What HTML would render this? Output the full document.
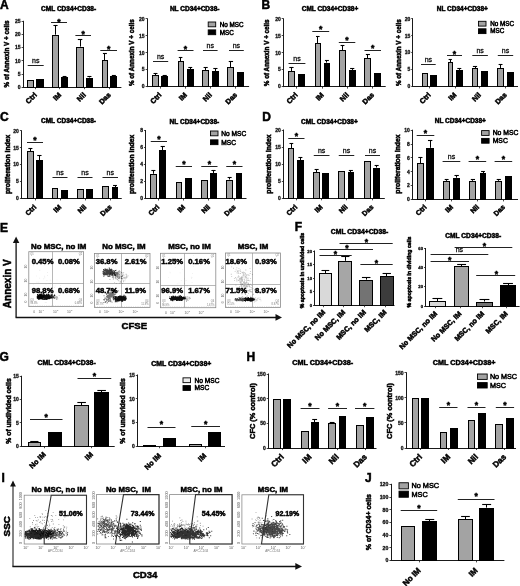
<!DOCTYPE html>
<html><head><meta charset="utf-8"><title>Figure</title>
<style>html,body{margin:0;padding:0;background:#fff;width:520px;height:586px;overflow:hidden}
svg{display:block;filter:blur(0.5px)} text[fill="#000"]{stroke:#000;stroke-width:0.5px} text[fill="#111"]{stroke:#111;stroke-width:0.3px}</style></head>
<body>
<svg width="520" height="586" viewBox="0 0 520 586" font-family='"Liberation Sans", sans-serif'>
<rect width="520" height="586" fill="#fff"/>
<text x="0" y="8.6" font-size="12" font-weight="bold" text-anchor="start" fill="#000">A</text>
<text x="261.6" y="8.7" font-size="12" font-weight="bold" text-anchor="start" fill="#000">B</text>
<text x="0" y="121" font-size="12" font-weight="bold" text-anchor="start" fill="#000">C</text>
<text x="262.3" y="121" font-size="12" font-weight="bold" text-anchor="start" fill="#000">D</text>
<text x="0" y="231.6" font-size="12" font-weight="bold" text-anchor="start" fill="#000">E</text>
<text x="294.7" y="231.4" font-size="12" font-weight="bold" text-anchor="start" fill="#000">F</text>
<text x="-0.4" y="360.5" font-size="12" font-weight="bold" text-anchor="start" fill="#000">G</text>
<text x="246.4" y="360.8" font-size="12" font-weight="bold" text-anchor="start" fill="#000">H</text>
<text x="1.5" y="482.3" font-size="12" font-weight="bold" text-anchor="start" fill="#000">I</text>
<text x="364.9" y="482.3" font-size="12" font-weight="bold" text-anchor="start" fill="#000">J</text>
<line x1="23.5" y1="20.8" x2="23.5" y2="87.7" stroke="#1a1a1a" stroke-width="1"/>
<line x1="22.7" y1="87.5" x2="121.4" y2="87.5" stroke="#1a1a1a" stroke-width="1"/>
<line x1="21.6" y1="87.5" x2="23.2" y2="87.5" stroke="#1a1a1a" stroke-width="0.8"/>
<text x="20.6" y="89" font-size="5" font-weight="bold" text-anchor="end" fill="#111">0</text>
<line x1="21.6" y1="74.5" x2="23.2" y2="74.5" stroke="#1a1a1a" stroke-width="0.8"/>
<text x="20.6" y="75.82" font-size="5" font-weight="bold" text-anchor="end" fill="#111">5</text>
<line x1="21.6" y1="60.5" x2="23.2" y2="60.5" stroke="#1a1a1a" stroke-width="0.8"/>
<text x="20.6" y="62.64" font-size="5" font-weight="bold" text-anchor="end" fill="#111">10</text>
<line x1="21.6" y1="47.5" x2="23.2" y2="47.5" stroke="#1a1a1a" stroke-width="0.8"/>
<text x="20.6" y="49.46" font-size="5" font-weight="bold" text-anchor="end" fill="#111">15</text>
<line x1="21.6" y1="34.5" x2="23.2" y2="34.5" stroke="#1a1a1a" stroke-width="0.8"/>
<text x="20.6" y="36.28" font-size="5" font-weight="bold" text-anchor="end" fill="#111">20</text>
<line x1="21.6" y1="21.5" x2="23.2" y2="21.5" stroke="#1a1a1a" stroke-width="0.8"/>
<text x="20.6" y="23.1" font-size="5" font-weight="bold" text-anchor="end" fill="#111">25</text>
<rect x="27.5" y="80.5" width="6" height="7" fill="#a3a3a3" stroke="#000" stroke-width="1"/>
<rect x="36.5" y="79.5" width="7" height="8" fill="#000" stroke="#000" stroke-width="1"/>
<line x1="55.5" y1="34.7" x2="55.5" y2="25.4" stroke="#000" stroke-width="1"/>
<line x1="53.4" y1="25.5" x2="57.6" y2="25.5" stroke="#000" stroke-width="1.1"/>
<rect x="52.5" y="35.5" width="6" height="52" fill="#a3a3a3" stroke="#000" stroke-width="1"/>
<line x1="64.5" y1="77" x2="64.5" y2="76" stroke="#000" stroke-width="1"/>
<line x1="62.6" y1="76.5" x2="66.5" y2="76.5" stroke="#000" stroke-width="1.1"/>
<rect x="61.5" y="77.5" width="6" height="10" fill="#000" stroke="#000" stroke-width="1"/>
<line x1="80.5" y1="46.6" x2="80.5" y2="39" stroke="#000" stroke-width="1"/>
<line x1="77.8" y1="39.5" x2="82.3" y2="39.5" stroke="#000" stroke-width="1.1"/>
<rect x="76.5" y="47.5" width="7" height="40" fill="#a3a3a3" stroke="#000" stroke-width="1"/>
<line x1="89.5" y1="77.5" x2="89.5" y2="76.5" stroke="#000" stroke-width="1"/>
<line x1="87.36" y1="76.5" x2="91.44" y2="76.5" stroke="#000" stroke-width="1.1"/>
<rect x="86.5" y="78.5" width="6" height="9" fill="#000" stroke="#000" stroke-width="1"/>
<line x1="104.5" y1="60.5" x2="104.5" y2="53.5" stroke="#000" stroke-width="1"/>
<line x1="102.92" y1="53.5" x2="106.88" y2="53.5" stroke="#000" stroke-width="1.1"/>
<rect x="102.5" y="60.5" width="5" height="27" fill="#a3a3a3" stroke="#000" stroke-width="1"/>
<line x1="113.5" y1="76" x2="113.5" y2="75" stroke="#000" stroke-width="1"/>
<line x1="111.84" y1="75.5" x2="115.86" y2="75.5" stroke="#000" stroke-width="1.1"/>
<rect x="110.5" y="76.5" width="6" height="11" fill="#000" stroke="#000" stroke-width="1"/>
<line x1="27.7" y1="65.5" x2="43.7" y2="65.5" stroke="#222" stroke-width="1"/>
<text x="35.7" y="62.92" font-size="7" text-anchor="middle" fill="#111">ns</text>
<line x1="51" y1="22.5" x2="67" y2="22.5" stroke="#222" stroke-width="1"/>
<text x="59" y="24.5" font-size="8.6" font-weight="bold" text-anchor="middle" fill="#000">*</text>
<line x1="75.4" y1="35.5" x2="91" y2="35.5" stroke="#222" stroke-width="1"/>
<text x="83.2" y="36.9" font-size="8.6" font-weight="bold" text-anchor="middle" fill="#000">*</text>
<line x1="100.3" y1="50.5" x2="117" y2="50.5" stroke="#222" stroke-width="1"/>
<text x="108.65" y="51.9" font-size="8.6" font-weight="bold" text-anchor="middle" fill="#000">*</text>
<text x="68.6" y="10.84" font-size="6.5" font-weight="bold" text-anchor="middle" fill="#000">CML CD34+CD38-</text>
<text x="0" y="0" font-size="6.3" font-weight="bold" text-anchor="middle" fill="#000" transform="translate(9.26,54) rotate(-90)">% of Annexin V + cells</text>
<line x1="35.5" y1="87.2" x2="35.5" y2="89.2" stroke="#1a1a1a" stroke-width="0.8"/>
<text x="0" y="0" font-size="7.2" font-weight="bold" text-anchor="end" fill="#000" transform="translate(37.32,95.44) rotate(-45)">Ctrl</text>
<line x1="59.5" y1="87.2" x2="59.5" y2="89.2" stroke="#1a1a1a" stroke-width="0.8"/>
<text x="0" y="0" font-size="7.2" font-weight="bold" text-anchor="end" fill="#000" transform="translate(61.72,95.44) rotate(-45)">IM</text>
<line x1="84.5" y1="87.2" x2="84.5" y2="89.2" stroke="#1a1a1a" stroke-width="0.8"/>
<text x="0" y="0" font-size="7.2" font-weight="bold" text-anchor="end" fill="#000" transform="translate(86.37,95.44) rotate(-45)">Nil</text>
<line x1="109.5" y1="87.2" x2="109.5" y2="89.2" stroke="#1a1a1a" stroke-width="0.8"/>
<text x="0" y="0" font-size="7.2" font-weight="bold" text-anchor="end" fill="#000" transform="translate(111.22,95.44) rotate(-45)">Das</text>
<line x1="147.5" y1="18.3" x2="147.5" y2="87.1" stroke="#1a1a1a" stroke-width="1"/>
<line x1="146.7" y1="86.5" x2="249.1" y2="86.5" stroke="#1a1a1a" stroke-width="1"/>
<line x1="145.6" y1="86.5" x2="147.2" y2="86.5" stroke="#1a1a1a" stroke-width="0.8"/>
<text x="144.6" y="88.4" font-size="5" font-weight="bold" text-anchor="end" fill="#111">0</text>
<line x1="145.6" y1="69.5" x2="147.2" y2="69.5" stroke="#1a1a1a" stroke-width="0.8"/>
<text x="144.6" y="71.45" font-size="5" font-weight="bold" text-anchor="end" fill="#111">5</text>
<line x1="145.6" y1="52.5" x2="147.2" y2="52.5" stroke="#1a1a1a" stroke-width="0.8"/>
<text x="144.6" y="54.5" font-size="5" font-weight="bold" text-anchor="end" fill="#111">10</text>
<line x1="145.6" y1="35.5" x2="147.2" y2="35.5" stroke="#1a1a1a" stroke-width="0.8"/>
<text x="144.6" y="37.55" font-size="5" font-weight="bold" text-anchor="end" fill="#111">15</text>
<line x1="145.6" y1="18.5" x2="147.2" y2="18.5" stroke="#1a1a1a" stroke-width="0.8"/>
<text x="144.6" y="20.6" font-size="5" font-weight="bold" text-anchor="end" fill="#111">20</text>
<line x1="155.5" y1="75" x2="155.5" y2="73.4" stroke="#000" stroke-width="1"/>
<line x1="153.52" y1="73.5" x2="157.48" y2="73.5" stroke="#000" stroke-width="1.1"/>
<rect x="152.5" y="75.5" width="6" height="11" fill="#a3a3a3" stroke="#000" stroke-width="1"/>
<line x1="164.5" y1="76.1" x2="164.5" y2="75" stroke="#000" stroke-width="1"/>
<line x1="162.6" y1="75.5" x2="166.8" y2="75.5" stroke="#000" stroke-width="1.1"/>
<rect x="161.5" y="76.5" width="6" height="10" fill="#000" stroke="#000" stroke-width="1"/>
<line x1="180.5" y1="61.4" x2="180.5" y2="57.3" stroke="#000" stroke-width="1"/>
<line x1="178.8" y1="57.5" x2="182.4" y2="57.5" stroke="#000" stroke-width="1.1"/>
<rect x="178.5" y="61.5" width="5" height="25" fill="#a3a3a3" stroke="#000" stroke-width="1"/>
<line x1="190.5" y1="69.3" x2="190.5" y2="67.6" stroke="#000" stroke-width="1"/>
<line x1="188.3" y1="67.5" x2="192.2" y2="67.5" stroke="#000" stroke-width="1.1"/>
<rect x="187.5" y="69.5" width="6" height="17" fill="#000" stroke="#000" stroke-width="1"/>
<line x1="205.5" y1="70.4" x2="205.5" y2="67.2" stroke="#000" stroke-width="1"/>
<line x1="203.58" y1="67.5" x2="207.72" y2="67.5" stroke="#000" stroke-width="1.1"/>
<rect x="202.5" y="70.5" width="6" height="16" fill="#a3a3a3" stroke="#000" stroke-width="1"/>
<line x1="215.5" y1="71" x2="215.5" y2="68" stroke="#000" stroke-width="1"/>
<line x1="213.3" y1="68.5" x2="217.5" y2="68.5" stroke="#000" stroke-width="1.1"/>
<rect x="212.5" y="71.5" width="6" height="15" fill="#000" stroke="#000" stroke-width="1"/>
<line x1="230.5" y1="67.2" x2="230.5" y2="61" stroke="#000" stroke-width="1"/>
<line x1="228.74" y1="61.5" x2="233.06" y2="61.5" stroke="#000" stroke-width="1.1"/>
<rect x="227.5" y="67.5" width="6" height="19" fill="#a3a3a3" stroke="#000" stroke-width="1"/>
<rect x="237.5" y="72.5" width="6" height="14" fill="#000" stroke="#000" stroke-width="1"/>
<line x1="153" y1="61.5" x2="168.2" y2="61.5" stroke="#222" stroke-width="1"/>
<text x="160.6" y="58.92" font-size="7" text-anchor="middle" fill="#111">ns</text>
<line x1="177.6" y1="50.5" x2="193.5" y2="50.5" stroke="#222" stroke-width="1"/>
<text x="185.55" y="51.9" font-size="8.6" font-weight="bold" text-anchor="middle" fill="#000">*</text>
<line x1="203" y1="50.5" x2="217.6" y2="50.5" stroke="#222" stroke-width="1"/>
<text x="210.3" y="48.22" font-size="7" text-anchor="middle" fill="#111">ns</text>
<line x1="229" y1="50.5" x2="243.8" y2="50.5" stroke="#222" stroke-width="1"/>
<text x="236.4" y="48.22" font-size="7" text-anchor="middle" fill="#111">ns</text>
<text x="194.7" y="10.84" font-size="6.5" font-weight="bold" text-anchor="middle" fill="#000">NL CD34+CD38-</text>
<text x="0" y="0" font-size="6.3" font-weight="bold" text-anchor="middle" fill="#000" transform="translate(133.86,52.7) rotate(-90)">% of Annexin V + cells</text>
<line x1="160.5" y1="86.6" x2="160.5" y2="88.6" stroke="#1a1a1a" stroke-width="0.8"/>
<text x="0" y="0" font-size="7.2" font-weight="bold" text-anchor="end" fill="#000" transform="translate(162.02,95.44) rotate(-45)">Ctrl</text>
<line x1="185.5" y1="86.6" x2="185.5" y2="88.6" stroke="#1a1a1a" stroke-width="0.8"/>
<text x="0" y="0" font-size="7.2" font-weight="bold" text-anchor="end" fill="#000" transform="translate(187.37,95.44) rotate(-45)">IM</text>
<line x1="210.5" y1="86.6" x2="210.5" y2="88.6" stroke="#1a1a1a" stroke-width="0.8"/>
<text x="0" y="0" font-size="7.2" font-weight="bold" text-anchor="end" fill="#000" transform="translate(212.37,95.44) rotate(-45)">Nil</text>
<line x1="235.5" y1="86.6" x2="235.5" y2="88.6" stroke="#1a1a1a" stroke-width="0.8"/>
<text x="0" y="0" font-size="7.2" font-weight="bold" text-anchor="end" fill="#000" transform="translate(237.57,95.44) rotate(-45)">Das</text>
<rect x="208.2" y="22" width="7.5" height="4.8" fill="#a3a3a3" stroke="#000" stroke-width="0.9"/>
<rect x="208.2" y="29.9" width="7.5" height="4.8" fill="#000" stroke="#000" stroke-width="0.9"/>
<text x="219.8" y="26.67" font-size="6.3" text-anchor="start" fill="#000">No MSC</text>
<text x="219.8" y="34.57" font-size="6.3" text-anchor="start" fill="#000">MSC</text>
<line x1="283.5" y1="18.3" x2="283.5" y2="87.1" stroke="#1a1a1a" stroke-width="1"/>
<line x1="282.8" y1="86.5" x2="385.7" y2="86.5" stroke="#1a1a1a" stroke-width="1"/>
<line x1="281.7" y1="86.5" x2="283.3" y2="86.5" stroke="#1a1a1a" stroke-width="0.8"/>
<text x="280.7" y="88.4" font-size="5" font-weight="bold" text-anchor="end" fill="#111">0</text>
<line x1="281.7" y1="69.5" x2="283.3" y2="69.5" stroke="#1a1a1a" stroke-width="0.8"/>
<text x="280.7" y="71.45" font-size="5" font-weight="bold" text-anchor="end" fill="#111">5</text>
<line x1="281.7" y1="52.5" x2="283.3" y2="52.5" stroke="#1a1a1a" stroke-width="0.8"/>
<text x="280.7" y="54.5" font-size="5" font-weight="bold" text-anchor="end" fill="#111">10</text>
<line x1="281.7" y1="35.5" x2="283.3" y2="35.5" stroke="#1a1a1a" stroke-width="0.8"/>
<text x="280.7" y="37.55" font-size="5" font-weight="bold" text-anchor="end" fill="#111">15</text>
<line x1="281.7" y1="18.5" x2="283.3" y2="18.5" stroke="#1a1a1a" stroke-width="0.8"/>
<text x="280.7" y="20.6" font-size="5" font-weight="bold" text-anchor="end" fill="#111">20</text>
<line x1="291.5" y1="71" x2="291.5" y2="67.3" stroke="#000" stroke-width="1"/>
<line x1="289.32" y1="67.5" x2="293.58" y2="67.5" stroke="#000" stroke-width="1.1"/>
<rect x="288.5" y="71.5" width="6" height="15" fill="#a3a3a3" stroke="#000" stroke-width="1"/>
<rect x="298.5" y="74.5" width="6" height="12" fill="#000" stroke="#000" stroke-width="1"/>
<line x1="317.5" y1="43.2" x2="317.5" y2="36.7" stroke="#000" stroke-width="1"/>
<line x1="316" y1="36.5" x2="319.6" y2="36.5" stroke="#000" stroke-width="1.1"/>
<rect x="315.5" y="43.5" width="5" height="43" fill="#a3a3a3" stroke="#000" stroke-width="1"/>
<line x1="326.5" y1="62.6" x2="326.5" y2="60.5" stroke="#000" stroke-width="1"/>
<line x1="324.92" y1="60.5" x2="328.88" y2="60.5" stroke="#000" stroke-width="1.1"/>
<rect x="324.5" y="63.5" width="5" height="23" fill="#000" stroke="#000" stroke-width="1"/>
<line x1="342.5" y1="50.3" x2="342.5" y2="45" stroke="#000" stroke-width="1"/>
<line x1="340.58" y1="45.5" x2="344.42" y2="45.5" stroke="#000" stroke-width="1.1"/>
<rect x="339.5" y="50.5" width="6" height="36" fill="#a3a3a3" stroke="#000" stroke-width="1"/>
<line x1="352.5" y1="69.9" x2="352.5" y2="68.5" stroke="#000" stroke-width="1"/>
<line x1="350.1" y1="68.5" x2="354.3" y2="68.5" stroke="#000" stroke-width="1.1"/>
<rect x="349.5" y="70.5" width="6" height="16" fill="#000" stroke="#000" stroke-width="1"/>
<line x1="367.5" y1="58.2" x2="367.5" y2="54.1" stroke="#000" stroke-width="1"/>
<line x1="365.86" y1="54.5" x2="369.94" y2="54.5" stroke="#000" stroke-width="1.1"/>
<rect x="364.5" y="58.5" width="6" height="28" fill="#a3a3a3" stroke="#000" stroke-width="1"/>
<rect x="374.5" y="73.5" width="6" height="13" fill="#000" stroke="#000" stroke-width="1"/>
<line x1="288.5" y1="63.5" x2="305.4" y2="63.5" stroke="#222" stroke-width="1"/>
<text x="296.95" y="60.52" font-size="7" text-anchor="middle" fill="#111">ns</text>
<line x1="312.3" y1="31.5" x2="329.2" y2="31.5" stroke="#222" stroke-width="1"/>
<text x="320.75" y="32.1" font-size="8.6" font-weight="bold" text-anchor="middle" fill="#000">*</text>
<line x1="338.8" y1="42.5" x2="355.3" y2="42.5" stroke="#222" stroke-width="1"/>
<text x="347.05" y="43.4" font-size="8.6" font-weight="bold" text-anchor="middle" fill="#000">*</text>
<line x1="364.5" y1="50.5" x2="381" y2="50.5" stroke="#222" stroke-width="1"/>
<text x="372.75" y="51.4" font-size="8.6" font-weight="bold" text-anchor="middle" fill="#000">*</text>
<text x="330" y="11.34" font-size="6.5" font-weight="bold" text-anchor="middle" fill="#000">CML CD34+CD38+</text>
<text x="0" y="0" font-size="6.3" font-weight="bold" text-anchor="middle" fill="#000" transform="translate(269.46,52.8) rotate(-90)">% of Annexin V + cells</text>
<line x1="296.5" y1="86.6" x2="296.5" y2="88.6" stroke="#1a1a1a" stroke-width="0.8"/>
<text x="0" y="0" font-size="7.2" font-weight="bold" text-anchor="end" fill="#000" transform="translate(298.17,95.44) rotate(-45)">Ctrl</text>
<line x1="322.5" y1="86.6" x2="322.5" y2="88.6" stroke="#1a1a1a" stroke-width="0.8"/>
<text x="0" y="0" font-size="7.2" font-weight="bold" text-anchor="end" fill="#000" transform="translate(324.32,95.44) rotate(-45)">IM</text>
<line x1="347.5" y1="86.6" x2="347.5" y2="88.6" stroke="#1a1a1a" stroke-width="0.8"/>
<text x="0" y="0" font-size="7.2" font-weight="bold" text-anchor="end" fill="#000" transform="translate(349.32,95.44) rotate(-45)">Nil</text>
<line x1="372.5" y1="86.6" x2="372.5" y2="88.6" stroke="#1a1a1a" stroke-width="0.8"/>
<text x="0" y="0" font-size="7.2" font-weight="bold" text-anchor="end" fill="#000" transform="translate(374.57,95.44) rotate(-45)">Das</text>
<line x1="412.5" y1="18.3" x2="412.5" y2="86.9" stroke="#1a1a1a" stroke-width="1"/>
<line x1="412.3" y1="86.5" x2="518" y2="86.5" stroke="#1a1a1a" stroke-width="1"/>
<line x1="411.2" y1="86.5" x2="412.8" y2="86.5" stroke="#1a1a1a" stroke-width="0.8"/>
<text x="410.2" y="88.2" font-size="5" font-weight="bold" text-anchor="end" fill="#111">0</text>
<line x1="411.2" y1="69.5" x2="412.8" y2="69.5" stroke="#1a1a1a" stroke-width="0.8"/>
<text x="410.2" y="71.3" font-size="5" font-weight="bold" text-anchor="end" fill="#111">5</text>
<line x1="411.2" y1="52.5" x2="412.8" y2="52.5" stroke="#1a1a1a" stroke-width="0.8"/>
<text x="410.2" y="54.4" font-size="5" font-weight="bold" text-anchor="end" fill="#111">10</text>
<line x1="411.2" y1="35.5" x2="412.8" y2="35.5" stroke="#1a1a1a" stroke-width="0.8"/>
<text x="410.2" y="37.5" font-size="5" font-weight="bold" text-anchor="end" fill="#111">15</text>
<line x1="411.2" y1="18.5" x2="412.8" y2="18.5" stroke="#1a1a1a" stroke-width="0.8"/>
<text x="410.2" y="20.6" font-size="5" font-weight="bold" text-anchor="end" fill="#111">20</text>
<rect x="422.5" y="73.5" width="5" height="13" fill="#a3a3a3" stroke="#000" stroke-width="1"/>
<rect x="430.5" y="75.5" width="6" height="11" fill="#000" stroke="#000" stroke-width="1"/>
<line x1="450.5" y1="62.3" x2="450.5" y2="59.7" stroke="#000" stroke-width="1"/>
<line x1="448.6" y1="59.5" x2="451.9" y2="59.5" stroke="#000" stroke-width="1.1"/>
<rect x="448.5" y="62.5" width="4" height="24" fill="#a3a3a3" stroke="#000" stroke-width="1"/>
<line x1="459.5" y1="69.9" x2="459.5" y2="68.9" stroke="#000" stroke-width="1"/>
<line x1="457.32" y1="68.5" x2="461.28" y2="68.5" stroke="#000" stroke-width="1.1"/>
<rect x="456.5" y="70.5" width="6" height="16" fill="#000" stroke="#000" stroke-width="1"/>
<line x1="475.5" y1="68.5" x2="475.5" y2="66.1" stroke="#000" stroke-width="1"/>
<line x1="472.9" y1="66.5" x2="477.1" y2="66.5" stroke="#000" stroke-width="1.1"/>
<rect x="472.5" y="68.5" width="5" height="18" fill="#a3a3a3" stroke="#000" stroke-width="1"/>
<rect x="481.5" y="71.5" width="6" height="15" fill="#000" stroke="#000" stroke-width="1"/>
<line x1="500.5" y1="68.5" x2="500.5" y2="64.8" stroke="#000" stroke-width="1"/>
<line x1="498.6" y1="64.5" x2="502.5" y2="64.5" stroke="#000" stroke-width="1.1"/>
<rect x="497.5" y="68.5" width="6" height="18" fill="#a3a3a3" stroke="#000" stroke-width="1"/>
<rect x="507.5" y="72.5" width="6" height="14" fill="#000" stroke="#000" stroke-width="1"/>
<line x1="421" y1="64.5" x2="435.7" y2="64.5" stroke="#222" stroke-width="1"/>
<text x="428.35" y="61.72" font-size="7" text-anchor="middle" fill="#111">ns</text>
<line x1="447" y1="55.5" x2="462" y2="55.5" stroke="#222" stroke-width="1"/>
<text x="454.5" y="56.5" font-size="8.6" font-weight="bold" text-anchor="middle" fill="#000">*</text>
<line x1="472.3" y1="55.5" x2="487.9" y2="55.5" stroke="#222" stroke-width="1"/>
<text x="480.1" y="52.92" font-size="7" text-anchor="middle" fill="#111">ns</text>
<line x1="497.8" y1="55.5" x2="513.2" y2="55.5" stroke="#222" stroke-width="1"/>
<text x="505.5" y="52.92" font-size="7" text-anchor="middle" fill="#111">ns</text>
<text x="462.3" y="11.34" font-size="6.5" font-weight="bold" text-anchor="middle" fill="#000">NL CD34+CD38+</text>
<text x="0" y="0" font-size="6.3" font-weight="bold" text-anchor="middle" fill="#000" transform="translate(401.26,52.7) rotate(-90)">% of Annexin V + cells</text>
<line x1="429.5" y1="86.4" x2="429.5" y2="88.4" stroke="#1a1a1a" stroke-width="0.8"/>
<text x="0" y="0" font-size="7.2" font-weight="bold" text-anchor="end" fill="#000" transform="translate(431.22,95.44) rotate(-45)">Ctrl</text>
<line x1="455.5" y1="86.4" x2="455.5" y2="88.4" stroke="#1a1a1a" stroke-width="0.8"/>
<text x="0" y="0" font-size="7.2" font-weight="bold" text-anchor="end" fill="#000" transform="translate(456.87,95.44) rotate(-45)">IM</text>
<line x1="479.5" y1="86.4" x2="479.5" y2="88.4" stroke="#1a1a1a" stroke-width="0.8"/>
<text x="0" y="0" font-size="7.2" font-weight="bold" text-anchor="end" fill="#000" transform="translate(481.52,95.44) rotate(-45)">Nil</text>
<line x1="505.5" y1="86.4" x2="505.5" y2="88.4" stroke="#1a1a1a" stroke-width="0.8"/>
<text x="0" y="0" font-size="7.2" font-weight="bold" text-anchor="end" fill="#000" transform="translate(507.27,95.44) rotate(-45)">Das</text>
<rect x="478.5" y="21.3" width="7.5" height="4.8" fill="#a3a3a3" stroke="#000" stroke-width="0.9"/>
<rect x="478.5" y="28.8" width="7.5" height="4.8" fill="#000" stroke="#000" stroke-width="0.9"/>
<text x="490.3" y="25.97" font-size="6.3" text-anchor="start" fill="#000">No MSC</text>
<text x="490.3" y="33.47" font-size="6.3" text-anchor="start" fill="#000">MSC</text>
<line x1="21.5" y1="130.3" x2="21.5" y2="198.9" stroke="#1a1a1a" stroke-width="1"/>
<line x1="21" y1="198.5" x2="121.75" y2="198.5" stroke="#1a1a1a" stroke-width="1"/>
<line x1="19.9" y1="198.5" x2="21.5" y2="198.5" stroke="#1a1a1a" stroke-width="0.8"/>
<text x="18.9" y="200.2" font-size="5" font-weight="bold" text-anchor="end" fill="#111">0</text>
<line x1="19.9" y1="181.5" x2="21.5" y2="181.5" stroke="#1a1a1a" stroke-width="0.8"/>
<text x="18.9" y="183.3" font-size="5" font-weight="bold" text-anchor="end" fill="#111">5</text>
<line x1="19.9" y1="164.5" x2="21.5" y2="164.5" stroke="#1a1a1a" stroke-width="0.8"/>
<text x="18.9" y="166.4" font-size="5" font-weight="bold" text-anchor="end" fill="#111">10</text>
<line x1="19.9" y1="147.5" x2="21.5" y2="147.5" stroke="#1a1a1a" stroke-width="0.8"/>
<text x="18.9" y="149.5" font-size="5" font-weight="bold" text-anchor="end" fill="#111">15</text>
<line x1="19.9" y1="130.5" x2="21.5" y2="130.5" stroke="#1a1a1a" stroke-width="0.8"/>
<text x="18.9" y="132.6" font-size="5" font-weight="bold" text-anchor="end" fill="#111">20</text>
<line x1="30.5" y1="151.25" x2="30.5" y2="148" stroke="#000" stroke-width="1"/>
<line x1="28.35" y1="148.5" x2="32.4" y2="148.5" stroke="#000" stroke-width="1.1"/>
<rect x="27.5" y="151.5" width="6" height="47" fill="#a3a3a3" stroke="#000" stroke-width="1"/>
<line x1="39.5" y1="160" x2="39.5" y2="155" stroke="#000" stroke-width="1"/>
<line x1="37.2" y1="155.5" x2="41.55" y2="155.5" stroke="#000" stroke-width="1.1"/>
<rect x="36.5" y="160.5" width="6" height="38" fill="#000" stroke="#000" stroke-width="1"/>
<rect x="52.5" y="188.5" width="5" height="10" fill="#a3a3a3" stroke="#000" stroke-width="1"/>
<rect x="61.5" y="190.5" width="6" height="8" fill="#000" stroke="#000" stroke-width="1"/>
<rect x="77.5" y="189.5" width="6" height="9" fill="#a3a3a3" stroke="#000" stroke-width="1"/>
<rect x="86.5" y="189.5" width="6" height="9" fill="#000" stroke="#000" stroke-width="1"/>
<rect x="102.5" y="186.5" width="6" height="12" fill="#a3a3a3" stroke="#000" stroke-width="1"/>
<line x1="115.5" y1="187" x2="115.5" y2="185.7" stroke="#000" stroke-width="1"/>
<line x1="113.05" y1="185.5" x2="116.95" y2="185.5" stroke="#000" stroke-width="1.1"/>
<rect x="112.5" y="187.5" width="5" height="11" fill="#000" stroke="#000" stroke-width="1"/>
<line x1="27" y1="142.5" x2="43" y2="142.5" stroke="#222" stroke-width="1"/>
<text x="35" y="143.2" font-size="8.6" font-weight="bold" text-anchor="middle" fill="#000">*</text>
<line x1="52.5" y1="177.5" x2="67.5" y2="177.5" stroke="#222" stroke-width="1"/>
<text x="60" y="175.02" font-size="7" text-anchor="middle" fill="#111">ns</text>
<line x1="77.5" y1="177.5" x2="92.5" y2="177.5" stroke="#222" stroke-width="1"/>
<text x="85" y="175.02" font-size="7" text-anchor="middle" fill="#111">ns</text>
<line x1="102.5" y1="177.5" x2="118" y2="177.5" stroke="#222" stroke-width="1"/>
<text x="110.25" y="175.02" font-size="7" text-anchor="middle" fill="#111">ns</text>
<text x="68.5" y="122.84" font-size="6.5" font-weight="bold" text-anchor="middle" fill="#000">CML CD34+CD38-</text>
<text x="0" y="0" font-size="6.8" font-weight="bold" text-anchor="middle" fill="#000" transform="translate(9.93,164.4) rotate(-90)">proliferation index</text>
<line x1="35.5" y1="198.4" x2="35.5" y2="200.4" stroke="#1a1a1a" stroke-width="0.8"/>
<text x="0" y="0" font-size="7" font-weight="bold" text-anchor="end" fill="#000" transform="translate(36.77,207.54) rotate(-45)">Ctrl</text>
<line x1="60.5" y1="198.4" x2="60.5" y2="200.4" stroke="#1a1a1a" stroke-width="0.8"/>
<text x="0" y="0" font-size="7" font-weight="bold" text-anchor="end" fill="#000" transform="translate(61.77,207.54) rotate(-45)">IM</text>
<line x1="85.5" y1="198.4" x2="85.5" y2="200.4" stroke="#1a1a1a" stroke-width="0.8"/>
<text x="0" y="0" font-size="7" font-weight="bold" text-anchor="end" fill="#000" transform="translate(86.9,207.54) rotate(-45)">Nil</text>
<line x1="110.5" y1="198.4" x2="110.5" y2="200.4" stroke="#1a1a1a" stroke-width="0.8"/>
<text x="0" y="0" font-size="7" font-weight="bold" text-anchor="end" fill="#000" transform="translate(112.15,207.54) rotate(-45)">Das</text>
<line x1="145.5" y1="130" x2="145.5" y2="199" stroke="#1a1a1a" stroke-width="1"/>
<line x1="145.1" y1="198.5" x2="246.5" y2="198.5" stroke="#1a1a1a" stroke-width="1"/>
<line x1="144" y1="198.5" x2="145.6" y2="198.5" stroke="#1a1a1a" stroke-width="0.8"/>
<text x="143" y="200.3" font-size="5" font-weight="bold" text-anchor="end" fill="#111">0</text>
<line x1="144" y1="181.5" x2="145.6" y2="181.5" stroke="#1a1a1a" stroke-width="0.8"/>
<text x="143" y="183.3" font-size="5" font-weight="bold" text-anchor="end" fill="#111">2</text>
<line x1="144" y1="164.5" x2="145.6" y2="164.5" stroke="#1a1a1a" stroke-width="0.8"/>
<text x="143" y="166.3" font-size="5" font-weight="bold" text-anchor="end" fill="#111">4</text>
<line x1="144" y1="147.5" x2="145.6" y2="147.5" stroke="#1a1a1a" stroke-width="0.8"/>
<text x="143" y="149.3" font-size="5" font-weight="bold" text-anchor="end" fill="#111">6</text>
<line x1="144" y1="130.5" x2="145.6" y2="130.5" stroke="#1a1a1a" stroke-width="0.8"/>
<text x="143" y="132.3" font-size="5" font-weight="bold" text-anchor="end" fill="#111">8</text>
<line x1="153.5" y1="173.75" x2="153.5" y2="170.5" stroke="#000" stroke-width="1"/>
<line x1="151.35" y1="170.5" x2="155.4" y2="170.5" stroke="#000" stroke-width="1.1"/>
<rect x="150.5" y="174.5" width="6" height="24" fill="#a3a3a3" stroke="#000" stroke-width="1"/>
<line x1="162.5" y1="150" x2="162.5" y2="146.25" stroke="#000" stroke-width="1"/>
<line x1="160.65" y1="146.5" x2="164.85" y2="146.5" stroke="#000" stroke-width="1.1"/>
<rect x="159.5" y="150.5" width="6" height="48" fill="#000" stroke="#000" stroke-width="1"/>
<rect x="176.5" y="182.5" width="5" height="16" fill="#a3a3a3" stroke="#000" stroke-width="1"/>
<rect x="185.5" y="178.5" width="6" height="20" fill="#000" stroke="#000" stroke-width="1"/>
<rect x="201.5" y="180.5" width="6" height="18" fill="#a3a3a3" stroke="#000" stroke-width="1"/>
<line x1="213.5" y1="173" x2="213.5" y2="170.5" stroke="#000" stroke-width="1"/>
<line x1="211.4" y1="170.5" x2="215.6" y2="170.5" stroke="#000" stroke-width="1.1"/>
<rect x="210.5" y="173.5" width="6" height="25" fill="#000" stroke="#000" stroke-width="1"/>
<line x1="229.5" y1="179.5" x2="229.5" y2="177" stroke="#000" stroke-width="1"/>
<line x1="227.6" y1="177.5" x2="231.65" y2="177.5" stroke="#000" stroke-width="1.1"/>
<rect x="226.5" y="180.5" width="6" height="18" fill="#a3a3a3" stroke="#000" stroke-width="1"/>
<rect x="236.5" y="173.5" width="5" height="25" fill="#000" stroke="#000" stroke-width="1"/>
<line x1="150.75" y1="141.5" x2="167" y2="141.5" stroke="#222" stroke-width="1"/>
<text x="158.88" y="141.95" font-size="8.6" font-weight="bold" text-anchor="middle" fill="#000">*</text>
<line x1="175.75" y1="166.5" x2="192" y2="166.5" stroke="#222" stroke-width="1"/>
<text x="183.88" y="166.95" font-size="8.6" font-weight="bold" text-anchor="middle" fill="#000">*</text>
<line x1="201.25" y1="166.5" x2="217.5" y2="166.5" stroke="#222" stroke-width="1"/>
<text x="209.38" y="166.95" font-size="8.6" font-weight="bold" text-anchor="middle" fill="#000">*</text>
<line x1="226.25" y1="166.5" x2="242.5" y2="166.5" stroke="#222" stroke-width="1"/>
<text x="234.38" y="166.95" font-size="8.6" font-weight="bold" text-anchor="middle" fill="#000">*</text>
<text x="194.4" y="124.34" font-size="6.5" font-weight="bold" text-anchor="middle" fill="#000">NL CD34+CD38-</text>
<text x="0" y="0" font-size="6.8" font-weight="bold" text-anchor="middle" fill="#000" transform="translate(133.68,164.4) rotate(-90)">proliferation index</text>
<line x1="158.5" y1="198.5" x2="158.5" y2="200.5" stroke="#1a1a1a" stroke-width="0.8"/>
<text x="0" y="0" font-size="7" font-weight="bold" text-anchor="end" fill="#000" transform="translate(159.9,207.54) rotate(-45)">Ctrl</text>
<line x1="183.5" y1="198.5" x2="183.5" y2="200.5" stroke="#1a1a1a" stroke-width="0.8"/>
<text x="0" y="0" font-size="7" font-weight="bold" text-anchor="end" fill="#000" transform="translate(185.65,207.54) rotate(-45)">IM</text>
<line x1="208.5" y1="198.5" x2="208.5" y2="200.5" stroke="#1a1a1a" stroke-width="0.8"/>
<text x="0" y="0" font-size="7" font-weight="bold" text-anchor="end" fill="#000" transform="translate(210.65,207.54) rotate(-45)">Nil</text>
<line x1="234.5" y1="198.5" x2="234.5" y2="200.5" stroke="#1a1a1a" stroke-width="0.8"/>
<text x="0" y="0" font-size="7" font-weight="bold" text-anchor="end" fill="#000" transform="translate(236.15,207.54) rotate(-45)">Das</text>
<rect x="210.5" y="131" width="7.5" height="4.8" fill="#a3a3a3" stroke="#000" stroke-width="0.9"/>
<rect x="210.5" y="139.85" width="7.5" height="4.8" fill="#000" stroke="#000" stroke-width="0.9"/>
<text x="221.25" y="135.78" font-size="6.6" text-anchor="start" fill="#000">No MSC</text>
<text x="221.25" y="144.63" font-size="6.6" text-anchor="start" fill="#000">MSC</text>
<line x1="283.5" y1="129.5" x2="283.5" y2="198.8" stroke="#1a1a1a" stroke-width="1"/>
<line x1="282.9" y1="198.5" x2="384.8" y2="198.5" stroke="#1a1a1a" stroke-width="1"/>
<line x1="281.8" y1="198.5" x2="283.4" y2="198.5" stroke="#1a1a1a" stroke-width="0.8"/>
<text x="280.8" y="200.1" font-size="5" font-weight="bold" text-anchor="end" fill="#111">0</text>
<line x1="281.8" y1="181.5" x2="283.4" y2="181.5" stroke="#1a1a1a" stroke-width="0.8"/>
<text x="280.8" y="183.03" font-size="5" font-weight="bold" text-anchor="end" fill="#111">5</text>
<line x1="281.8" y1="164.5" x2="283.4" y2="164.5" stroke="#1a1a1a" stroke-width="0.8"/>
<text x="280.8" y="165.95" font-size="5" font-weight="bold" text-anchor="end" fill="#111">10</text>
<line x1="281.8" y1="147.5" x2="283.4" y2="147.5" stroke="#1a1a1a" stroke-width="0.8"/>
<text x="280.8" y="148.88" font-size="5" font-weight="bold" text-anchor="end" fill="#111">15</text>
<line x1="281.8" y1="130.5" x2="283.4" y2="130.5" stroke="#1a1a1a" stroke-width="0.8"/>
<text x="280.8" y="131.8" font-size="5" font-weight="bold" text-anchor="end" fill="#111">20</text>
<line x1="291.5" y1="148" x2="291.5" y2="143" stroke="#000" stroke-width="1"/>
<line x1="289.5" y1="143.5" x2="293.25" y2="143.5" stroke="#000" stroke-width="1.1"/>
<rect x="288.5" y="148.5" width="5" height="50" fill="#a3a3a3" stroke="#000" stroke-width="1"/>
<line x1="300.5" y1="160" x2="300.5" y2="157.5" stroke="#000" stroke-width="1"/>
<line x1="298.35" y1="157.5" x2="302.4" y2="157.5" stroke="#000" stroke-width="1.1"/>
<rect x="297.5" y="160.5" width="6" height="38" fill="#000" stroke="#000" stroke-width="1"/>
<line x1="316.5" y1="172" x2="316.5" y2="169.25" stroke="#000" stroke-width="1"/>
<line x1="314.6" y1="169.5" x2="318.65" y2="169.5" stroke="#000" stroke-width="1.1"/>
<rect x="313.5" y="172.5" width="6" height="26" fill="#a3a3a3" stroke="#000" stroke-width="1"/>
<rect x="322.5" y="173.5" width="6" height="25" fill="#000" stroke="#000" stroke-width="1"/>
<rect x="338.5" y="171.5" width="6" height="27" fill="#a3a3a3" stroke="#000" stroke-width="1"/>
<line x1="350.5" y1="172" x2="350.5" y2="170.5" stroke="#000" stroke-width="1"/>
<line x1="348.85" y1="170.5" x2="352.9" y2="170.5" stroke="#000" stroke-width="1.1"/>
<rect x="348.5" y="172.5" width="5" height="26" fill="#000" stroke="#000" stroke-width="1"/>
<rect x="364.5" y="161.5" width="6" height="37" fill="#a3a3a3" stroke="#000" stroke-width="1"/>
<line x1="376.5" y1="167.5" x2="376.5" y2="165.75" stroke="#000" stroke-width="1"/>
<line x1="374.6" y1="165.5" x2="378.65" y2="165.5" stroke="#000" stroke-width="1.1"/>
<rect x="373.5" y="168.5" width="6" height="30" fill="#000" stroke="#000" stroke-width="1"/>
<line x1="288.25" y1="138.5" x2="304.5" y2="138.5" stroke="#222" stroke-width="1"/>
<text x="296.38" y="138.7" font-size="8.6" font-weight="bold" text-anchor="middle" fill="#000">*</text>
<line x1="313.75" y1="155.5" x2="329.5" y2="155.5" stroke="#222" stroke-width="1"/>
<text x="321.62" y="152.52" font-size="7" text-anchor="middle" fill="#111">ns</text>
<line x1="338.75" y1="155.5" x2="354.25" y2="155.5" stroke="#222" stroke-width="1"/>
<text x="346.5" y="152.52" font-size="7" text-anchor="middle" fill="#111">ns</text>
<line x1="365" y1="155.5" x2="380" y2="155.5" stroke="#222" stroke-width="1"/>
<text x="372.5" y="152.52" font-size="7" text-anchor="middle" fill="#111">ns</text>
<text x="329.4" y="124.34" font-size="6.5" font-weight="bold" text-anchor="middle" fill="#000">CML CD34+CD38+</text>
<text x="0" y="0" font-size="6.8" font-weight="bold" text-anchor="middle" fill="#000" transform="translate(271.18,164.1) rotate(-90)">proliferation index</text>
<line x1="296.5" y1="198.3" x2="296.5" y2="200.3" stroke="#1a1a1a" stroke-width="0.8"/>
<text x="0" y="0" font-size="7" font-weight="bold" text-anchor="end" fill="#000" transform="translate(297.77,207.54) rotate(-45)">Ctrl</text>
<line x1="321.5" y1="198.3" x2="321.5" y2="200.3" stroke="#1a1a1a" stroke-width="0.8"/>
<text x="0" y="0" font-size="7" font-weight="bold" text-anchor="end" fill="#000" transform="translate(323.02,207.54) rotate(-45)">IM</text>
<line x1="346.5" y1="198.3" x2="346.5" y2="200.3" stroke="#1a1a1a" stroke-width="0.8"/>
<text x="0" y="0" font-size="7" font-weight="bold" text-anchor="end" fill="#000" transform="translate(348.02,207.54) rotate(-45)">Nil</text>
<line x1="372.5" y1="198.3" x2="372.5" y2="200.3" stroke="#1a1a1a" stroke-width="0.8"/>
<text x="0" y="0" font-size="7" font-weight="bold" text-anchor="end" fill="#000" transform="translate(373.9,207.54) rotate(-45)">Das</text>
<line x1="412.5" y1="129.7" x2="412.5" y2="199.9" stroke="#1a1a1a" stroke-width="1"/>
<line x1="411.8" y1="199.5" x2="518" y2="199.5" stroke="#1a1a1a" stroke-width="1"/>
<line x1="410.7" y1="199.5" x2="412.3" y2="199.5" stroke="#1a1a1a" stroke-width="0.8"/>
<text x="409.7" y="201.2" font-size="5" font-weight="bold" text-anchor="end" fill="#111">0</text>
<line x1="410.7" y1="185.5" x2="412.3" y2="185.5" stroke="#1a1a1a" stroke-width="0.8"/>
<text x="409.7" y="187.36" font-size="5" font-weight="bold" text-anchor="end" fill="#111">2</text>
<line x1="410.7" y1="171.5" x2="412.3" y2="171.5" stroke="#1a1a1a" stroke-width="0.8"/>
<text x="409.7" y="173.52" font-size="5" font-weight="bold" text-anchor="end" fill="#111">4</text>
<line x1="410.7" y1="157.5" x2="412.3" y2="157.5" stroke="#1a1a1a" stroke-width="0.8"/>
<text x="409.7" y="159.68" font-size="5" font-weight="bold" text-anchor="end" fill="#111">6</text>
<line x1="410.7" y1="144.5" x2="412.3" y2="144.5" stroke="#1a1a1a" stroke-width="0.8"/>
<text x="409.7" y="145.84" font-size="5" font-weight="bold" text-anchor="end" fill="#111">8</text>
<line x1="410.7" y1="130.5" x2="412.3" y2="130.5" stroke="#1a1a1a" stroke-width="0.8"/>
<text x="409.7" y="132" font-size="5" font-weight="bold" text-anchor="end" fill="#111">10</text>
<line x1="420.5" y1="163.4" x2="420.5" y2="157.7" stroke="#000" stroke-width="1"/>
<line x1="418.3" y1="157.5" x2="422.5" y2="157.5" stroke="#000" stroke-width="1.1"/>
<rect x="417.5" y="163.5" width="6" height="36" fill="#a3a3a3" stroke="#000" stroke-width="1"/>
<line x1="430.5" y1="147.8" x2="430.5" y2="140.8" stroke="#000" stroke-width="1"/>
<line x1="427.96" y1="140.5" x2="432.34" y2="140.5" stroke="#000" stroke-width="1.1"/>
<rect x="426.5" y="148.5" width="7" height="51" fill="#000" stroke="#000" stroke-width="1"/>
<line x1="446.5" y1="180.8" x2="446.5" y2="179" stroke="#000" stroke-width="1"/>
<line x1="444.7" y1="179.5" x2="448.6" y2="179.5" stroke="#000" stroke-width="1.1"/>
<rect x="443.5" y="181.5" width="6" height="18" fill="#a3a3a3" stroke="#000" stroke-width="1"/>
<line x1="456.5" y1="177.7" x2="456.5" y2="175" stroke="#000" stroke-width="1"/>
<line x1="454.46" y1="175.5" x2="458.84" y2="175.5" stroke="#000" stroke-width="1.1"/>
<rect x="453.5" y="178.5" width="6" height="21" fill="#000" stroke="#000" stroke-width="1"/>
<line x1="472.5" y1="180.8" x2="472.5" y2="179" stroke="#000" stroke-width="1"/>
<line x1="470.8" y1="179.5" x2="475" y2="179.5" stroke="#000" stroke-width="1.1"/>
<rect x="469.5" y="181.5" width="6" height="18" fill="#a3a3a3" stroke="#000" stroke-width="1"/>
<line x1="483.5" y1="173" x2="483.5" y2="171" stroke="#000" stroke-width="1"/>
<line x1="481.08" y1="171.5" x2="484.92" y2="171.5" stroke="#000" stroke-width="1.1"/>
<rect x="480.5" y="173.5" width="5" height="26" fill="#000" stroke="#000" stroke-width="1"/>
<line x1="498.5" y1="180.8" x2="498.5" y2="179.5" stroke="#000" stroke-width="1"/>
<line x1="496.7" y1="179.5" x2="500.9" y2="179.5" stroke="#000" stroke-width="1.1"/>
<rect x="495.5" y="181.5" width="6" height="18" fill="#a3a3a3" stroke="#000" stroke-width="1"/>
<rect x="505.5" y="176.5" width="6" height="23" fill="#000" stroke="#000" stroke-width="1"/>
<line x1="416.7" y1="135.5" x2="434.3" y2="135.5" stroke="#222" stroke-width="1"/>
<text x="425.5" y="136.3" font-size="8.6" font-weight="bold" text-anchor="middle" fill="#000">*</text>
<line x1="442.6" y1="161.5" x2="460.3" y2="161.5" stroke="#222" stroke-width="1"/>
<text x="451.45" y="159.12" font-size="7" text-anchor="middle" fill="#111">ns</text>
<line x1="468.6" y1="161.5" x2="486.2" y2="161.5" stroke="#222" stroke-width="1"/>
<text x="477.4" y="162.3" font-size="8.6" font-weight="bold" text-anchor="middle" fill="#000">*</text>
<line x1="494.6" y1="161.5" x2="512.2" y2="161.5" stroke="#222" stroke-width="1"/>
<text x="503.4" y="162.3" font-size="8.6" font-weight="bold" text-anchor="middle" fill="#000">*</text>
<text x="460.3" y="122.94" font-size="6.5" font-weight="bold" text-anchor="middle" fill="#000">NL CD34+CD38+</text>
<text x="0" y="0" font-size="6.8" font-weight="bold" text-anchor="middle" fill="#000" transform="translate(400.43,164.1) rotate(-90)">proliferation index</text>
<line x1="425.5" y1="199.4" x2="425.5" y2="201.4" stroke="#1a1a1a" stroke-width="0.8"/>
<text x="0" y="0" font-size="7" font-weight="bold" text-anchor="end" fill="#000" transform="translate(427.12,207.54) rotate(-45)">Ctrl</text>
<line x1="451.5" y1="199.4" x2="451.5" y2="201.4" stroke="#1a1a1a" stroke-width="0.8"/>
<text x="0" y="0" font-size="7" font-weight="bold" text-anchor="end" fill="#000" transform="translate(453.62,207.54) rotate(-45)">IM</text>
<line x1="477.5" y1="199.4" x2="477.5" y2="201.4" stroke="#1a1a1a" stroke-width="0.8"/>
<text x="0" y="0" font-size="7" font-weight="bold" text-anchor="end" fill="#000" transform="translate(479.57,207.54) rotate(-45)">Nil</text>
<line x1="503.5" y1="199.4" x2="503.5" y2="201.4" stroke="#1a1a1a" stroke-width="0.8"/>
<text x="0" y="0" font-size="7" font-weight="bold" text-anchor="end" fill="#000" transform="translate(505.52,207.54) rotate(-45)">Das</text>
<rect x="481.6" y="130.6" width="7.5" height="4.8" fill="#a3a3a3" stroke="#000" stroke-width="0.9"/>
<rect x="481.6" y="138.4" width="7.5" height="4.8" fill="#000" stroke="#000" stroke-width="0.9"/>
<text x="492.7" y="135.45" font-size="6.8" text-anchor="start" fill="#000">No MSC</text>
<text x="492.7" y="143.25" font-size="6.8" text-anchor="start" fill="#000">MSC</text>
<line x1="314.5" y1="250.5" x2="314.5" y2="305.7" stroke="#1a1a1a" stroke-width="1"/>
<line x1="314.1" y1="305.5" x2="394.5" y2="305.5" stroke="#1a1a1a" stroke-width="1"/>
<line x1="313" y1="305.5" x2="314.6" y2="305.5" stroke="#1a1a1a" stroke-width="0.8"/>
<text x="312" y="306.71" font-size="4.2" font-weight="bold" text-anchor="end" fill="#111">0</text>
<line x1="313" y1="291.5" x2="314.6" y2="291.5" stroke="#1a1a1a" stroke-width="0.8"/>
<text x="312" y="293.16" font-size="4.2" font-weight="bold" text-anchor="end" fill="#111">5</text>
<line x1="313" y1="278.5" x2="314.6" y2="278.5" stroke="#1a1a1a" stroke-width="0.8"/>
<text x="312" y="279.61" font-size="4.2" font-weight="bold" text-anchor="end" fill="#111">10</text>
<line x1="313" y1="264.5" x2="314.6" y2="264.5" stroke="#1a1a1a" stroke-width="0.8"/>
<text x="312" y="266.06" font-size="4.2" font-weight="bold" text-anchor="end" fill="#111">15</text>
<line x1="313" y1="251.5" x2="314.6" y2="251.5" stroke="#1a1a1a" stroke-width="0.8"/>
<text x="312" y="252.51" font-size="4.2" font-weight="bold" text-anchor="end" fill="#111">20</text>
<line x1="325.5" y1="273.1" x2="325.5" y2="270.2" stroke="#000" stroke-width="1"/>
<line x1="321.48" y1="270.5" x2="329.22" y2="270.5" stroke="#000" stroke-width="1.1"/>
<rect x="319.5" y="273.5" width="12" height="32" fill="#d9d9d9" stroke="#000" stroke-width="1"/>
<line x1="345.5" y1="260.8" x2="345.5" y2="256.7" stroke="#000" stroke-width="1"/>
<line x1="341.24" y1="256.5" x2="349.46" y2="256.5" stroke="#000" stroke-width="1.1"/>
<rect x="338.5" y="261.5" width="13" height="44" fill="#a6a6a6" stroke="#000" stroke-width="1"/>
<line x1="366.5" y1="279.6" x2="366.5" y2="277.3" stroke="#000" stroke-width="1"/>
<line x1="361.94" y1="277.5" x2="370.46" y2="277.5" stroke="#000" stroke-width="1.1"/>
<rect x="359.5" y="280.5" width="13" height="25" fill="#737373" stroke="#000" stroke-width="1"/>
<line x1="386.5" y1="276.3" x2="386.5" y2="273.4" stroke="#000" stroke-width="1"/>
<line x1="382.58" y1="273.5" x2="390.92" y2="273.5" stroke="#000" stroke-width="1.1"/>
<rect x="380.5" y="276.5" width="13" height="29" fill="#3c3c3c" stroke="#000" stroke-width="1"/>
<line x1="319.5" y1="255.5" x2="351.7" y2="255.5" stroke="#222" stroke-width="1"/>
<text x="335.4" y="257.1" font-size="8.6" font-weight="bold" text-anchor="middle" fill="#000">*</text>
<line x1="319.5" y1="249.5" x2="373" y2="249.5" stroke="#222" stroke-width="1"/>
<text x="347" y="251.2" font-size="8.6" font-weight="bold" text-anchor="middle" fill="#000">*</text>
<line x1="339.5" y1="243.5" x2="392.7" y2="243.5" stroke="#222" stroke-width="1"/>
<text x="366.5" y="245" font-size="8.6" font-weight="bold" text-anchor="middle" fill="#000">*</text>
<line x1="360.4" y1="264.5" x2="392.7" y2="264.5" stroke="#222" stroke-width="1"/>
<text x="376.5" y="266" font-size="8.6" font-weight="bold" text-anchor="middle" fill="#000">*</text>
<text x="359.6" y="234.05" font-size="6.8" font-weight="bold" text-anchor="middle" fill="#000">CML CD34+CD38-</text>
<text x="0" y="0" font-size="5.2" font-weight="bold" text-anchor="middle" fill="#000" transform="translate(304.26,270.5) rotate(-90)">% apoptosis in undivided cells</text>
<line x1="323.5" y1="305.2" x2="323.5" y2="307.2" stroke="#1a1a1a" stroke-width="0.8"/>
<text x="0" y="0" font-size="7.2" font-weight="bold" text-anchor="end" fill="#000" transform="translate(325.67,312.84) rotate(-45)">No MSC, no IM</text>
<line x1="343.5" y1="305.2" x2="343.5" y2="307.2" stroke="#1a1a1a" stroke-width="0.8"/>
<text x="0" y="0" font-size="7.2" font-weight="bold" text-anchor="end" fill="#000" transform="translate(345.67,312.84) rotate(-45)">No MSC, IM</text>
<line x1="364.5" y1="305.2" x2="364.5" y2="307.2" stroke="#1a1a1a" stroke-width="0.8"/>
<text x="0" y="0" font-size="7.2" font-weight="bold" text-anchor="end" fill="#000" transform="translate(366.52,312.84) rotate(-45)">MSC, no IM</text>
<line x1="385.5" y1="305.2" x2="385.5" y2="307.2" stroke="#1a1a1a" stroke-width="0.8"/>
<text x="0" y="0" font-size="7.2" font-weight="bold" text-anchor="end" fill="#000" transform="translate(387.07,312.84) rotate(-45)">MSC, IM</text>
<line x1="425.5" y1="248" x2="425.5" y2="306.7" stroke="#1a1a1a" stroke-width="1"/>
<line x1="425.1" y1="306.5" x2="519.6" y2="306.5" stroke="#1a1a1a" stroke-width="1"/>
<line x1="424" y1="306.5" x2="425.6" y2="306.5" stroke="#1a1a1a" stroke-width="0.8"/>
<text x="423" y="307.71" font-size="4.2" font-weight="bold" text-anchor="end" fill="#111">0</text>
<line x1="424" y1="286.5" x2="425.6" y2="286.5" stroke="#1a1a1a" stroke-width="0.8"/>
<text x="423" y="288.48" font-size="4.2" font-weight="bold" text-anchor="end" fill="#111">20</text>
<line x1="424" y1="267.5" x2="425.6" y2="267.5" stroke="#1a1a1a" stroke-width="0.8"/>
<text x="423" y="269.25" font-size="4.2" font-weight="bold" text-anchor="end" fill="#111">40</text>
<line x1="424" y1="248.5" x2="425.6" y2="248.5" stroke="#1a1a1a" stroke-width="0.8"/>
<text x="423" y="250.01" font-size="4.2" font-weight="bold" text-anchor="end" fill="#111">60</text>
<line x1="437.5" y1="301.2" x2="437.5" y2="298.1" stroke="#000" stroke-width="1"/>
<line x1="432.48" y1="298.5" x2="442.32" y2="298.5" stroke="#000" stroke-width="1.1"/>
<rect x="429.5" y="301.5" width="16" height="5" fill="#d9d9d9" stroke="#000" stroke-width="1"/>
<line x1="461.5" y1="266" x2="461.5" y2="264" stroke="#000" stroke-width="1"/>
<line x1="457.16" y1="264.5" x2="466.04" y2="264.5" stroke="#000" stroke-width="1.1"/>
<rect x="454.5" y="266.5" width="14" height="40" fill="#a6a6a6" stroke="#000" stroke-width="1"/>
<line x1="484.5" y1="301.5" x2="484.5" y2="299.6" stroke="#000" stroke-width="1"/>
<line x1="479.5" y1="299.5" x2="489.4" y2="299.5" stroke="#000" stroke-width="1.1"/>
<rect x="476.5" y="302.5" width="16" height="4" fill="#737373" stroke="#000" stroke-width="1"/>
<line x1="508.5" y1="285.2" x2="508.5" y2="283.3" stroke="#000" stroke-width="1"/>
<line x1="503.08" y1="283.5" x2="512.92" y2="283.5" stroke="#000" stroke-width="1.1"/>
<rect x="500.5" y="285.5" width="15" height="21" fill="#000" stroke="#000" stroke-width="1"/>
<line x1="430.6" y1="261.5" x2="469" y2="261.5" stroke="#222" stroke-width="1"/>
<text x="449.8" y="262.7" font-size="8.6" font-weight="bold" text-anchor="middle" fill="#000">*</text>
<line x1="430.6" y1="254.5" x2="488.3" y2="254.5" stroke="#222" stroke-width="1"/>
<text x="459.4" y="251.52" font-size="7" text-anchor="middle" fill="#111">ns</text>
<line x1="454.6" y1="247.5" x2="512.3" y2="247.5" stroke="#222" stroke-width="1"/>
<text x="484.4" y="248.8" font-size="8.6" font-weight="bold" text-anchor="middle" fill="#000">*</text>
<line x1="476.2" y1="275.5" x2="515.2" y2="275.5" stroke="#222" stroke-width="1"/>
<text x="496.5" y="276.7" font-size="8.6" font-weight="bold" text-anchor="middle" fill="#000">*</text>
<text x="473.25" y="237.68" font-size="6.6" font-weight="bold" text-anchor="middle" fill="#000">CML CD34+CD38-</text>
<text x="0" y="0" font-size="5.2" font-weight="bold" text-anchor="middle" fill="#000" transform="translate(411.36,272) rotate(-90)">% apoptosis in dividing cells</text>
<line x1="435.5" y1="306.2" x2="435.5" y2="308.2" stroke="#1a1a1a" stroke-width="0.8"/>
<text x="0" y="0" font-size="7.2" font-weight="bold" text-anchor="end" fill="#000" transform="translate(437.72,314.14) rotate(-45)">No MSC, no IM</text>
<line x1="460.5" y1="306.2" x2="460.5" y2="308.2" stroke="#1a1a1a" stroke-width="0.8"/>
<text x="0" y="0" font-size="7.2" font-weight="bold" text-anchor="end" fill="#000" transform="translate(461.92,314.14) rotate(-45)">No MSC, IM</text>
<line x1="482.5" y1="306.2" x2="482.5" y2="308.2" stroke="#1a1a1a" stroke-width="0.8"/>
<text x="0" y="0" font-size="7.2" font-weight="bold" text-anchor="end" fill="#000" transform="translate(484.77,314.14) rotate(-45)">MSC, no IM</text>
<line x1="506.5" y1="306.2" x2="506.5" y2="308.2" stroke="#1a1a1a" stroke-width="0.8"/>
<text x="0" y="0" font-size="7.2" font-weight="bold" text-anchor="end" fill="#000" transform="translate(508.32,314.14) rotate(-45)">MSC, IM</text>
<line x1="21.5" y1="375.75" x2="21.5" y2="446.7" stroke="#1a1a1a" stroke-width="1"/>
<line x1="20.8" y1="446.5" x2="114.7" y2="446.5" stroke="#1a1a1a" stroke-width="1"/>
<line x1="19.7" y1="446.5" x2="21.3" y2="446.5" stroke="#1a1a1a" stroke-width="0.8"/>
<text x="18.7" y="448" font-size="5" font-weight="bold" text-anchor="end" fill="#111">0</text>
<line x1="19.7" y1="422.5" x2="21.3" y2="422.5" stroke="#1a1a1a" stroke-width="0.8"/>
<text x="18.7" y="424.68" font-size="5" font-weight="bold" text-anchor="end" fill="#111">5</text>
<line x1="19.7" y1="399.5" x2="21.3" y2="399.5" stroke="#1a1a1a" stroke-width="0.8"/>
<text x="18.7" y="401.37" font-size="5" font-weight="bold" text-anchor="end" fill="#111">10</text>
<line x1="19.7" y1="376.5" x2="21.3" y2="376.5" stroke="#1a1a1a" stroke-width="0.8"/>
<text x="18.7" y="378.05" font-size="5" font-weight="bold" text-anchor="end" fill="#111">15</text>
<line x1="34.5" y1="442" x2="34.5" y2="441" stroke="#000" stroke-width="1"/>
<line x1="30.25" y1="441.5" x2="38.5" y2="441.5" stroke="#000" stroke-width="1.1"/>
<rect x="28.5" y="442.5" width="12" height="4" fill="#a3a3a3" stroke="#000" stroke-width="1"/>
<rect x="48.5" y="432.5" width="13" height="14" fill="#000" stroke="#000" stroke-width="1"/>
<line x1="81.5" y1="405" x2="81.5" y2="402.5" stroke="#000" stroke-width="1"/>
<line x1="77.35" y1="402.5" x2="85.9" y2="402.5" stroke="#000" stroke-width="1.1"/>
<rect x="74.5" y="405.5" width="14" height="41" fill="#a3a3a3" stroke="#000" stroke-width="1"/>
<line x1="101.5" y1="392.5" x2="101.5" y2="390" stroke="#000" stroke-width="1"/>
<line x1="97.35" y1="390.5" x2="105.9" y2="390.5" stroke="#000" stroke-width="1.1"/>
<rect x="94.5" y="392.5" width="14" height="54" fill="#000" stroke="#000" stroke-width="1"/>
<line x1="30" y1="419.5" x2="62.5" y2="419.5" stroke="#222" stroke-width="1"/>
<text x="46.25" y="419.9" font-size="8.6" font-weight="bold" text-anchor="middle" fill="#000">*</text>
<line x1="77.5" y1="378.5" x2="111.25" y2="378.5" stroke="#222" stroke-width="1"/>
<text x="94.38" y="378.65" font-size="8.6" font-weight="bold" text-anchor="middle" fill="#000">*</text>
<text x="66.6" y="365.48" font-size="6.9" font-weight="bold" text-anchor="middle" fill="#000">CML CD34+CD38-</text>
<text x="0" y="0" font-size="6.8" font-weight="bold" text-anchor="middle" fill="#000" transform="translate(11.18,411) rotate(-90)">% of undivided cells</text>
<line x1="44.5" y1="446.2" x2="44.5" y2="448.2" stroke="#1a1a1a" stroke-width="0.8"/>
<text x="0" y="0" font-size="7.3" font-weight="bold" text-anchor="end" fill="#000" transform="translate(46.35,455) rotate(-45)">No IM</text>
<line x1="91.5" y1="446.2" x2="91.5" y2="448.2" stroke="#1a1a1a" stroke-width="0.8"/>
<text x="0" y="0" font-size="7.3" font-weight="bold" text-anchor="end" fill="#000" transform="translate(93.48,455) rotate(-45)">IM</text>
<line x1="137.5" y1="374.5" x2="137.5" y2="446.75" stroke="#1a1a1a" stroke-width="1"/>
<line x1="136.9" y1="446.5" x2="225" y2="446.5" stroke="#1a1a1a" stroke-width="1"/>
<line x1="135.8" y1="446.5" x2="137.4" y2="446.5" stroke="#1a1a1a" stroke-width="0.8"/>
<text x="134.8" y="448.05" font-size="5" font-weight="bold" text-anchor="end" fill="#111">0</text>
<line x1="135.8" y1="422.5" x2="137.4" y2="422.5" stroke="#1a1a1a" stroke-width="0.8"/>
<text x="134.8" y="424.3" font-size="5" font-weight="bold" text-anchor="end" fill="#111">5</text>
<line x1="135.8" y1="398.5" x2="137.4" y2="398.5" stroke="#1a1a1a" stroke-width="0.8"/>
<text x="134.8" y="400.55" font-size="5" font-weight="bold" text-anchor="end" fill="#111">10</text>
<line x1="135.8" y1="375.5" x2="137.4" y2="375.5" stroke="#1a1a1a" stroke-width="0.8"/>
<text x="134.8" y="376.8" font-size="5" font-weight="bold" text-anchor="end" fill="#111">15</text>
<rect x="143.5" y="445.5" width="12" height="1" fill="#a3a3a3" stroke="#000" stroke-width="1"/>
<rect x="163.5" y="438.5" width="12" height="8" fill="#000" stroke="#000" stroke-width="1"/>
<rect x="189.5" y="444.5" width="12" height="2" fill="#a3a3a3" stroke="#000" stroke-width="1"/>
<rect x="208.5" y="432.5" width="12" height="14" fill="#000" stroke="#000" stroke-width="1"/>
<line x1="147.5" y1="427.5" x2="175.5" y2="427.5" stroke="#222" stroke-width="1"/>
<text x="161.5" y="427.4" font-size="8.6" font-weight="bold" text-anchor="middle" fill="#000">*</text>
<line x1="191.25" y1="426.5" x2="220" y2="426.5" stroke="#222" stroke-width="1"/>
<text x="205.62" y="426.65" font-size="8.6" font-weight="bold" text-anchor="middle" fill="#000">*</text>
<text x="181.25" y="366.23" font-size="6.9" font-weight="bold" text-anchor="middle" fill="#000">CML CD34+CD38+</text>
<text x="0" y="0" font-size="6.8" font-weight="bold" text-anchor="middle" fill="#000" transform="translate(124.93,411) rotate(-90)">% of undivided cells</text>
<line x1="159.5" y1="446.25" x2="159.5" y2="448.25" stroke="#1a1a1a" stroke-width="0.8"/>
<text x="0" y="0" font-size="7.3" font-weight="bold" text-anchor="end" fill="#000" transform="translate(161.48,456.2) rotate(-45)">No IM</text>
<line x1="205.5" y1="446.25" x2="205.5" y2="448.25" stroke="#1a1a1a" stroke-width="0.8"/>
<text x="0" y="0" font-size="7.3" font-weight="bold" text-anchor="end" fill="#000" transform="translate(206.85,456.2) rotate(-45)">IM</text>
<rect x="183" y="377.85" width="7.5" height="4.8" fill="#ececec" stroke="#000" stroke-width="0.9"/>
<rect x="183" y="385.6" width="7.5" height="4.8" fill="#000" stroke="#000" stroke-width="0.9"/>
<text x="194.5" y="382.63" font-size="6.6" text-anchor="start" fill="#000">No MSC</text>
<text x="194.5" y="390.38" font-size="6.6" text-anchor="start" fill="#000">MSC</text>
<line x1="268.5" y1="373.5" x2="268.5" y2="448.6" stroke="#1a1a1a" stroke-width="1"/>
<line x1="267.8" y1="448.5" x2="376.5" y2="448.5" stroke="#1a1a1a" stroke-width="1"/>
<line x1="266.7" y1="448.5" x2="268.3" y2="448.5" stroke="#1a1a1a" stroke-width="0.8"/>
<text x="265.7" y="449.9" font-size="5" font-weight="bold" text-anchor="end" fill="#111">0</text>
<line x1="266.7" y1="423.5" x2="268.3" y2="423.5" stroke="#1a1a1a" stroke-width="0.8"/>
<text x="265.7" y="425.2" font-size="5" font-weight="bold" text-anchor="end" fill="#111">50</text>
<line x1="266.7" y1="398.5" x2="268.3" y2="398.5" stroke="#1a1a1a" stroke-width="0.8"/>
<text x="265.7" y="400.5" font-size="5" font-weight="bold" text-anchor="end" fill="#111">100</text>
<line x1="266.7" y1="374.5" x2="268.3" y2="374.5" stroke="#1a1a1a" stroke-width="0.8"/>
<text x="265.7" y="375.8" font-size="5" font-weight="bold" text-anchor="end" fill="#111">150</text>
<rect x="273.5" y="399.5" width="7" height="49" fill="#a3a3a3" stroke="#000" stroke-width="1"/>
<rect x="283.5" y="399.5" width="7" height="49" fill="#000" stroke="#000" stroke-width="1"/>
<rect x="301.5" y="431.5" width="7" height="17" fill="#a3a3a3" stroke="#000" stroke-width="1"/>
<line x1="314.5" y1="422.5" x2="314.5" y2="419" stroke="#000" stroke-width="1"/>
<line x1="312.22" y1="419.5" x2="317.08" y2="419.5" stroke="#000" stroke-width="1.1"/>
<rect x="311.5" y="422.5" width="7" height="26" fill="#000" stroke="#000" stroke-width="1"/>
<line x1="332.5" y1="423.3" x2="332.5" y2="422" stroke="#000" stroke-width="1"/>
<line x1="329.72" y1="422.5" x2="334.58" y2="422.5" stroke="#000" stroke-width="1.1"/>
<rect x="328.5" y="423.5" width="7" height="25" fill="#a3a3a3" stroke="#000" stroke-width="1"/>
<rect x="339.5" y="416.5" width="6" height="32" fill="#000" stroke="#000" stroke-width="1"/>
<rect x="356.5" y="425.5" width="7" height="23" fill="#a3a3a3" stroke="#000" stroke-width="1"/>
<rect x="366.5" y="417.5" width="7" height="31" fill="#000" stroke="#000" stroke-width="1"/>
<line x1="300.6" y1="408.5" x2="319.5" y2="408.5" stroke="#222" stroke-width="1"/>
<text x="310.05" y="409.3" font-size="8.6" font-weight="bold" text-anchor="middle" fill="#000">*</text>
<line x1="328.1" y1="408.5" x2="347" y2="408.5" stroke="#222" stroke-width="1"/>
<text x="337.55" y="409.3" font-size="8.6" font-weight="bold" text-anchor="middle" fill="#000">*</text>
<line x1="355" y1="408.5" x2="374.4" y2="408.5" stroke="#222" stroke-width="1"/>
<text x="364.7" y="409.3" font-size="8.6" font-weight="bold" text-anchor="middle" fill="#000">*</text>
<text x="322.7" y="364.59" font-size="7.2" font-weight="bold" text-anchor="middle" fill="#000">CML CD34+CD38-</text>
<text x="0" y="0" font-size="7.4" font-weight="bold" text-anchor="middle" fill="#000" transform="translate(255.35,411) rotate(-90)">CFC (% control)</text>
<line x1="282.5" y1="448.1" x2="282.5" y2="450.1" stroke="#1a1a1a" stroke-width="0.8"/>
<text x="0" y="0" font-size="8.2" font-weight="bold" text-anchor="end" fill="#000" transform="translate(284.38,457.45) rotate(-45)">Ctrl</text>
<line x1="309.5" y1="448.1" x2="309.5" y2="450.1" stroke="#1a1a1a" stroke-width="0.8"/>
<text x="0" y="0" font-size="8.2" font-weight="bold" text-anchor="end" fill="#000" transform="translate(312.03,457.45) rotate(-45)">IM</text>
<line x1="337.5" y1="448.1" x2="337.5" y2="450.1" stroke="#1a1a1a" stroke-width="0.8"/>
<text x="0" y="0" font-size="8.2" font-weight="bold" text-anchor="end" fill="#000" transform="translate(339.33,457.45) rotate(-45)">Nil</text>
<line x1="365.5" y1="448.1" x2="365.5" y2="450.1" stroke="#1a1a1a" stroke-width="0.8"/>
<text x="0" y="0" font-size="8.2" font-weight="bold" text-anchor="end" fill="#000" transform="translate(367.48,457.45) rotate(-45)">Das</text>
<line x1="406.5" y1="372.2" x2="406.5" y2="448.5" stroke="#1a1a1a" stroke-width="1"/>
<line x1="405.6" y1="448.5" x2="516" y2="448.5" stroke="#1a1a1a" stroke-width="1"/>
<line x1="404.5" y1="448.5" x2="406.1" y2="448.5" stroke="#1a1a1a" stroke-width="0.8"/>
<text x="403.5" y="449.9" font-size="5" font-weight="bold" text-anchor="end" fill="#111">0</text>
<line x1="404.5" y1="422.5" x2="406.1" y2="422.5" stroke="#1a1a1a" stroke-width="0.8"/>
<text x="403.5" y="424.77" font-size="5" font-weight="bold" text-anchor="end" fill="#111">50</text>
<line x1="404.5" y1="397.5" x2="406.1" y2="397.5" stroke="#1a1a1a" stroke-width="0.8"/>
<text x="403.5" y="399.63" font-size="5" font-weight="bold" text-anchor="end" fill="#111">100</text>
<line x1="404.5" y1="372.5" x2="406.1" y2="372.5" stroke="#1a1a1a" stroke-width="0.8"/>
<text x="403.5" y="374.5" font-size="5" font-weight="bold" text-anchor="end" fill="#111">150</text>
<rect x="412.5" y="398.5" width="6" height="50" fill="#a3a3a3" stroke="#000" stroke-width="1"/>
<rect x="421.5" y="398.5" width="7" height="50" fill="#000" stroke="#000" stroke-width="1"/>
<rect x="440.5" y="432.5" width="6" height="16" fill="#a3a3a3" stroke="#000" stroke-width="1"/>
<rect x="450.5" y="428.5" width="7" height="20" fill="#000" stroke="#000" stroke-width="1"/>
<rect x="468.5" y="420.5" width="6" height="28" fill="#a3a3a3" stroke="#000" stroke-width="1"/>
<rect x="478.5" y="413.5" width="7" height="35" fill="#000" stroke="#000" stroke-width="1"/>
<rect x="495.5" y="424.5" width="7" height="24" fill="#a3a3a3" stroke="#000" stroke-width="1"/>
<rect x="506.5" y="418.5" width="7" height="30" fill="#000" stroke="#000" stroke-width="1"/>
<line x1="439.2" y1="407.5" x2="457.5" y2="407.5" stroke="#222" stroke-width="1"/>
<text x="448.35" y="408.3" font-size="8.6" font-weight="bold" text-anchor="middle" fill="#000">*</text>
<line x1="467.5" y1="407.5" x2="485.5" y2="407.5" stroke="#222" stroke-width="1"/>
<text x="476.5" y="408.3" font-size="8.6" font-weight="bold" text-anchor="middle" fill="#000">*</text>
<line x1="495.8" y1="407.5" x2="514.1" y2="407.5" stroke="#222" stroke-width="1"/>
<text x="504.95" y="408.3" font-size="8.6" font-weight="bold" text-anchor="middle" fill="#000">*</text>
<text x="464.15" y="364.59" font-size="7.2" font-weight="bold" text-anchor="middle" fill="#000">CML CD34+CD38+</text>
<text x="0" y="0" font-size="7.4" font-weight="bold" text-anchor="middle" fill="#000" transform="translate(392.05,411) rotate(-90)">CFC (% control)</text>
<line x1="420.5" y1="448" x2="420.5" y2="450" stroke="#1a1a1a" stroke-width="0.8"/>
<text x="0" y="0" font-size="8.2" font-weight="bold" text-anchor="end" fill="#000" transform="translate(422.63,457.45) rotate(-45)">Ctrl</text>
<line x1="448.5" y1="448" x2="448.5" y2="450" stroke="#1a1a1a" stroke-width="0.8"/>
<text x="0" y="0" font-size="8.2" font-weight="bold" text-anchor="end" fill="#000" transform="translate(450.73,457.45) rotate(-45)">IM</text>
<line x1="476.5" y1="448" x2="476.5" y2="450" stroke="#1a1a1a" stroke-width="0.8"/>
<text x="0" y="0" font-size="8.2" font-weight="bold" text-anchor="end" fill="#000" transform="translate(478.58,457.45) rotate(-45)">Nil</text>
<line x1="504.5" y1="448" x2="504.5" y2="450" stroke="#1a1a1a" stroke-width="0.8"/>
<text x="0" y="0" font-size="8.2" font-weight="bold" text-anchor="end" fill="#000" transform="translate(506.73,457.45) rotate(-45)">Das</text>
<rect x="477.5" y="374" width="9.7" height="5.4" fill="#a3a3a3" stroke="#000" stroke-width="0.9"/>
<rect x="477.5" y="382.6" width="9.7" height="5.4" fill="#000" stroke="#000" stroke-width="0.9"/>
<text x="489.9" y="379.29" font-size="7.2" text-anchor="start" fill="#000">No MSC</text>
<text x="489.9" y="387.89" font-size="7.2" text-anchor="start" fill="#000">MSC</text>
<line x1="391.5" y1="483.8" x2="391.5" y2="560.9" stroke="#1a1a1a" stroke-width="1"/>
<line x1="390.5" y1="560.5" x2="504.4" y2="560.5" stroke="#1a1a1a" stroke-width="1"/>
<line x1="389.4" y1="560.5" x2="391" y2="560.5" stroke="#1a1a1a" stroke-width="0.8"/>
<text x="388.4" y="562.37" font-size="5.2" font-weight="bold" text-anchor="end" fill="#111">0</text>
<line x1="389.4" y1="547.5" x2="391" y2="547.5" stroke="#1a1a1a" stroke-width="0.8"/>
<text x="388.4" y="549.67" font-size="5.2" font-weight="bold" text-anchor="end" fill="#111">20</text>
<line x1="389.4" y1="535.5" x2="391" y2="535.5" stroke="#1a1a1a" stroke-width="0.8"/>
<text x="388.4" y="536.97" font-size="5.2" font-weight="bold" text-anchor="end" fill="#111">40</text>
<line x1="389.4" y1="522.5" x2="391" y2="522.5" stroke="#1a1a1a" stroke-width="0.8"/>
<text x="388.4" y="524.27" font-size="5.2" font-weight="bold" text-anchor="end" fill="#111">60</text>
<line x1="389.4" y1="509.5" x2="391" y2="509.5" stroke="#1a1a1a" stroke-width="0.8"/>
<text x="388.4" y="511.57" font-size="5.2" font-weight="bold" text-anchor="end" fill="#111">80</text>
<line x1="389.4" y1="497.5" x2="391" y2="497.5" stroke="#1a1a1a" stroke-width="0.8"/>
<text x="388.4" y="498.87" font-size="5.2" font-weight="bold" text-anchor="end" fill="#111">100</text>
<line x1="389.4" y1="484.5" x2="391" y2="484.5" stroke="#1a1a1a" stroke-width="0.8"/>
<text x="388.4" y="486.17" font-size="5.2" font-weight="bold" text-anchor="end" fill="#111">120</text>
<rect x="401.5" y="526.5" width="13" height="34" fill="#a3a3a3" stroke="#000" stroke-width="1"/>
<line x1="429.5" y1="521.1" x2="429.5" y2="519.4" stroke="#000" stroke-width="1"/>
<line x1="425.28" y1="519.5" x2="434.22" y2="519.5" stroke="#000" stroke-width="1.1"/>
<rect x="422.5" y="521.5" width="14" height="39" fill="#000" stroke="#000" stroke-width="1"/>
<line x1="465.5" y1="519.1" x2="465.5" y2="516.5" stroke="#000" stroke-width="1"/>
<line x1="461.1" y1="516.5" x2="469.8" y2="516.5" stroke="#000" stroke-width="1.1"/>
<rect x="458.5" y="519.5" width="14" height="41" fill="#a3a3a3" stroke="#000" stroke-width="1"/>
<line x1="486.5" y1="507.6" x2="486.5" y2="504.1" stroke="#000" stroke-width="1"/>
<line x1="482.18" y1="504.5" x2="491.12" y2="504.5" stroke="#000" stroke-width="1.1"/>
<rect x="479.5" y="508.5" width="14" height="52" fill="#000" stroke="#000" stroke-width="1"/>
<line x1="400.7" y1="510.5" x2="437.2" y2="510.5" stroke="#222" stroke-width="1"/>
<text x="418.95" y="510.8" font-size="8.6" font-weight="bold" text-anchor="middle" fill="#000">*</text>
<line x1="457.8" y1="499.5" x2="494.5" y2="499.5" stroke="#222" stroke-width="1"/>
<text x="476.15" y="499.3" font-size="8.6" font-weight="bold" text-anchor="middle" fill="#000">*</text>
<text x="0" y="0" font-size="7" font-weight="bold" text-anchor="middle" fill="#000" transform="translate(371.11,522.1) rotate(-90)">% of CD34+ cells</text>
<line x1="419.5" y1="560.4" x2="419.5" y2="562.4" stroke="#1a1a1a" stroke-width="0.8"/>
<text x="0" y="0" font-size="8" font-weight="bold" text-anchor="end" fill="#000" transform="translate(421.33,571.05) rotate(-45)">No IM</text>
<line x1="476.5" y1="560.4" x2="476.5" y2="562.4" stroke="#1a1a1a" stroke-width="0.8"/>
<text x="0" y="0" font-size="8" font-weight="bold" text-anchor="end" fill="#000" transform="translate(478.18,571.05) rotate(-45)">IM</text>
<rect x="399" y="482.75" width="9.4" height="6.1" fill="#a3a3a3" stroke="#000" stroke-width="0.9"/>
<rect x="399" y="491.15" width="9.4" height="6.1" fill="#000" stroke="#000" stroke-width="0.9"/>
<text x="411.5" y="488.43" font-size="7.3" text-anchor="start" fill="#000">No MSC</text>
<text x="411.5" y="496.83" font-size="7.3" text-anchor="start" fill="#000">MSC</text>
<defs><filter id="bl0_6" x="-50%" y="-50%" width="200%" height="200%"><feGaussianBlur stdDeviation="0.6"/></filter><filter id="bl0_8" x="-50%" y="-50%" width="200%" height="200%"><feGaussianBlur stdDeviation="0.8"/></filter><filter id="bl1_5" x="-50%" y="-50%" width="200%" height="200%"><feGaussianBlur stdDeviation="1.5"/></filter><filter id="bl2_5" x="-50%" y="-50%" width="200%" height="200%"><feGaussianBlur stdDeviation="2.5"/></filter></defs>
<line x1="16.1" y1="241" x2="16.1" y2="317.4" stroke="#111" stroke-width="1.3"/>
<path d="M16.1 236.6 L12.9 243 L19.3 243 Z" fill="#111"/>
<line x1="15.6" y1="317.5" x2="277" y2="317.5" stroke="#111" stroke-width="1.3"/>
<path d="M282 317.4 L275.5 314.1 L275.5 320.7 Z" fill="#111"/>
<text x="0" y="0" font-size="10" font-weight="bold" text-anchor="middle" fill="#000" transform="translate(11.18,283.7) rotate(-90)">Annexin V</text>
<text x="134.3" y="329" font-size="9.6" font-weight="bold" text-anchor="middle" fill="#000">CFSE</text>
<rect x="28.8" y="251.7" width="54.8" height="54.9" fill="none" stroke="#8a8a8a" stroke-width="0.8"/>
<line x1="52.5" y1="251.7" x2="52.5" y2="306.6" stroke="#999" stroke-width="0.7"/>
<line x1="28.8" y1="283.5" x2="83.6" y2="283.5" stroke="#999" stroke-width="0.7"/>
<text x="58.7" y="249.4" font-size="7.9" font-weight="bold" text-anchor="middle" fill="#000">No MSC, no IM</text>
<text x="31.7" y="264.2" font-size="7.7" font-weight="bold" text-anchor="start" fill="#000">0.45%</text>
<text x="58.1" y="264.2" font-size="7.7" font-weight="bold" text-anchor="start" fill="#000">0.08%</text>
<text x="31.7" y="292.9" font-size="7.7" font-weight="bold" text-anchor="start" fill="#000">98.8%</text>
<text x="58.1" y="292.9" font-size="7.7" font-weight="bold" text-anchor="start" fill="#000">0.68%</text>
<text x="34.3" y="312.5" font-size="3.4" text-anchor="middle" fill="#666">0</text>
<text x="40.3" y="312.5" font-size="3.4" text-anchor="middle" fill="#666">10</text>
<text x="42.5" y="310.8" font-size="2.4" text-anchor="start" fill="#666">1</text>
<text x="54.8" y="312.5" font-size="3.4" text-anchor="middle" fill="#666">10</text>
<text x="57" y="310.8" font-size="2.4" text-anchor="start" fill="#666">2</text>
<text x="68.8" y="312.5" font-size="3.4" text-anchor="middle" fill="#666">10</text>
<text x="71" y="310.8" font-size="2.4" text-anchor="start" fill="#666">3</text>
<text x="0" y="0" font-size="3.4" text-anchor="middle" fill="#777" transform="translate(27.2,301.6) rotate(-90)">0</text>
<text x="0" y="0" font-size="3.4" text-anchor="middle" fill="#777" transform="translate(27.2,294.6) rotate(-90)">10</text>
<text x="0" y="0" font-size="3.4" text-anchor="middle" fill="#777" transform="translate(27.2,280.6) rotate(-90)">10</text>
<text x="0" y="0" font-size="3.4" text-anchor="middle" fill="#777" transform="translate(27.2,266.6) rotate(-90)">10</text>
<line x1="29.8" y1="305.8" x2="82.6" y2="305.8" stroke="#aaa" stroke-width="0.5" stroke-dasharray="0.6 1.2"/>
<text x="30.3" y="255" font-size="2.6" text-anchor="start" fill="#777">Q1</text>
<text x="82.1" y="255" font-size="2.6" text-anchor="end" fill="#777">Q2</text>
<text x="30.3" y="301.1" font-size="2.6" text-anchor="start" fill="#777">Q3</text>
<text x="82.1" y="301.1" font-size="2.6" text-anchor="end" fill="#777">Q4</text>
<text x="30.3" y="304.4" font-size="2.6" text-anchor="start" fill="#777">98.8%</text>
<text x="82.1" y="304.4" font-size="2.6" text-anchor="end" fill="#777">0.68%</text>
<rect x="94.4" y="253.5" width="55.6" height="54" fill="none" stroke="#8a8a8a" stroke-width="0.8"/>
<line x1="121.5" y1="253.5" x2="121.5" y2="307.5" stroke="#999" stroke-width="0.7"/>
<line x1="94.4" y1="283.5" x2="150" y2="283.5" stroke="#999" stroke-width="0.7"/>
<text x="124" y="249.4" font-size="7.9" font-weight="bold" text-anchor="middle" fill="#000">No MSC, IM</text>
<text x="95.7" y="264.2" font-size="7.7" font-weight="bold" text-anchor="start" fill="#000">36.8%</text>
<text x="124.7" y="264.2" font-size="7.7" font-weight="bold" text-anchor="start" fill="#000">2.61%</text>
<text x="95.7" y="292.9" font-size="7.7" font-weight="bold" text-anchor="start" fill="#000">48.7%</text>
<text x="124.7" y="292.9" font-size="7.7" font-weight="bold" text-anchor="start" fill="#000">11.9%</text>
<text x="99.9" y="313.4" font-size="3.4" text-anchor="middle" fill="#666">0</text>
<text x="105.9" y="313.4" font-size="3.4" text-anchor="middle" fill="#666">10</text>
<text x="108.1" y="311.7" font-size="2.4" text-anchor="start" fill="#666">1</text>
<text x="120.4" y="313.4" font-size="3.4" text-anchor="middle" fill="#666">10</text>
<text x="122.6" y="311.7" font-size="2.4" text-anchor="start" fill="#666">2</text>
<text x="134.4" y="313.4" font-size="3.4" text-anchor="middle" fill="#666">10</text>
<text x="136.6" y="311.7" font-size="2.4" text-anchor="start" fill="#666">3</text>
<text x="0" y="0" font-size="3.4" text-anchor="middle" fill="#777" transform="translate(92.8,302.5) rotate(-90)">0</text>
<text x="0" y="0" font-size="3.4" text-anchor="middle" fill="#777" transform="translate(92.8,295.5) rotate(-90)">10</text>
<text x="0" y="0" font-size="3.4" text-anchor="middle" fill="#777" transform="translate(92.8,281.5) rotate(-90)">10</text>
<text x="0" y="0" font-size="3.4" text-anchor="middle" fill="#777" transform="translate(92.8,267.5) rotate(-90)">10</text>
<line x1="95.4" y1="306.7" x2="149" y2="306.7" stroke="#aaa" stroke-width="0.5" stroke-dasharray="0.6 1.2"/>
<text x="95.9" y="256.8" font-size="2.6" text-anchor="start" fill="#777">Q1</text>
<text x="148.5" y="256.8" font-size="2.6" text-anchor="end" fill="#777">Q2</text>
<text x="95.9" y="302" font-size="2.6" text-anchor="start" fill="#777">Q3</text>
<text x="148.5" y="302" font-size="2.6" text-anchor="end" fill="#777">Q4</text>
<text x="95.9" y="305.3" font-size="2.6" text-anchor="start" fill="#777">48.7%</text>
<text x="148.5" y="305.3" font-size="2.6" text-anchor="end" fill="#777">11.9%</text>
<rect x="160.4" y="253.3" width="55.4" height="54.4" fill="none" stroke="#8a8a8a" stroke-width="0.8"/>
<line x1="184.5" y1="253.3" x2="184.5" y2="307.7" stroke="#999" stroke-width="0.7"/>
<line x1="160.4" y1="285.5" x2="215.8" y2="285.5" stroke="#999" stroke-width="0.7"/>
<text x="189.5" y="249.4" font-size="7.9" font-weight="bold" text-anchor="middle" fill="#000">MSC, no IM</text>
<text x="161.3" y="264.2" font-size="7.7" font-weight="bold" text-anchor="start" fill="#000">1.25%</text>
<text x="188.2" y="264.2" font-size="7.7" font-weight="bold" text-anchor="start" fill="#000">0.16%</text>
<text x="161.3" y="292.9" font-size="7.7" font-weight="bold" text-anchor="start" fill="#000">96.9%</text>
<text x="188.2" y="292.9" font-size="7.7" font-weight="bold" text-anchor="start" fill="#000">1.67%</text>
<text x="165.9" y="313.6" font-size="3.4" text-anchor="middle" fill="#666">0</text>
<text x="171.9" y="313.6" font-size="3.4" text-anchor="middle" fill="#666">10</text>
<text x="174.1" y="311.9" font-size="2.4" text-anchor="start" fill="#666">1</text>
<text x="186.4" y="313.6" font-size="3.4" text-anchor="middle" fill="#666">10</text>
<text x="188.6" y="311.9" font-size="2.4" text-anchor="start" fill="#666">2</text>
<text x="200.4" y="313.6" font-size="3.4" text-anchor="middle" fill="#666">10</text>
<text x="202.6" y="311.9" font-size="2.4" text-anchor="start" fill="#666">3</text>
<text x="0" y="0" font-size="3.4" text-anchor="middle" fill="#777" transform="translate(158.8,302.7) rotate(-90)">0</text>
<text x="0" y="0" font-size="3.4" text-anchor="middle" fill="#777" transform="translate(158.8,295.7) rotate(-90)">10</text>
<text x="0" y="0" font-size="3.4" text-anchor="middle" fill="#777" transform="translate(158.8,281.7) rotate(-90)">10</text>
<text x="0" y="0" font-size="3.4" text-anchor="middle" fill="#777" transform="translate(158.8,267.7) rotate(-90)">10</text>
<line x1="161.4" y1="306.9" x2="214.8" y2="306.9" stroke="#aaa" stroke-width="0.5" stroke-dasharray="0.6 1.2"/>
<text x="161.9" y="256.6" font-size="2.6" text-anchor="start" fill="#777">Q1</text>
<text x="214.3" y="256.6" font-size="2.6" text-anchor="end" fill="#777">Q2</text>
<text x="161.9" y="302.2" font-size="2.6" text-anchor="start" fill="#777">Q3</text>
<text x="214.3" y="302.2" font-size="2.6" text-anchor="end" fill="#777">Q4</text>
<text x="161.9" y="305.5" font-size="2.6" text-anchor="start" fill="#777">96.9%</text>
<text x="214.3" y="305.5" font-size="2.6" text-anchor="end" fill="#777">1.67%</text>
<rect x="225.4" y="253" width="55" height="54.4" fill="none" stroke="#8a8a8a" stroke-width="0.8"/>
<line x1="252.5" y1="253" x2="252.5" y2="307.4" stroke="#999" stroke-width="0.7"/>
<line x1="225.4" y1="284.5" x2="280.4" y2="284.5" stroke="#999" stroke-width="0.7"/>
<text x="253" y="249.4" font-size="7.9" font-weight="bold" text-anchor="middle" fill="#000">MSC, IM</text>
<text x="225.4" y="264.2" font-size="7.7" font-weight="bold" text-anchor="start" fill="#000">18.6%</text>
<text x="255.1" y="264.2" font-size="7.7" font-weight="bold" text-anchor="start" fill="#000">0.93%</text>
<text x="225.4" y="292.9" font-size="7.7" font-weight="bold" text-anchor="start" fill="#000">71.5%</text>
<text x="255.1" y="292.9" font-size="7.7" font-weight="bold" text-anchor="start" fill="#000">8.97%</text>
<text x="230.9" y="313.3" font-size="3.4" text-anchor="middle" fill="#666">0</text>
<text x="236.9" y="313.3" font-size="3.4" text-anchor="middle" fill="#666">10</text>
<text x="239.1" y="311.6" font-size="2.4" text-anchor="start" fill="#666">1</text>
<text x="251.4" y="313.3" font-size="3.4" text-anchor="middle" fill="#666">10</text>
<text x="253.6" y="311.6" font-size="2.4" text-anchor="start" fill="#666">2</text>
<text x="265.4" y="313.3" font-size="3.4" text-anchor="middle" fill="#666">10</text>
<text x="267.6" y="311.6" font-size="2.4" text-anchor="start" fill="#666">3</text>
<text x="0" y="0" font-size="3.4" text-anchor="middle" fill="#777" transform="translate(223.8,302.4) rotate(-90)">0</text>
<text x="0" y="0" font-size="3.4" text-anchor="middle" fill="#777" transform="translate(223.8,295.4) rotate(-90)">10</text>
<text x="0" y="0" font-size="3.4" text-anchor="middle" fill="#777" transform="translate(223.8,281.4) rotate(-90)">10</text>
<text x="0" y="0" font-size="3.4" text-anchor="middle" fill="#777" transform="translate(223.8,267.4) rotate(-90)">10</text>
<line x1="226.4" y1="306.6" x2="279.4" y2="306.6" stroke="#aaa" stroke-width="0.5" stroke-dasharray="0.6 1.2"/>
<text x="226.9" y="256.3" font-size="2.6" text-anchor="start" fill="#777">Q1</text>
<text x="278.9" y="256.3" font-size="2.6" text-anchor="end" fill="#777">Q2</text>
<text x="226.9" y="301.9" font-size="2.6" text-anchor="start" fill="#777">Q3</text>
<text x="278.9" y="301.9" font-size="2.6" text-anchor="end" fill="#777">Q4</text>
<text x="226.9" y="305.2" font-size="2.6" text-anchor="start" fill="#777">71.5%</text>
<text x="278.9" y="305.2" font-size="2.6" text-anchor="end" fill="#777">8.97%</text>
<path d="M43.08 296.91h1v1h-1zM43.19 296.08h1v1h-1zM40.65 296.19h1v1h-1zM48 296.82h1v1h-1zM47.73 296.65h1v1h-1zM45.42 296.59h1v1h-1zM38 297.26h1v1h-1zM45.82 296.9h1v1h-1zM37.91 294.66h1v1h-1zM40.8 295.93h1v1h-1zM45.1 296.35h1v1h-1zM45.88 295.76h1v1h-1zM45.11 296.79h1v1h-1zM41.62 298.12h1v1h-1zM46 297.6h1v1h-1zM41.77 295.66h1v1h-1zM42.76 296.29h1v1h-1zM46.28 296.65h1v1h-1zM42.39 295.44h1v1h-1zM42.13 297.62h1v1h-1zM41.09 296.64h1v1h-1zM45.54 294.91h1v1h-1zM44.17 297.71h1v1h-1zM36.75 296.08h1v1h-1zM43.62 295.58h1v1h-1zM45.79 296.34h1v1h-1zM38.73 297.23h1v1h-1zM46.41 297.35h1v1h-1zM49.19 296.76h1v1h-1zM44.43 295.1h1v1h-1zM46.22 295.79h1v1h-1zM42.37 295.14h1v1h-1zM40.52 295.87h1v1h-1zM48.64 294.37h1v1h-1zM38.75 296.64h1v1h-1zM49.2 296.98h1v1h-1zM37.16 293.88h1v1h-1zM45.29 295.66h1v1h-1zM39.97 297.38h1v1h-1zM47.97 296.56h1v1h-1zM44.88 296.83h1v1h-1zM49.74 297.02h1v1h-1zM45.87 296.95h1v1h-1zM38.35 297.68h1v1h-1zM47.44 296.93h1v1h-1zM36.89 295.77h1v1h-1zM47.03 294.59h1v1h-1zM43.34 297.42h1v1h-1zM39.28 298.01h1v1h-1zM45.99 296.25h1v1h-1zM45.17 297.05h1v1h-1zM44.43 297.55h1v1h-1zM41.62 295.99h1v1h-1zM47.75 296.43h1v1h-1zM40.83 297.35h1v1h-1zM49.28 295.96h1v1h-1zM39.03 296.27h1v1h-1zM43.46 296.1h1v1h-1zM49.06 295.37h1v1h-1zM48.54 295.13h1v1h-1zM41.17 297.03h1v1h-1zM48.06 297.26h1v1h-1zM45.24 296.54h1v1h-1zM44.55 296.98h1v1h-1zM43.37 296.68h1v1h-1zM46.06 296.4h1v1h-1zM46.75 296.97h1v1h-1zM51.24 296.72h1v1h-1zM42.46 296.03h1v1h-1zM43.95 297.32h1v1h-1zM42.79 296.79h1v1h-1zM50.61 293.84h1v1h-1zM39.95 296.64h1v1h-1zM45.43 296.64h1v1h-1zM42.45 297.06h1v1h-1zM45.02 295.88h1v1h-1zM52.75 296.76h1v1h-1zM42 296.3h1v1h-1zM43.19 296.34h1v1h-1zM47.63 295.23h1v1h-1zM43.76 297.35h1v1h-1zM47.08 297.89h1v1h-1zM37.87 296.05h1v1h-1zM42.77 297.02h1v1h-1zM47.93 293.72h1v1h-1zM47.92 294.95h1v1h-1zM46.46 294.91h1v1h-1zM44.63 297.59h1v1h-1zM43.46 296.59h1v1h-1zM46.87 296.54h1v1h-1zM43.68 297.93h1v1h-1zM47.77 296.11h1v1h-1zM53.88 295.25h1v1h-1zM47.29 296.13h1v1h-1zM44.48 297.11h1v1h-1zM44.8 297.04h1v1h-1zM38.5 294.89h1v1h-1zM46.21 295.44h1v1h-1zM40.3 294.93h1v1h-1zM48.56 297.15h1v1h-1zM49.3 295.46h1v1h-1zM44 295.26h1v1h-1zM46.76 297.99h1v1h-1zM40.8 297.96h1v1h-1zM47.56 296.22h1v1h-1zM36.9 297.81h1v1h-1zM43.65 295.8h1v1h-1zM45.44 296.81h1v1h-1zM49.39 295.38h1v1h-1zM48.09 297.89h1v1h-1zM49.23 296.22h1v1h-1zM41.32 297.42h1v1h-1zM44.41 296.52h1v1h-1zM49.13 296.14h1v1h-1zM37.33 297.22h1v1h-1zM45.14 295.79h1v1h-1zM43.97 297.23h1v1h-1zM44.28 297.73h1v1h-1zM43.78 297.44h1v1h-1zM49.37 298.01h1v1h-1zM41.58 297.28h1v1h-1zM37.25 295.32h1v1h-1zM36.93 297.47h1v1h-1zM39.57 296.39h1v1h-1zM43.31 296.37h1v1h-1zM41.87 296.63h1v1h-1zM50.45 296.44h1v1h-1zM45.91 297.4h1v1h-1zM43.29 295.14h1v1h-1zM42 297.47h1v1h-1zM38.07 295.8h1v1h-1zM47.63 297.19h1v1h-1zM44.03 297.21h1v1h-1zM44.6 295.22h1v1h-1zM38.37 295.76h1v1h-1zM47.32 295.83h1v1h-1zM40.75 295.63h1v1h-1zM38.49 296.28h1v1h-1zM39.75 296.76h1v1h-1zM41.69 294.46h1v1h-1zM46.61 296.12h1v1h-1zM45.05 295.94h1v1h-1zM46.81 297.15h1v1h-1zM46.4 296.73h1v1h-1zM48.8 297.06h1v1h-1zM45.62 294.32h1v1h-1zM47.23 297.71h1v1h-1zM42.93 295.93h1v1h-1zM50.99 294.64h1v1h-1zM45.69 298.82h1v1h-1zM40.66 297.09h1v1h-1zM50.79 296.28h1v1h-1zM46.02 297.3h1v1h-1zM40.74 296.31h1v1h-1zM45.05 297.23h1v1h-1zM43.88 296.2h1v1h-1zM40.34 296.04h1v1h-1zM47.21 296.5h1v1h-1zM40.93 295.56h1v1h-1zM53.6 297.54h1v1h-1zM46.29 293.81h1v1h-1zM46.24 296.88h1v1h-1zM50.06 296.83h1v1h-1zM43.76 296.92h1v1h-1zM37 297.43h1v1h-1zM45.17 295.7h1v1h-1zM48.77 298.21h1v1h-1zM38.95 295.73h1v1h-1zM45.05 296.58h1v1h-1zM42.57 295.43h1v1h-1zM51.63 297.44h1v1h-1zM39.7 295.05h1v1h-1zM50.13 297.39h1v1h-1zM50.56 297.21h1v1h-1zM40.86 296.66h1v1h-1zM43.79 296.92h1v1h-1zM41.38 296.28h1v1h-1zM45.65 296.78h1v1h-1zM46.3 296.61h1v1h-1zM42.83 297.19h1v1h-1zM44.18 295.57h1v1h-1zM41.75 296.4h1v1h-1zM43.61 296.56h1v1h-1zM44 296.58h1v1h-1zM43.52 295.14h1v1h-1zM45.52 297.45h1v1h-1zM45.56 296.21h1v1h-1zM45.61 295.43h1v1h-1zM37.17 296.46h1v1h-1zM40.65 297.14h1v1h-1zM40.1 293.77h1v1h-1zM40.26 297.98h1v1h-1zM42.63 295.03h1v1h-1zM41.25 296.92h1v1h-1zM45.79 296.58h1v1h-1zM49.34 297.11h1v1h-1zM43.92 297h1v1h-1zM49.96 297.37h1v1h-1zM47.69 295.32h1v1h-1zM43.47 297.13h1v1h-1zM42.93 297.47h1v1h-1zM46.15 297.31h1v1h-1zM43.24 298.95h1v1h-1zM48.46 296.18h1v1h-1zM44.33 299h1v1h-1zM42.76 297.27h1v1h-1zM47.53 296.41h1v1h-1zM39.8 296.59h1v1h-1zM45.29 297.53h1v1h-1zM46.82 296.42h1v1h-1zM47.07 296.94h1v1h-1zM44.74 296.46h1v1h-1zM43.12 297.09h1v1h-1zM40.2 295.77h1v1h-1zM44.02 294.94h1v1h-1zM42.43 294.39h1v1h-1zM41.54 296.97h1v1h-1zM46.04 296.35h1v1h-1zM43.16 294.98h1v1h-1zM50.58 296.92h1v1h-1zM47.94 295.52h1v1h-1zM43.33 294.58h1v1h-1zM46.81 297.34h1v1h-1zM37.17 296.35h1v1h-1zM46.27 294.64h1v1h-1zM37.43 295.33h1v1h-1zM41.73 295h1v1h-1zM44.11 296.65h1v1h-1zM46.28 297.1h1v1h-1zM49.41 297.56h1v1h-1zM39.28 295.89h1v1h-1zM40.18 295.32h1v1h-1zM43.71 296.41h1v1h-1zM45.77 294.81h1v1h-1zM39.54 296.38h1v1h-1zM43.28 296.09h1v1h-1zM43.77 295.64h1v1h-1zM46.52 296.75h1v1h-1zM43.68 295.73h1v1h-1zM43.37 293.68h1v1h-1zM40.47 296.44h1v1h-1zM38.59 296.6h1v1h-1zM44.53 295.02h1v1h-1zM43.1 296.09h1v1h-1zM45.66 297.01h1v1h-1zM43.87 295.55h1v1h-1zM43.48 296.33h1v1h-1zM46.64 296.69h1v1h-1zM41.4 295.05h1v1h-1zM42.66 295.66h1v1h-1zM40 296.28h1v1h-1zM42.23 296.51h1v1h-1zM45.88 295.99h1v1h-1zM52.37 296.08h1v1h-1zM47.97 296.52h1v1h-1zM48.02 294.02h1v1h-1zM41.29 296.65h1v1h-1zM46.17 298.74h1v1h-1zM45.16 297.68h1v1h-1zM46.76 297.35h1v1h-1zM45.84 296.24h1v1h-1zM45.83 295.32h1v1h-1zM48.25 295.38h1v1h-1zM44.9 298.52h1v1h-1zM43.2 296.42h1v1h-1zM48.19 296.43h1v1h-1zM41.09 296.66h1v1h-1zM46.1 297.11h1v1h-1zM41.22 298.15h1v1h-1zM50 296.42h1v1h-1zM44.97 295.97h1v1h-1zM49.09 295.7h1v1h-1zM46.43 295.92h1v1h-1zM41.5 297.12h1v1h-1zM48.8 296.39h1v1h-1zM41.56 297.21h1v1h-1zM43.82 296.71h1v1h-1zM49.48 297.53h1v1h-1zM42.13 298.68h1v1h-1zM44.01 297.19h1v1h-1zM41.67 296.36h1v1h-1zM37.7 298.19h1v1h-1zM48.92 295.18h1v1h-1zM38.58 294.78h1v1h-1zM48.23 295.94h1v1h-1zM43.78 296.09h1v1h-1zM43.56 295.31h1v1h-1zM44.09 294.96h1v1h-1zM43.74 296.71h1v1h-1zM45.68 296.17h1v1h-1zM40.75 296.56h1v1h-1zM42.26 297.97h1v1h-1zM46.76 296.28h1v1h-1zM42.3 295.7h1v1h-1zM40.63 296.05h1v1h-1zM45.06 296.92h1v1h-1zM46.05 298.5h1v1h-1zM41.46 296.41h1v1h-1zM54.06 294.53h1v1h-1zM42.12 296.57h1v1h-1zM44.56 296.81h1v1h-1zM43.14 296.77h1v1h-1zM44.19 297.17h1v1h-1zM37.19 295.51h1v1h-1zM43.99 295.37h1v1h-1zM40.24 297.03h1v1h-1zM41.66 297.03h1v1h-1zM46.68 296.71h1v1h-1zM45.83 296.3h1v1h-1zM38.93 296.37h1v1h-1zM45.64 295.87h1v1h-1zM43.64 297.15h1v1h-1zM40.84 297.04h1v1h-1zM50.71 295.85h1v1h-1zM44.53 296.25h1v1h-1zM49.54 296.72h1v1h-1zM47.23 295.71h1v1h-1zM43.94 296.39h1v1h-1zM37.61 297.84h1v1h-1zM47.24 294.65h1v1h-1zM46.68 296.27h1v1h-1zM45.61 296.77h1v1h-1zM38.6 296.19h1v1h-1zM49.37 295.83h1v1h-1zM40.32 295.04h1v1h-1zM39.6 296.74h1v1h-1zM50.09 296.83h1v1h-1zM44.88 298.63h1v1h-1zM42.13 295.73h1v1h-1zM45.9 296.95h1v1h-1zM40.35 295.23h1v1h-1zM45.05 296.65h1v1h-1zM39.3 296.2h1v1h-1zM42.05 296.86h1v1h-1zM43.58 296.31h1v1h-1zM42.73 297.45h1v1h-1zM49.01 296.03h1v1h-1zM47.05 295.64h1v1h-1zM44.26 297.15h1v1h-1zM49.45 296.02h1v1h-1zM43.73 296.6h1v1h-1zM38.61 296.42h1v1h-1zM41.57 296.77h1v1h-1zM39.93 294.42h1v1h-1zM44.14 296.66h1v1h-1zM42.02 297.29h1v1h-1zM43.02 295.79h1v1h-1zM45.72 294.83h1v1h-1zM41.56 296.38h1v1h-1zM47.06 296.24h1v1h-1zM45.11 295.74h1v1h-1zM45.09 298.06h1v1h-1zM41.53 298.77h1v1h-1zM41.68 296.42h1v1h-1zM44.62 297.42h1v1h-1zM39.55 294.3h1v1h-1zM46.18 297.2h1v1h-1zM46.25 299.03h1v1h-1zM44.74 296.65h1v1h-1zM47.35 296.77h1v1h-1zM49.99 295.16h1v1h-1zM42.65 292.96h1v1h-1zM46.92 296.03h1v1h-1zM47.33 298.55h1v1h-1zM43.98 296.15h1v1h-1zM42.2 295.56h1v1h-1zM41.73 297.04h1v1h-1zM44.13 296.47h1v1h-1zM43.38 297.31h1v1h-1zM45.78 296.26h1v1h-1zM46.39 296.25h1v1h-1zM39.85 297.86h1v1h-1zM45.68 295.44h1v1h-1zM47.88 296.74h1v1h-1zM38.37 298.01h1v1h-1zM45.2 297.29h1v1h-1zM44.71 296.25h1v1h-1zM38.43 297.37h1v1h-1zM44.11 296.11h1v1h-1zM45.26 296.48h1v1h-1zM46.43 296.03h1v1h-1zM43.87 294.26h1v1h-1zM42.48 297.08h1v1h-1zM48.81 296.04h1v1h-1zM43.56 297.98h1v1h-1zM42.83 297.13h1v1h-1zM50.04 296.44h1v1h-1zM48.42 295.69h1v1h-1zM44.75 296.32h1v1h-1zM44.41 297.53h1v1h-1zM52.6 295.73h1v1h-1zM41.93 296.9h1v1h-1zM40.2 296.9h1v1h-1zM46.06 296.12h1v1h-1zM45.91 294.85h1v1h-1zM46.74 294.86h1v1h-1zM41.49 295.84h1v1h-1zM42.56 297.26h1v1h-1zM44.29 296h1v1h-1zM45.96 297.98h1v1h-1zM44.02 296.77h1v1h-1zM48.46 296.67h1v1h-1zM39.38 298.89h1v1h-1zM51.95 294.42h1v1h-1zM43.86 296.82h1v1h-1zM47.48 297.07h1v1h-1zM43.02 295.35h1v1h-1zM44.37 297.43h1v1h-1zM40.08 295.37h1v1h-1zM43.91 294.46h1v1h-1zM43.06 295.96h1v1h-1zM45.62 295.7h1v1h-1zM40.82 296.01h1v1h-1zM43.82 295.74h1v1h-1zM44.04 297.15h1v1h-1z" fill="#000" fill-opacity="0.95"/>
<path d="M41.4 297.98h1v1h-1zM38.25 295.64h1v1h-1zM38.34 296.06h1v1h-1zM40.34 294.61h1v1h-1zM40.24 296.07h1v1h-1zM41.41 294.05h1v1h-1zM40.79 296.33h1v1h-1zM40.26 296.59h1v1h-1zM41.59 295.85h1v1h-1zM40.9 295.65h1v1h-1zM40.66 295.2h1v1h-1zM39.33 298h1v1h-1zM40.21 295.93h1v1h-1zM37.67 295.23h1v1h-1zM39.81 297.13h1v1h-1zM40.18 296.68h1v1h-1zM39.43 297.59h1v1h-1zM38.87 295.5h1v1h-1zM40.92 296.17h1v1h-1zM39.05 295.47h1v1h-1zM39.09 296.79h1v1h-1zM40.07 294.77h1v1h-1zM40.18 296.3h1v1h-1zM37.9 296.95h1v1h-1zM39.05 295.73h1v1h-1zM40.77 297.55h1v1h-1zM38.4 296.58h1v1h-1zM38.1 298.65h1v1h-1zM38.71 297.41h1v1h-1zM38.46 296.99h1v1h-1zM43.05 293.3h1v1h-1zM38.8 296.65h1v1h-1zM39.35 295.36h1v1h-1zM42.94 296.19h1v1h-1zM36.87 297.04h1v1h-1zM36.75 297.37h1v1h-1zM38.58 296.26h1v1h-1zM41.52 296.23h1v1h-1zM37.27 294.23h1v1h-1zM41.39 296.91h1v1h-1zM38.19 297.05h1v1h-1zM40.29 296.81h1v1h-1zM40.94 296.91h1v1h-1zM40.91 293.4h1v1h-1zM39.77 296.64h1v1h-1zM43.58 295.05h1v1h-1zM38.97 296.14h1v1h-1zM40.92 295.61h1v1h-1zM41.34 295.23h1v1h-1zM39.93 295.52h1v1h-1zM39.75 295.34h1v1h-1zM36.94 297.3h1v1h-1zM39.99 295.49h1v1h-1zM39.82 297.19h1v1h-1zM37.94 295.98h1v1h-1zM40.36 296.68h1v1h-1zM38.96 293.78h1v1h-1zM41.49 296.46h1v1h-1zM39.52 295.79h1v1h-1zM39.92 295.63h1v1h-1zM37.86 295.29h1v1h-1zM38.55 295.43h1v1h-1zM37.65 296.8h1v1h-1zM37.4 296.83h1v1h-1zM37.88 296.49h1v1h-1zM41.7 296.32h1v1h-1zM38.33 296.15h1v1h-1zM39.74 294.19h1v1h-1zM38.53 296.28h1v1h-1zM38.75 296.19h1v1h-1zM40.67 296.94h1v1h-1zM40.95 296.75h1v1h-1zM39.04 296.08h1v1h-1zM39.07 295.76h1v1h-1zM39.21 294.2h1v1h-1zM38.97 296.07h1v1h-1zM37.94 296.07h1v1h-1z" fill="#000" fill-opacity="0.95"/>
<path d="M54.84 296.92h0.9v0.9h-0.9zM58.74 294.96h0.9v0.9h-0.9zM53.03 295.59h0.9v0.9h-0.9zM56 299.17h0.9v0.9h-0.9zM54.85 296.81h0.9v0.9h-0.9zM54.93 295.26h0.9v0.9h-0.9zM55.68 297.35h0.9v0.9h-0.9zM53.61 296.58h0.9v0.9h-0.9zM55.15 296.66h0.9v0.9h-0.9zM54.11 296.64h0.9v0.9h-0.9zM47.93 297.02h0.9v0.9h-0.9zM54.06 297.65h0.9v0.9h-0.9zM51.36 297.02h0.9v0.9h-0.9zM55.09 297.17h0.9v0.9h-0.9zM56.66 298.64h0.9v0.9h-0.9zM51.28 295.51h0.9v0.9h-0.9zM55.69 298.27h0.9v0.9h-0.9zM55.86 297.7h0.9v0.9h-0.9zM52 296.48h0.9v0.9h-0.9zM55.77 296.32h0.9v0.9h-0.9zM49.02 296.25h0.9v0.9h-0.9zM51.83 296.47h0.9v0.9h-0.9zM54.13 296.45h0.9v0.9h-0.9zM56.83 296.99h0.9v0.9h-0.9zM50.83 298.1h0.9v0.9h-0.9zM52.09 297.23h0.9v0.9h-0.9zM53.52 296.8h0.9v0.9h-0.9zM54.36 296.5h0.9v0.9h-0.9zM48.94 295.28h0.9v0.9h-0.9zM50.38 296.44h0.9v0.9h-0.9zM53.49 297.09h0.9v0.9h-0.9zM54.94 297.15h0.9v0.9h-0.9zM51.57 296.48h0.9v0.9h-0.9zM48.25 296.91h0.9v0.9h-0.9zM54.76 297.47h0.9v0.9h-0.9zM53.25 296.91h0.9v0.9h-0.9zM55.89 297.06h0.9v0.9h-0.9zM55.39 297.52h0.9v0.9h-0.9zM54.08 298.1h0.9v0.9h-0.9zM52.12 296.76h0.9v0.9h-0.9zM51.53 296.41h0.9v0.9h-0.9zM57.44 298.46h0.9v0.9h-0.9zM53.61 297.5h0.9v0.9h-0.9zM56.49 297.7h0.9v0.9h-0.9zM56.56 296.04h0.9v0.9h-0.9zM51.95 297.41h0.9v0.9h-0.9zM57.14 297.13h0.9v0.9h-0.9zM51.4 296.77h0.9v0.9h-0.9z" fill="#000" fill-opacity="0.3"/>
<path d="M39.37 277.78h0.7v0.7h-0.7zM56.66 279.65h0.7v0.7h-0.7zM44.81 301.95h0.7v0.7h-0.7zM54.13 287.34h0.7v0.7h-0.7zM39.75 287.93h0.7v0.7h-0.7zM57.62 289.63h0.7v0.7h-0.7zM54.74 285.43h0.7v0.7h-0.7zM48.78 283.04h0.7v0.7h-0.7zM48.07 295.05h0.7v0.7h-0.7zM33.2 284.15h0.7v0.7h-0.7zM46.57 280.08h0.7v0.7h-0.7zM42.19 290.95h0.7v0.7h-0.7zM60.66 289.69h0.7v0.7h-0.7zM47.26 272.24h0.7v0.7h-0.7zM60.07 285.27h0.7v0.7h-0.7zM44.38 275.7h0.7v0.7h-0.7zM44.2 275.88h0.7v0.7h-0.7zM45.22 288.38h0.7v0.7h-0.7zM44.9 286.89h0.7v0.7h-0.7zM37.84 296.09h0.7v0.7h-0.7zM39.42 270.1h0.7v0.7h-0.7zM43.15 278.54h0.7v0.7h-0.7zM36.57 281.81h0.7v0.7h-0.7zM46.98 275.2h0.7v0.7h-0.7zM43.55 296.06h0.7v0.7h-0.7zM50.11 283.43h0.7v0.7h-0.7zM45.67 283.69h0.7v0.7h-0.7zM44.27 290.51h0.7v0.7h-0.7zM43.91 265.41h0.7v0.7h-0.7zM44.48 277.53h0.7v0.7h-0.7zM49.86 279.77h0.7v0.7h-0.7zM45.84 302.07h0.7v0.7h-0.7zM36.27 275.65h0.7v0.7h-0.7zM33.36 265.49h0.7v0.7h-0.7zM39.55 269.7h0.7v0.7h-0.7zM32.79 289.59h0.7v0.7h-0.7zM38.45 281.72h0.7v0.7h-0.7zM47.29 295.5h0.7v0.7h-0.7zM60.18 292.91h0.7v0.7h-0.7z" fill="#000" fill-opacity="0.12"/>
<path d="M108.49 272.19h1v1h-1zM114.13 274.19h1v1h-1zM106.94 272.63h1v1h-1zM108.98 271.98h1v1h-1zM106.3 269.78h1v1h-1zM106.18 269.43h1v1h-1zM112.16 272.76h1v1h-1zM103.9 274.13h1v1h-1zM111.03 268.85h1v1h-1zM114.26 273.2h1v1h-1zM115.02 269.93h1v1h-1zM109.8 272.58h1v1h-1zM108.69 272.17h1v1h-1zM111.58 269.51h1v1h-1zM103.78 269.67h1v1h-1zM106.1 270.93h1v1h-1zM109.25 272.33h1v1h-1zM108.11 270.82h1v1h-1zM106.5 273.42h1v1h-1zM110.6 272.06h1v1h-1zM106.9 274.38h1v1h-1zM105.98 272.94h1v1h-1zM111.92 271.48h1v1h-1zM110.81 270.11h1v1h-1zM111.44 272.22h1v1h-1zM102.61 272.97h1v1h-1zM104.97 273.95h1v1h-1zM105.69 271.64h1v1h-1zM108.96 271.37h1v1h-1zM108.88 271.01h1v1h-1zM110.28 271.91h1v1h-1zM108.72 267.5h1v1h-1zM111.95 271.95h1v1h-1zM109.59 273.61h1v1h-1zM104.32 274.38h1v1h-1zM107.46 275.73h1v1h-1zM107.5 272.99h1v1h-1zM106.75 270.11h1v1h-1zM111.73 273.35h1v1h-1zM113.23 273.27h1v1h-1zM106.05 269.24h1v1h-1zM105.79 270.82h1v1h-1zM105.23 272.83h1v1h-1zM109.11 271.47h1v1h-1zM108.59 271.67h1v1h-1zM108.72 273.1h1v1h-1zM111.26 270.8h1v1h-1zM102.88 274.18h1v1h-1zM108.39 273.67h1v1h-1zM102.41 271.37h1v1h-1zM108.09 269.59h1v1h-1zM106.25 273.06h1v1h-1zM111.67 274.45h1v1h-1zM105.06 269.66h1v1h-1zM109.77 273.4h1v1h-1zM108.66 269.82h1v1h-1zM110.66 273.17h1v1h-1zM109.88 271.12h1v1h-1zM109.03 273.17h1v1h-1zM106.1 268.95h1v1h-1zM109.12 272.67h1v1h-1zM108.05 273.32h1v1h-1zM106.01 271.77h1v1h-1zM106.96 272.81h1v1h-1zM113.43 271.5h1v1h-1zM114.99 274.35h1v1h-1zM110.69 272.84h1v1h-1zM114.02 271.61h1v1h-1zM107.62 270.2h1v1h-1zM109.61 274.05h1v1h-1zM109.81 272.58h1v1h-1zM107.32 272.17h1v1h-1zM103.15 273.58h1v1h-1zM106.61 270.13h1v1h-1zM105.45 270.58h1v1h-1zM110.91 273.59h1v1h-1zM103.38 273.38h1v1h-1zM111.02 270.97h1v1h-1zM102.95 270.71h1v1h-1zM105.85 272.45h1v1h-1zM106.78 268.65h1v1h-1zM108.79 269.45h1v1h-1zM111.08 269.97h1v1h-1zM105.64 270.53h1v1h-1zM106.16 273.98h1v1h-1zM110.9 272.86h1v1h-1zM109.09 269.42h1v1h-1zM106.23 271.02h1v1h-1zM104.68 272.71h1v1h-1zM105.48 270.76h1v1h-1zM104.45 268.61h1v1h-1zM110.02 274.03h1v1h-1zM108.59 270.34h1v1h-1zM112.14 272.38h1v1h-1zM111.15 274.27h1v1h-1zM111.83 271.19h1v1h-1zM111.58 273.14h1v1h-1zM102.77 271.25h1v1h-1zM103.16 271.73h1v1h-1zM109.97 270.19h1v1h-1zM109.28 274.25h1v1h-1zM103.5 273.6h1v1h-1zM115.05 275.11h1v1h-1zM107.29 272.33h1v1h-1zM107.48 273.5h1v1h-1zM111.53 272.04h1v1h-1zM103.38 273.09h1v1h-1zM106.4 272.91h1v1h-1zM108.89 274.5h1v1h-1zM111.87 271.18h1v1h-1zM109.19 274.72h1v1h-1zM106.17 272.59h1v1h-1zM112.05 273.91h1v1h-1zM109.76 269.79h1v1h-1zM103.71 272.3h1v1h-1zM109.32 275.98h1v1h-1zM105.07 273.72h1v1h-1zM110.62 269.23h1v1h-1zM105.22 272.17h1v1h-1zM106.32 271.65h1v1h-1zM109.6 270.6h1v1h-1zM109.59 270.88h1v1h-1zM106.15 272.76h1v1h-1zM106.05 272.36h1v1h-1zM113.44 271.94h1v1h-1zM107.5 273.08h1v1h-1zM106.76 273.63h1v1h-1zM103.64 272.89h1v1h-1zM106.26 270.62h1v1h-1zM114.02 270.54h1v1h-1zM113.97 272.95h1v1h-1zM112.94 270.34h1v1h-1zM112.08 274.23h1v1h-1zM107.6 271.69h1v1h-1zM116.35 272.18h1v1h-1zM106.56 270.89h1v1h-1zM109.52 272.43h1v1h-1zM108.6 274.65h1v1h-1zM106.89 272.66h1v1h-1zM112.96 270.29h1v1h-1zM111.53 274.83h1v1h-1zM103.39 270.14h1v1h-1zM104.47 268.95h1v1h-1zM109.54 268.93h1v1h-1zM109.7 274.23h1v1h-1zM102.51 271.39h1v1h-1zM105.49 271.47h1v1h-1zM108.18 272.77h1v1h-1zM106.82 271.92h1v1h-1zM106.14 272.08h1v1h-1zM104.01 272h1v1h-1zM114.51 272.03h1v1h-1zM103.72 272.31h1v1h-1zM104.69 269.26h1v1h-1zM105.5 273.08h1v1h-1zM109.31 271.74h1v1h-1zM104.85 270.17h1v1h-1zM112.59 272.29h1v1h-1zM104.76 268.52h1v1h-1zM103.34 275.86h1v1h-1zM104.09 271.78h1v1h-1zM108.71 271.65h1v1h-1zM107.05 269.7h1v1h-1zM104.43 274.6h1v1h-1zM105.43 273.25h1v1h-1zM108.89 273.56h1v1h-1zM104.18 272.85h1v1h-1zM109.31 270.72h1v1h-1zM109.62 270.46h1v1h-1zM105.29 271.87h1v1h-1zM104.6 269.56h1v1h-1zM106.55 273.12h1v1h-1zM106.62 273.93h1v1h-1zM104.06 269.8h1v1h-1zM113.27 272.54h1v1h-1zM111.21 270.58h1v1h-1zM110.73 272.32h1v1h-1zM110.21 271.94h1v1h-1zM112.1 270.86h1v1h-1zM104.72 269.54h1v1h-1zM111.95 270.72h1v1h-1zM104.45 270.4h1v1h-1zM106.49 269.87h1v1h-1zM107.01 270.9h1v1h-1zM106.13 270.36h1v1h-1zM108.13 271.16h1v1h-1zM108.39 272.3h1v1h-1zM109.16 268.4h1v1h-1zM106.18 270.63h1v1h-1zM110.63 269.38h1v1h-1zM105.57 271.43h1v1h-1zM106.86 273.49h1v1h-1zM106.49 273.44h1v1h-1zM103.02 269h1v1h-1zM112.15 272.6h1v1h-1zM109.66 272.1h1v1h-1zM109.65 269.95h1v1h-1zM111.22 271.05h1v1h-1zM111.35 272.04h1v1h-1zM111.83 271.68h1v1h-1zM106.66 272.29h1v1h-1zM106.55 271.03h1v1h-1zM108.35 272.13h1v1h-1zM113.16 271.97h1v1h-1zM114.39 274.78h1v1h-1zM113.84 273.6h1v1h-1zM108.44 272.12h1v1h-1zM107.52 270.73h1v1h-1zM107.77 270.87h1v1h-1zM113.58 272.76h1v1h-1zM106.48 268.84h1v1h-1zM107.82 271.23h1v1h-1zM104.31 270.08h1v1h-1zM107.78 276.03h1v1h-1zM107.89 271.66h1v1h-1zM112.91 272.11h1v1h-1zM108.57 271.31h1v1h-1zM105.94 274.3h1v1h-1zM111.4 274.65h1v1h-1zM106.81 271.95h1v1h-1zM105.01 273.45h1v1h-1zM103.26 272.8h1v1h-1zM111.73 274.16h1v1h-1zM104.8 273.64h1v1h-1zM105.57 270.69h1v1h-1zM103.5 273.75h1v1h-1zM113.6 270.95h1v1h-1zM105.42 271.36h1v1h-1zM116.52 273.51h1v1h-1zM106.16 269.03h1v1h-1zM105.71 273.8h1v1h-1zM114.35 271.47h1v1h-1zM105.65 271.08h1v1h-1zM104.31 273.6h1v1h-1zM108.98 270.68h1v1h-1zM110.66 271.91h1v1h-1zM104.01 272.9h1v1h-1zM110.86 268.84h1v1h-1zM114.21 272.7h1v1h-1zM110.58 268.92h1v1h-1zM105.55 271.34h1v1h-1zM111.66 269.56h1v1h-1zM105 268.65h1v1h-1zM107.18 272.45h1v1h-1zM109.74 274.44h1v1h-1zM110.26 271.41h1v1h-1zM104 270.4h1v1h-1zM105.74 272.14h1v1h-1z" fill="#000" fill-opacity="0.75"/>
<path d="M115.4 277.88h0.9v0.9h-0.9zM116.41 272.41h0.9v0.9h-0.9zM120.18 276.45h0.9v0.9h-0.9zM115.85 273.11h0.9v0.9h-0.9zM109.94 272.51h0.9v0.9h-0.9zM118.29 272.94h0.9v0.9h-0.9zM111.59 274.94h0.9v0.9h-0.9zM116.28 275.76h0.9v0.9h-0.9zM117.52 277.37h0.9v0.9h-0.9zM113.03 276.51h0.9v0.9h-0.9zM112.59 275.94h0.9v0.9h-0.9zM116.09 275.04h0.9v0.9h-0.9zM118.45 274.52h0.9v0.9h-0.9zM118.89 276.3h0.9v0.9h-0.9zM115.96 273.42h0.9v0.9h-0.9zM113.29 273.49h0.9v0.9h-0.9zM114.94 274.5h0.9v0.9h-0.9zM117.86 272.83h0.9v0.9h-0.9zM113.42 273.91h0.9v0.9h-0.9zM116.13 272.48h0.9v0.9h-0.9zM120.39 273.42h0.9v0.9h-0.9zM118.78 269.88h0.9v0.9h-0.9zM115.53 275.11h0.9v0.9h-0.9zM116.12 275.75h0.9v0.9h-0.9zM116.39 274.87h0.9v0.9h-0.9zM109.87 273.12h0.9v0.9h-0.9zM108.52 275.81h0.9v0.9h-0.9zM116.47 274.16h0.9v0.9h-0.9zM113.09 273.39h0.9v0.9h-0.9zM121.09 278.01h0.9v0.9h-0.9zM115.38 277.13h0.9v0.9h-0.9zM110.79 270.68h0.9v0.9h-0.9zM114.1 272.8h0.9v0.9h-0.9zM113.87 274.93h0.9v0.9h-0.9zM115.7 275.1h0.9v0.9h-0.9zM115.45 276.41h0.9v0.9h-0.9zM120.88 272.06h0.9v0.9h-0.9zM116.04 274.02h0.9v0.9h-0.9zM116.62 271.49h0.9v0.9h-0.9zM110.28 269.92h0.9v0.9h-0.9zM117.13 274.93h0.9v0.9h-0.9zM115.77 269.82h0.9v0.9h-0.9zM114.43 273.04h0.9v0.9h-0.9zM111.31 272.72h0.9v0.9h-0.9zM117.64 275.64h0.9v0.9h-0.9zM115.48 275.58h0.9v0.9h-0.9zM113.74 274.69h0.9v0.9h-0.9zM115.67 275.66h0.9v0.9h-0.9zM115.34 274.26h0.9v0.9h-0.9zM115.15 273.26h0.9v0.9h-0.9zM122.25 275.58h0.9v0.9h-0.9zM116.84 279.13h0.9v0.9h-0.9zM119.76 271.44h0.9v0.9h-0.9zM117.64 276.23h0.9v0.9h-0.9zM121.2 277.18h0.9v0.9h-0.9zM117.86 272.2h0.9v0.9h-0.9zM112.94 275.09h0.9v0.9h-0.9zM117.06 272.51h0.9v0.9h-0.9zM114.4 273.75h0.9v0.9h-0.9zM115.73 275.22h0.9v0.9h-0.9zM114.69 272.08h0.9v0.9h-0.9zM119.28 277.74h0.9v0.9h-0.9zM115.23 276.6h0.9v0.9h-0.9zM116.88 275.87h0.9v0.9h-0.9zM116.99 273.02h0.9v0.9h-0.9zM117.27 276.57h0.9v0.9h-0.9zM112.86 278.48h0.9v0.9h-0.9zM121.82 278.2h0.9v0.9h-0.9zM121.52 276.03h0.9v0.9h-0.9zM114.54 273.35h0.9v0.9h-0.9zM113.11 274.78h0.9v0.9h-0.9zM115.45 275.89h0.9v0.9h-0.9zM109.49 279.17h0.9v0.9h-0.9zM122.38 274.5h0.9v0.9h-0.9zM117.58 275.5h0.9v0.9h-0.9zM116.37 274.13h0.9v0.9h-0.9zM115.18 272.9h0.9v0.9h-0.9zM116.08 274.5h0.9v0.9h-0.9zM116.51 272.84h0.9v0.9h-0.9zM115.67 274.65h0.9v0.9h-0.9zM117.36 272.42h0.9v0.9h-0.9zM116.81 276.52h0.9v0.9h-0.9zM117.34 273.81h0.9v0.9h-0.9zM114.08 274.08h0.9v0.9h-0.9zM117.74 277.66h0.9v0.9h-0.9zM115.08 273.26h0.9v0.9h-0.9zM116.68 274.96h0.9v0.9h-0.9zM112.83 273.08h0.9v0.9h-0.9zM115.25 275.89h0.9v0.9h-0.9zM111.97 272.51h0.9v0.9h-0.9zM117.05 272.1h0.9v0.9h-0.9zM115.88 275.25h0.9v0.9h-0.9zM115.22 272.51h0.9v0.9h-0.9zM115.37 273.89h0.9v0.9h-0.9zM116.56 272.87h0.9v0.9h-0.9zM118.82 271.2h0.9v0.9h-0.9zM115.02 274.57h0.9v0.9h-0.9zM118.43 273.33h0.9v0.9h-0.9zM117.19 273.42h0.9v0.9h-0.9zM117.76 278.02h0.9v0.9h-0.9zM114.35 275.44h0.9v0.9h-0.9zM112.77 276.5h0.9v0.9h-0.9zM119.18 274.62h0.9v0.9h-0.9zM112.15 275.35h0.9v0.9h-0.9zM119 276.73h0.9v0.9h-0.9zM117.99 270.89h0.9v0.9h-0.9zM113.51 277.39h0.9v0.9h-0.9zM111.87 276.81h0.9v0.9h-0.9zM121.2 276.07h0.9v0.9h-0.9zM118.91 273.88h0.9v0.9h-0.9zM111.87 274.34h0.9v0.9h-0.9zM114.95 274.45h0.9v0.9h-0.9zM117.64 274.26h0.9v0.9h-0.9zM116.13 275.4h0.9v0.9h-0.9zM115.53 278.24h0.9v0.9h-0.9zM116.88 274.72h0.9v0.9h-0.9zM114.93 273.3h0.9v0.9h-0.9zM119.58 274.85h0.9v0.9h-0.9zM112.31 273.43h0.9v0.9h-0.9zM115.14 273.66h0.9v0.9h-0.9zM118.8 272.23h0.9v0.9h-0.9zM117.03 274.84h0.9v0.9h-0.9zM112.02 274.64h0.9v0.9h-0.9zM115.27 275.55h0.9v0.9h-0.9zM114.2 275.16h0.9v0.9h-0.9zM110.55 272.38h0.9v0.9h-0.9zM117.9 276.63h0.9v0.9h-0.9zM115.51 273.35h0.9v0.9h-0.9z" fill="#000" fill-opacity="0.45"/>
<path d="M123.31 272.32h0.8v0.8h-0.8zM118.6 280.62h0.8v0.8h-0.8zM122.23 275.5h0.8v0.8h-0.8zM115.88 282.96h0.8v0.8h-0.8zM120.98 275.91h0.8v0.8h-0.8zM120.74 281.31h0.8v0.8h-0.8zM114.12 281.93h0.8v0.8h-0.8zM122.45 272.36h0.8v0.8h-0.8zM122.53 273.26h0.8v0.8h-0.8zM123.45 279.8h0.8v0.8h-0.8zM126.23 276.77h0.8v0.8h-0.8zM120.61 281.74h0.8v0.8h-0.8zM119 276.49h0.8v0.8h-0.8zM119.67 278.38h0.8v0.8h-0.8zM117.89 280.05h0.8v0.8h-0.8zM121.96 278.81h0.8v0.8h-0.8zM124.85 277.62h0.8v0.8h-0.8zM123.87 276.96h0.8v0.8h-0.8zM122.49 272.8h0.8v0.8h-0.8zM121.1 278.07h0.8v0.8h-0.8zM119.36 276.77h0.8v0.8h-0.8zM119.73 276.44h0.8v0.8h-0.8zM115.12 276.81h0.8v0.8h-0.8zM119.23 277.03h0.8v0.8h-0.8zM117.96 278.19h0.8v0.8h-0.8zM122.56 277.85h0.8v0.8h-0.8zM119.37 282.67h0.8v0.8h-0.8zM123.04 281.37h0.8v0.8h-0.8zM123.49 277.62h0.8v0.8h-0.8zM120.28 281.94h0.8v0.8h-0.8zM119.21 278.24h0.8v0.8h-0.8zM121.54 279.72h0.8v0.8h-0.8zM119.91 281.55h0.8v0.8h-0.8zM120.15 280.78h0.8v0.8h-0.8zM123.28 280.58h0.8v0.8h-0.8zM122.43 275.12h0.8v0.8h-0.8zM117.32 276.74h0.8v0.8h-0.8zM121.79 283.1h0.8v0.8h-0.8zM117.54 279.52h0.8v0.8h-0.8zM118.46 276.4h0.8v0.8h-0.8z" fill="#000" fill-opacity="0.25"/>
<path d="M125.19 277.14h0.8v0.8h-0.8zM125.92 277.87h0.8v0.8h-0.8zM124.12 277.43h0.8v0.8h-0.8zM127 276.2h0.8v0.8h-0.8zM126.32 275.26h0.8v0.8h-0.8zM123.97 275.49h0.8v0.8h-0.8zM124.64 280.44h0.8v0.8h-0.8zM124.87 278.58h0.8v0.8h-0.8zM125.9 276.57h0.8v0.8h-0.8zM126.72 274.93h0.8v0.8h-0.8zM126.97 276.66h0.8v0.8h-0.8zM123.33 277h0.8v0.8h-0.8zM126.43 276.78h0.8v0.8h-0.8zM127.98 275.48h0.8v0.8h-0.8zM126.37 277.22h0.8v0.8h-0.8zM124.25 277.9h0.8v0.8h-0.8zM123.42 274.15h0.8v0.8h-0.8zM126.38 274.47h0.8v0.8h-0.8zM125.43 273.63h0.8v0.8h-0.8zM125.7 274.4h0.8v0.8h-0.8zM126.11 273.8h0.8v0.8h-0.8zM126.27 275.7h0.8v0.8h-0.8zM125.7 276h0.8v0.8h-0.8zM125.8 274.12h0.8v0.8h-0.8zM121.75 276.15h0.8v0.8h-0.8z" fill="#000" fill-opacity="0.2"/>
<path d="M117.47 297.55h1v1h-1zM121.15 295.72h1v1h-1zM117.94 297.37h1v1h-1zM117.15 298.49h1v1h-1zM119.62 297.12h1v1h-1zM117.34 299.07h1v1h-1zM118.22 298.8h1v1h-1zM121.21 295.83h1v1h-1zM117.07 298.1h1v1h-1zM120.92 299.04h1v1h-1zM122.17 299.34h1v1h-1zM118.99 297.85h1v1h-1zM122.09 297.59h1v1h-1zM122.85 296.19h1v1h-1zM121.76 297.89h1v1h-1zM114.69 299.28h1v1h-1zM120.84 298.13h1v1h-1zM117.09 297.54h1v1h-1zM124.08 297.11h1v1h-1zM116.76 297.94h1v1h-1zM118.94 297.01h1v1h-1zM117.73 299.36h1v1h-1zM116.11 300.45h1v1h-1zM118.53 296.79h1v1h-1zM122.13 298.78h1v1h-1zM117.18 299h1v1h-1zM115.03 296.99h1v1h-1zM123.04 297.79h1v1h-1zM116.48 298.72h1v1h-1zM122.48 298.07h1v1h-1zM115.12 297.68h1v1h-1zM121.13 299.02h1v1h-1zM125 297.8h1v1h-1zM118.7 298.05h1v1h-1zM123.26 296.97h1v1h-1zM123.52 294.8h1v1h-1zM122.15 297.29h1v1h-1zM121.24 298.93h1v1h-1zM116.81 298h1v1h-1zM120.65 298.8h1v1h-1zM117.49 296.91h1v1h-1zM114.81 301.15h1v1h-1zM119.48 297.83h1v1h-1zM115.96 299.22h1v1h-1zM118.56 299.82h1v1h-1zM122.3 298.13h1v1h-1zM121.96 296.77h1v1h-1zM119.12 297.41h1v1h-1zM116.57 298.12h1v1h-1zM119.61 299.82h1v1h-1zM117.52 297.54h1v1h-1zM121.14 298.58h1v1h-1zM120.08 297.53h1v1h-1zM121.34 298.53h1v1h-1zM115.02 297.79h1v1h-1zM116.29 296.68h1v1h-1zM120.4 298.17h1v1h-1zM120.31 297.05h1v1h-1zM119.46 297h1v1h-1zM121.03 298.93h1v1h-1zM124.74 299.62h1v1h-1zM117.83 297.55h1v1h-1zM117.47 298.47h1v1h-1zM125.35 298.95h1v1h-1zM114.06 296.59h1v1h-1zM116.51 298.72h1v1h-1zM120 298.46h1v1h-1zM124.81 297.11h1v1h-1zM117.71 300.46h1v1h-1zM120.92 297.17h1v1h-1zM114.52 296.27h1v1h-1zM113.4 298.18h1v1h-1zM120.12 299.29h1v1h-1zM119.62 297.27h1v1h-1zM118 300.38h1v1h-1zM115.23 298.31h1v1h-1zM120.07 298.84h1v1h-1zM118.91 298.7h1v1h-1zM122.2 297.92h1v1h-1zM118.76 297.88h1v1h-1zM117.39 297.85h1v1h-1zM119.18 298.35h1v1h-1zM123.61 299.67h1v1h-1zM118.8 298.82h1v1h-1zM120.8 299.01h1v1h-1zM120.06 298.42h1v1h-1zM118.73 297.16h1v1h-1zM122.35 299.66h1v1h-1zM121.79 298.62h1v1h-1zM120.72 297.56h1v1h-1zM115.19 298.9h1v1h-1zM120.54 297.43h1v1h-1zM117.4 299.63h1v1h-1zM115.13 300.21h1v1h-1zM121.73 300.94h1v1h-1zM118.06 298.07h1v1h-1zM118.63 298.29h1v1h-1zM119.43 297.2h1v1h-1zM122.9 297.16h1v1h-1zM118.63 298.77h1v1h-1zM118.55 297.58h1v1h-1zM120.96 297.66h1v1h-1zM116.63 297.98h1v1h-1zM119.41 300.15h1v1h-1zM117.04 299.26h1v1h-1zM117.88 297.67h1v1h-1zM119.12 298.42h1v1h-1zM122.33 300.2h1v1h-1zM118.28 299.7h1v1h-1zM122.69 299.08h1v1h-1zM117.95 299.18h1v1h-1zM119.71 298.52h1v1h-1zM119.27 298.9h1v1h-1zM123.01 299.46h1v1h-1zM119.45 299.29h1v1h-1zM123.92 296.98h1v1h-1zM123.98 296.5h1v1h-1zM121.47 298.81h1v1h-1zM124 298.43h1v1h-1zM118.7 297.14h1v1h-1zM116.62 299.02h1v1h-1zM119.36 297.24h1v1h-1zM121.44 297.18h1v1h-1zM118.82 297.55h1v1h-1zM124.47 299.86h1v1h-1zM119.57 296.21h1v1h-1zM120.75 298.19h1v1h-1zM120.94 298.78h1v1h-1zM119.13 299.21h1v1h-1zM122.26 298.35h1v1h-1zM118.9 297.52h1v1h-1zM121.87 296.78h1v1h-1zM119.57 297.2h1v1h-1zM116.24 298.82h1v1h-1zM119.93 298.14h1v1h-1zM122.36 296.31h1v1h-1zM119.82 298.45h1v1h-1zM122.25 296.8h1v1h-1zM121.93 298.36h1v1h-1zM123.66 299.47h1v1h-1zM121.48 300.68h1v1h-1zM120 297.59h1v1h-1zM119.08 296.97h1v1h-1zM119.92 295.85h1v1h-1zM119.77 298.61h1v1h-1zM122.68 297.68h1v1h-1zM123.75 297.32h1v1h-1zM119.64 295.85h1v1h-1zM117.94 297.15h1v1h-1zM123.94 298.72h1v1h-1zM117.09 298.73h1v1h-1zM121.27 297.83h1v1h-1zM120.06 297.74h1v1h-1zM118.57 296.02h1v1h-1zM119.76 299.61h1v1h-1zM123.78 297.77h1v1h-1zM118.03 297.85h1v1h-1zM122.37 298.51h1v1h-1zM118.46 298.52h1v1h-1zM119.46 298.7h1v1h-1zM118.93 296.38h1v1h-1zM120.15 298.99h1v1h-1zM117.08 297.97h1v1h-1zM122.31 297.66h1v1h-1zM118.29 300.48h1v1h-1zM122.18 299.3h1v1h-1zM117.51 300.01h1v1h-1zM115.64 297.49h1v1h-1zM121.95 299.65h1v1h-1zM117.56 297.32h1v1h-1zM120.52 295.85h1v1h-1zM121.68 298.75h1v1h-1zM118.83 298.73h1v1h-1zM122.04 298.46h1v1h-1zM121.37 299.86h1v1h-1zM118.75 298.29h1v1h-1zM118.63 299.3h1v1h-1zM118.93 298.65h1v1h-1zM120.36 298.18h1v1h-1zM124.49 298h1v1h-1zM123.71 299.06h1v1h-1zM123.45 297.91h1v1h-1zM122.43 298.98h1v1h-1zM118.4 298.41h1v1h-1zM119.66 298.06h1v1h-1zM123.4 297.26h1v1h-1zM115.61 296.08h1v1h-1zM118.82 297.35h1v1h-1zM120.04 298.76h1v1h-1zM124.59 298.46h1v1h-1zM121.21 297.25h1v1h-1zM121.51 299.67h1v1h-1zM123.49 295.84h1v1h-1zM122.32 299.93h1v1h-1zM122.15 296.37h1v1h-1zM119.2 298.78h1v1h-1zM121.08 297.16h1v1h-1zM117.68 299.22h1v1h-1zM116.53 299.76h1v1h-1zM120.05 298.45h1v1h-1zM116.53 297.41h1v1h-1zM121.79 296.4h1v1h-1zM125.38 296.48h1v1h-1zM116.83 298.15h1v1h-1zM121.25 298.95h1v1h-1zM119.04 297.86h1v1h-1zM119.39 297.44h1v1h-1zM113.31 299.21h1v1h-1zM120.65 298.28h1v1h-1zM118.37 298.39h1v1h-1zM119.97 298.01h1v1h-1zM122.87 296.11h1v1h-1zM120.65 296.87h1v1h-1zM119.18 299.83h1v1h-1zM117.19 297.98h1v1h-1zM118.47 299.19h1v1h-1zM117.46 296.16h1v1h-1zM121.33 297.69h1v1h-1zM119.17 299.35h1v1h-1zM117.7 297.67h1v1h-1zM120.38 298.58h1v1h-1zM118.66 299.29h1v1h-1zM125.81 297.63h1v1h-1zM124.85 295.67h1v1h-1zM123.65 297.7h1v1h-1zM120.36 297.71h1v1h-1zM118.35 296.63h1v1h-1zM118.98 299.59h1v1h-1zM122.96 297.7h1v1h-1zM118.63 297.29h1v1h-1zM116.89 300.18h1v1h-1zM121.72 298.24h1v1h-1zM118.73 296.92h1v1h-1zM123.41 299h1v1h-1zM117.53 299.24h1v1h-1zM117.13 298.84h1v1h-1zM117.51 297.62h1v1h-1zM121.28 298.6h1v1h-1zM122.62 297.14h1v1h-1zM124.09 299.65h1v1h-1zM119.97 298.64h1v1h-1zM117.98 297.92h1v1h-1zM116.58 298.2h1v1h-1zM120.52 299.65h1v1h-1zM122.46 299.04h1v1h-1zM119.06 297.84h1v1h-1zM119.12 298.36h1v1h-1zM115 298.99h1v1h-1zM115.94 297.51h1v1h-1zM120.06 297.51h1v1h-1zM124.31 297.99h1v1h-1zM124.07 299.45h1v1h-1zM118.71 298.56h1v1h-1zM123.37 297.72h1v1h-1zM120.23 297.46h1v1h-1zM120.15 297.69h1v1h-1zM120.21 299.25h1v1h-1zM123.61 298.25h1v1h-1zM120.52 299.09h1v1h-1zM119.25 296.88h1v1h-1zM122.88 297.02h1v1h-1zM122.41 296.99h1v1h-1zM124.74 296.9h1v1h-1zM122.2 299.83h1v1h-1zM117.51 299.81h1v1h-1zM117.87 296.07h1v1h-1zM121.87 298.91h1v1h-1zM119.47 295.19h1v1h-1zM119.86 297.75h1v1h-1zM119.02 297.77h1v1h-1zM115.36 297.45h1v1h-1zM124.67 299.88h1v1h-1zM119.06 297.28h1v1h-1zM121.03 299.32h1v1h-1zM121.87 296.75h1v1h-1zM120.42 298.26h1v1h-1zM123.73 299.48h1v1h-1zM121.36 299.5h1v1h-1zM118.98 299.87h1v1h-1zM118.9 298.56h1v1h-1zM122.38 297.05h1v1h-1zM118.18 296.07h1v1h-1zM120.43 298.04h1v1h-1zM119.15 298.67h1v1h-1zM114.51 298.07h1v1h-1zM120.23 297.79h1v1h-1zM122.06 300.12h1v1h-1zM118.84 297.02h1v1h-1zM118.43 298.21h1v1h-1zM121.52 297.11h1v1h-1zM122.59 296.92h1v1h-1zM122.14 298.59h1v1h-1zM121.2 300.59h1v1h-1zM119.32 297.91h1v1h-1zM121.23 299.09h1v1h-1zM116.53 298.42h1v1h-1zM118.08 298.83h1v1h-1zM123.55 298.16h1v1h-1zM119.72 298.31h1v1h-1zM121.45 298.29h1v1h-1zM118.97 297.26h1v1h-1zM119.54 299.5h1v1h-1zM119.73 299.65h1v1h-1zM113.33 297.57h1v1h-1zM120.71 298.08h1v1h-1zM115.7 297.33h1v1h-1zM123.24 296.61h1v1h-1zM117.43 296.84h1v1h-1zM118.57 298.84h1v1h-1zM121.54 295.76h1v1h-1zM123.78 297.42h1v1h-1zM118.47 300.02h1v1h-1zM119.79 296.67h1v1h-1zM118.34 297.26h1v1h-1zM117.38 297.72h1v1h-1zM122.27 298.5h1v1h-1zM116.42 301.31h1v1h-1zM117.43 298.23h1v1h-1zM120.08 298.98h1v1h-1zM119.15 298.63h1v1h-1zM125.46 298.21h1v1h-1zM117.19 298.48h1v1h-1zM117.92 297.67h1v1h-1zM120.49 298.49h1v1h-1zM119.26 299.08h1v1h-1zM119.5 296.6h1v1h-1zM122.28 297.68h1v1h-1zM123.14 297.35h1v1h-1zM121.48 298.46h1v1h-1zM113.01 296.38h1v1h-1zM117.1 299.72h1v1h-1zM115.11 299.15h1v1h-1zM122.83 298.67h1v1h-1zM121.75 297.53h1v1h-1zM119.97 298.36h1v1h-1zM121.09 298.91h1v1h-1zM119.46 297.29h1v1h-1z" fill="#000" fill-opacity="0.95"/>
<path d="M109.14 297.24h0.9v0.9h-0.9zM104.09 298.79h0.9v0.9h-0.9zM108.25 295.71h0.9v0.9h-0.9zM105.82 292.93h0.9v0.9h-0.9zM108.83 295.82h0.9v0.9h-0.9zM109.44 290.45h0.9v0.9h-0.9zM109.89 296.52h0.9v0.9h-0.9zM112.9 294.87h0.9v0.9h-0.9zM111.4 290.62h0.9v0.9h-0.9zM111.26 292.71h0.9v0.9h-0.9zM110 299.24h0.9v0.9h-0.9zM107.29 296.05h0.9v0.9h-0.9zM107.86 295.36h0.9v0.9h-0.9zM113.17 292.36h0.9v0.9h-0.9zM114.23 291.18h0.9v0.9h-0.9zM109.84 298.12h0.9v0.9h-0.9zM107.74 296.56h0.9v0.9h-0.9zM109.67 295.61h0.9v0.9h-0.9zM112.35 290.68h0.9v0.9h-0.9zM110.93 293.93h0.9v0.9h-0.9zM105.33 297.73h0.9v0.9h-0.9zM110.02 296.18h0.9v0.9h-0.9zM111.52 294.59h0.9v0.9h-0.9zM109.58 294.4h0.9v0.9h-0.9zM109.83 292.61h0.9v0.9h-0.9zM106.12 298.84h0.9v0.9h-0.9zM105.65 298.91h0.9v0.9h-0.9zM107.37 296.75h0.9v0.9h-0.9zM108.87 294.3h0.9v0.9h-0.9zM106.68 294.45h0.9v0.9h-0.9zM109.26 293.62h0.9v0.9h-0.9zM107.34 290.64h0.9v0.9h-0.9zM108.29 297.81h0.9v0.9h-0.9zM103.22 302.22h0.9v0.9h-0.9zM110.43 294.87h0.9v0.9h-0.9zM106.46 299.95h0.9v0.9h-0.9zM109.14 293.5h0.9v0.9h-0.9zM111.92 292.68h0.9v0.9h-0.9zM109.5 294.49h0.9v0.9h-0.9zM111.61 293.46h0.9v0.9h-0.9zM113.61 292.02h0.9v0.9h-0.9zM108.14 296.72h0.9v0.9h-0.9zM111.96 291.79h0.9v0.9h-0.9zM111.74 294.44h0.9v0.9h-0.9zM106.48 293.01h0.9v0.9h-0.9zM110.68 294.88h0.9v0.9h-0.9zM109.39 293.78h0.9v0.9h-0.9zM113.02 291.14h0.9v0.9h-0.9zM107.47 296.19h0.9v0.9h-0.9zM109.53 292.71h0.9v0.9h-0.9zM110.1 300.4h0.9v0.9h-0.9zM114.88 292.15h0.9v0.9h-0.9zM114.41 291.47h0.9v0.9h-0.9zM107.24 301.63h0.9v0.9h-0.9zM113.94 291.74h0.9v0.9h-0.9zM106.6 302.53h0.9v0.9h-0.9zM112.96 290.25h0.9v0.9h-0.9zM111.42 295.52h0.9v0.9h-0.9zM111.29 296.55h0.9v0.9h-0.9zM111.19 295.57h0.9v0.9h-0.9zM108.3 293.13h0.9v0.9h-0.9zM111.68 301.7h0.9v0.9h-0.9zM112.53 295.65h0.9v0.9h-0.9zM115.32 293.42h0.9v0.9h-0.9zM110.7 292.65h0.9v0.9h-0.9zM107.53 292.84h0.9v0.9h-0.9zM110.77 296.65h0.9v0.9h-0.9zM104.65 302.02h0.9v0.9h-0.9zM113.98 293.97h0.9v0.9h-0.9zM106.75 297.21h0.9v0.9h-0.9zM103.77 299.76h0.9v0.9h-0.9zM114.22 295.71h0.9v0.9h-0.9zM108.89 300.18h0.9v0.9h-0.9zM110.51 293.16h0.9v0.9h-0.9zM110.17 295.51h0.9v0.9h-0.9zM118.04 290.41h0.9v0.9h-0.9zM116.17 288.13h0.9v0.9h-0.9zM114.45 293.52h0.9v0.9h-0.9zM111.87 293.85h0.9v0.9h-0.9zM109.02 295.16h0.9v0.9h-0.9zM109.44 301.08h0.9v0.9h-0.9zM106.09 294.11h0.9v0.9h-0.9zM110.7 294.19h0.9v0.9h-0.9zM112.94 296.54h0.9v0.9h-0.9zM109.42 295.08h0.9v0.9h-0.9zM108.06 297.36h0.9v0.9h-0.9zM109.17 296.65h0.9v0.9h-0.9zM110.39 299.9h0.9v0.9h-0.9zM113.41 293.26h0.9v0.9h-0.9zM113.03 293.73h0.9v0.9h-0.9zM113.71 294.53h0.9v0.9h-0.9zM114.5 293.42h0.9v0.9h-0.9zM108.73 296.62h0.9v0.9h-0.9zM109.42 298.41h0.9v0.9h-0.9zM111.61 291.92h0.9v0.9h-0.9zM115.11 296.18h0.9v0.9h-0.9zM111.8 289.92h0.9v0.9h-0.9zM110.66 296.05h0.9v0.9h-0.9zM110.48 295.6h0.9v0.9h-0.9zM113.59 291.72h0.9v0.9h-0.9zM108.12 299.29h0.9v0.9h-0.9zM109.95 295.48h0.9v0.9h-0.9zM106.7 295.27h0.9v0.9h-0.9zM106.3 298.56h0.9v0.9h-0.9zM103.59 295.34h0.9v0.9h-0.9zM111.51 290.14h0.9v0.9h-0.9zM108.86 297.92h0.9v0.9h-0.9zM108.92 298.2h0.9v0.9h-0.9zM109.19 296.9h0.9v0.9h-0.9zM110.33 294.72h0.9v0.9h-0.9zM103.27 299.12h0.9v0.9h-0.9zM111.84 296.77h0.9v0.9h-0.9zM109.33 297.36h0.9v0.9h-0.9zM111.13 295.09h0.9v0.9h-0.9zM110.65 290.25h0.9v0.9h-0.9zM110.53 293.99h0.9v0.9h-0.9zM108.08 295.07h0.9v0.9h-0.9zM106.6 296.35h0.9v0.9h-0.9zM110.53 301.32h0.9v0.9h-0.9zM114.53 289.73h0.9v0.9h-0.9zM110.69 291.62h0.9v0.9h-0.9zM112.36 296.23h0.9v0.9h-0.9zM108.59 294.05h0.9v0.9h-0.9zM108.07 294.68h0.9v0.9h-0.9zM106.07 299.16h0.9v0.9h-0.9zM107.91 295.39h0.9v0.9h-0.9zM106.47 296.78h0.9v0.9h-0.9zM112.54 295.88h0.9v0.9h-0.9zM112.5 298.23h0.9v0.9h-0.9zM106.16 300.43h0.9v0.9h-0.9zM106.79 298.49h0.9v0.9h-0.9zM111.07 295.36h0.9v0.9h-0.9zM112.28 290.88h0.9v0.9h-0.9zM106.53 298.73h0.9v0.9h-0.9zM109.88 293.34h0.9v0.9h-0.9zM114.66 294.15h0.9v0.9h-0.9zM106.79 299.92h0.9v0.9h-0.9zM110.14 289.7h0.9v0.9h-0.9zM110.29 294.15h0.9v0.9h-0.9zM108.07 301h0.9v0.9h-0.9zM109.98 293.83h0.9v0.9h-0.9zM112.08 294.38h0.9v0.9h-0.9zM112.85 293.29h0.9v0.9h-0.9zM109.54 292.44h0.9v0.9h-0.9zM109.11 296.52h0.9v0.9h-0.9zM107.63 295.05h0.9v0.9h-0.9zM105.6 301.03h0.9v0.9h-0.9zM109.35 294.29h0.9v0.9h-0.9zM107.76 295.36h0.9v0.9h-0.9zM107.95 297.29h0.9v0.9h-0.9zM109.27 297.83h0.9v0.9h-0.9zM109.85 295.65h0.9v0.9h-0.9zM112.82 295.21h0.9v0.9h-0.9zM111.94 293.42h0.9v0.9h-0.9zM108.54 294.65h0.9v0.9h-0.9zM110.07 296.89h0.9v0.9h-0.9zM110.12 293.9h0.9v0.9h-0.9zM104.49 297.5h0.9v0.9h-0.9zM112.28 295.2h0.9v0.9h-0.9zM109.19 292.33h0.9v0.9h-0.9zM109.79 295.97h0.9v0.9h-0.9zM108.1 298.32h0.9v0.9h-0.9zM108.4 294.74h0.9v0.9h-0.9zM107.87 299.86h0.9v0.9h-0.9zM109.8 292.93h0.9v0.9h-0.9zM108.58 299.23h0.9v0.9h-0.9zM111.21 292.84h0.9v0.9h-0.9zM113.85 289.73h0.9v0.9h-0.9zM108.74 299.59h0.9v0.9h-0.9zM110.02 296.03h0.9v0.9h-0.9zM108.8 293.8h0.9v0.9h-0.9zM106.67 298.55h0.9v0.9h-0.9zM112.4 289.51h0.9v0.9h-0.9zM113.92 291.04h0.9v0.9h-0.9zM107.48 298.84h0.9v0.9h-0.9zM110.33 292.26h0.9v0.9h-0.9zM104.93 302.12h0.9v0.9h-0.9zM107.72 299.02h0.9v0.9h-0.9zM104.84 300.88h0.9v0.9h-0.9zM105.94 295.92h0.9v0.9h-0.9zM109.65 296h0.9v0.9h-0.9zM107 295.46h0.9v0.9h-0.9zM108.26 292.42h0.9v0.9h-0.9zM112.11 293.93h0.9v0.9h-0.9zM115.64 290.79h0.9v0.9h-0.9zM111.34 294.24h0.9v0.9h-0.9zM108.35 293.47h0.9v0.9h-0.9zM114.6 291.07h0.9v0.9h-0.9zM107.76 294.66h0.9v0.9h-0.9zM114.66 291.01h0.9v0.9h-0.9zM107.84 299.51h0.9v0.9h-0.9zM114.99 289.1h0.9v0.9h-0.9zM110.54 293.33h0.9v0.9h-0.9zM109.84 298.22h0.9v0.9h-0.9z" fill="#000" fill-opacity="0.55"/>
<path d="M176.57 298.63h1v1h-1zM175.93 298.57h1v1h-1zM179.9 296.96h1v1h-1zM173.25 297.83h1v1h-1zM179.91 298.16h1v1h-1zM181.34 296.63h1v1h-1zM178.72 297.33h1v1h-1zM177.35 298.2h1v1h-1zM173.61 297.69h1v1h-1zM172.93 298.15h1v1h-1zM174.03 297.44h1v1h-1zM177.76 297.3h1v1h-1zM181.01 297.31h1v1h-1zM179.97 298.16h1v1h-1zM173.39 297.7h1v1h-1zM174.08 297.57h1v1h-1zM176.05 299.58h1v1h-1zM175.54 299.35h1v1h-1zM178.56 296.7h1v1h-1zM170.05 298.56h1v1h-1zM180.59 298.26h1v1h-1zM176.27 297.67h1v1h-1zM177.9 297.62h1v1h-1zM175.13 297.56h1v1h-1zM181.08 297.33h1v1h-1zM178.32 296.84h1v1h-1zM174.52 296.64h1v1h-1zM176.31 298.53h1v1h-1zM178.06 297.45h1v1h-1zM179.13 297.58h1v1h-1zM178.3 298.15h1v1h-1zM178.89 295.62h1v1h-1zM172.46 298.61h1v1h-1zM176.63 299.96h1v1h-1zM176.18 297.39h1v1h-1zM182.2 298.41h1v1h-1zM183.61 298.37h1v1h-1zM176.29 298.57h1v1h-1zM174.26 297.49h1v1h-1zM175.07 297.7h1v1h-1zM179.71 297.46h1v1h-1zM178.12 297.44h1v1h-1zM180.08 295.37h1v1h-1zM176.28 298.05h1v1h-1zM173.25 298.83h1v1h-1zM177.75 299.08h1v1h-1zM180.35 298.49h1v1h-1zM176.48 296.9h1v1h-1zM176.23 297.48h1v1h-1zM177.87 297.47h1v1h-1zM181.09 297.47h1v1h-1zM176.16 298.75h1v1h-1zM177.01 296.79h1v1h-1zM178.44 297.72h1v1h-1zM169.84 298.08h1v1h-1zM173.33 297.22h1v1h-1zM178.68 298.17h1v1h-1zM175.99 299.89h1v1h-1zM178.46 297.34h1v1h-1zM177.82 297.79h1v1h-1zM169.34 296.45h1v1h-1zM172.17 299.79h1v1h-1zM176.36 297.65h1v1h-1zM175.04 298.8h1v1h-1zM177.1 299.46h1v1h-1zM179.74 299.41h1v1h-1zM176.59 298.24h1v1h-1zM175.5 297.75h1v1h-1zM170.99 297.37h1v1h-1zM173.7 297.3h1v1h-1zM181.22 298.14h1v1h-1zM181.25 298.69h1v1h-1zM180.19 298.82h1v1h-1zM174.9 298.63h1v1h-1zM175.88 297.41h1v1h-1zM181.15 299.88h1v1h-1zM173.6 299.49h1v1h-1zM179.88 297.12h1v1h-1zM177.95 298.24h1v1h-1zM178.3 297.57h1v1h-1zM172.54 297.93h1v1h-1zM179.99 298.62h1v1h-1zM179.29 298.91h1v1h-1zM173.56 297.86h1v1h-1zM178.18 298.81h1v1h-1zM177.54 298.37h1v1h-1zM177.46 299.82h1v1h-1zM169.43 297.88h1v1h-1zM170.65 298.02h1v1h-1zM172.03 297.28h1v1h-1zM177.78 299.47h1v1h-1zM178.6 298.51h1v1h-1zM180.53 298.08h1v1h-1zM174.03 297.81h1v1h-1zM178.17 297.65h1v1h-1zM174.69 297.57h1v1h-1zM171.79 296.96h1v1h-1zM176.69 297.57h1v1h-1zM177.13 299.18h1v1h-1zM178.04 297.87h1v1h-1zM172.93 296.91h1v1h-1zM178.3 297.1h1v1h-1zM178.49 296.92h1v1h-1zM177.47 297.83h1v1h-1zM180.45 297.54h1v1h-1zM175.71 298.12h1v1h-1zM177.19 299.44h1v1h-1zM176.11 297.41h1v1h-1zM175.89 298.33h1v1h-1zM177.81 298.53h1v1h-1zM172.21 300.17h1v1h-1zM183.37 297.87h1v1h-1zM172.81 298.04h1v1h-1zM178.44 295.86h1v1h-1zM177.05 296.55h1v1h-1zM178.59 299.16h1v1h-1zM180.58 296.52h1v1h-1zM181.79 298.73h1v1h-1zM175.75 298.36h1v1h-1zM182.26 297.6h1v1h-1zM176.95 297.39h1v1h-1zM181.01 295.93h1v1h-1zM181.92 297.02h1v1h-1zM180.21 296.41h1v1h-1zM173.76 297.35h1v1h-1zM179.87 296.42h1v1h-1zM179.09 297.32h1v1h-1zM181.3 297.62h1v1h-1zM178.68 297.74h1v1h-1zM183.21 297.57h1v1h-1zM176.91 299.71h1v1h-1zM177.27 298.53h1v1h-1zM174.45 298.08h1v1h-1zM169.14 298h1v1h-1zM174.76 296.53h1v1h-1zM172.09 298.94h1v1h-1zM178.48 296.51h1v1h-1zM183.28 297.26h1v1h-1zM175.72 298.13h1v1h-1zM173.06 296.42h1v1h-1zM174.42 298.98h1v1h-1zM180.3 296.46h1v1h-1zM181.17 297.93h1v1h-1zM178.73 297.95h1v1h-1zM178.43 296.99h1v1h-1zM173.85 297.26h1v1h-1zM175.72 298.47h1v1h-1zM172.79 299.36h1v1h-1zM174.81 297.36h1v1h-1zM179.44 298.3h1v1h-1zM175.83 296.92h1v1h-1zM173.54 296.44h1v1h-1zM180.96 298.89h1v1h-1zM183.47 298.36h1v1h-1zM178.15 298.59h1v1h-1zM180.3 297.66h1v1h-1zM178.22 299.87h1v1h-1zM171.13 296.61h1v1h-1zM173.66 298.59h1v1h-1zM181.12 297.59h1v1h-1zM179.33 297.86h1v1h-1zM178.04 297.41h1v1h-1zM176.91 297.9h1v1h-1zM180.92 299.94h1v1h-1zM170.71 298.39h1v1h-1zM176.98 298.79h1v1h-1zM180.68 298.61h1v1h-1zM179.8 297.03h1v1h-1zM171.09 299.43h1v1h-1zM181.19 297.03h1v1h-1zM181.47 298.51h1v1h-1zM173.58 298.97h1v1h-1zM174.64 297.22h1v1h-1zM171.64 297.7h1v1h-1zM180.53 297.29h1v1h-1zM170.55 299.86h1v1h-1zM183.4 298.53h1v1h-1zM175.14 296.79h1v1h-1zM171.32 298.41h1v1h-1zM181.51 296.93h1v1h-1zM177 297.65h1v1h-1zM176.11 298.36h1v1h-1zM184.26 297.32h1v1h-1zM179.95 298.9h1v1h-1zM176.01 297.76h1v1h-1zM172.35 298.89h1v1h-1zM175.16 297.3h1v1h-1zM177.23 297.11h1v1h-1zM173.38 297.63h1v1h-1zM182.16 297.71h1v1h-1zM178.83 296.56h1v1h-1zM170.24 299.56h1v1h-1zM175.62 296.49h1v1h-1zM176.63 298.46h1v1h-1zM171.01 297.09h1v1h-1zM177.9 297.06h1v1h-1zM179.77 298.78h1v1h-1zM178.54 297.51h1v1h-1zM176.84 297.32h1v1h-1zM176.55 298.19h1v1h-1zM175.96 298.79h1v1h-1zM178.19 298.65h1v1h-1zM179.24 297.68h1v1h-1zM175.33 298.82h1v1h-1zM179.17 298.36h1v1h-1zM174.21 298.48h1v1h-1zM179.76 297.73h1v1h-1zM179.25 299.89h1v1h-1zM170.47 298.46h1v1h-1zM172.93 296.65h1v1h-1zM176.18 298.4h1v1h-1zM177.18 296.83h1v1h-1zM172 297.39h1v1h-1zM177.05 297.14h1v1h-1zM171.77 299.51h1v1h-1zM174.08 297.76h1v1h-1zM175.09 297.36h1v1h-1zM177.14 297.63h1v1h-1zM179.16 296.81h1v1h-1zM171.82 299.69h1v1h-1zM176.74 298.61h1v1h-1zM181.11 298.41h1v1h-1zM177.13 296.47h1v1h-1zM171.42 298.8h1v1h-1zM179.36 298.42h1v1h-1zM171.22 295.94h1v1h-1zM173.32 296.81h1v1h-1zM177.56 296.96h1v1h-1zM182.52 297.33h1v1h-1zM175.04 298.7h1v1h-1zM178.15 297.07h1v1h-1zM179.87 299.67h1v1h-1zM172.72 297.67h1v1h-1zM173.24 296.11h1v1h-1zM179.19 298.54h1v1h-1zM180.4 298.29h1v1h-1zM169.96 297.88h1v1h-1zM174.67 296.82h1v1h-1zM173.13 298.61h1v1h-1zM175.96 299.71h1v1h-1zM178.65 296.14h1v1h-1zM180.13 299.05h1v1h-1zM177.11 296.78h1v1h-1zM183.19 296.69h1v1h-1zM176.71 296.14h1v1h-1zM172.61 296.33h1v1h-1zM180.81 298.99h1v1h-1zM175.58 296.65h1v1h-1zM176.79 298.25h1v1h-1zM171.65 296.83h1v1h-1zM176.64 298.55h1v1h-1zM177.26 298.32h1v1h-1zM172.62 295.6h1v1h-1zM178.09 297.05h1v1h-1zM176.56 297.55h1v1h-1zM178.69 297.18h1v1h-1zM182.07 297.93h1v1h-1zM178.86 298.48h1v1h-1zM180.64 298.27h1v1h-1zM170.85 297.32h1v1h-1zM183.54 298.34h1v1h-1zM178.97 298.33h1v1h-1zM174.74 297.27h1v1h-1zM174.72 298.98h1v1h-1zM178.28 299.55h1v1h-1zM178.75 299.66h1v1h-1zM178.61 296.8h1v1h-1zM183.13 298.21h1v1h-1zM181.2 298.1h1v1h-1zM175.85 298.06h1v1h-1zM173.04 296.79h1v1h-1zM173.87 297.41h1v1h-1zM172.21 297.8h1v1h-1zM178.07 299.79h1v1h-1zM183.5 297.85h1v1h-1zM180.12 297.7h1v1h-1zM178.38 297.87h1v1h-1zM175.09 297.97h1v1h-1zM171.77 298.31h1v1h-1zM175.98 296.89h1v1h-1zM175.73 298.42h1v1h-1zM174.6 298.34h1v1h-1zM179.02 299.36h1v1h-1zM173.15 297.8h1v1h-1zM178.81 299.3h1v1h-1zM177.93 298.61h1v1h-1zM171.8 297.35h1v1h-1zM182.89 297.63h1v1h-1zM184.67 297.22h1v1h-1zM176.01 296.41h1v1h-1zM179.26 298.15h1v1h-1zM184.16 298.05h1v1h-1zM176.11 296.58h1v1h-1zM176.71 298.79h1v1h-1zM179.63 299.05h1v1h-1zM180.07 297.86h1v1h-1zM179.15 298.06h1v1h-1zM172.27 299.51h1v1h-1zM178.33 296.91h1v1h-1zM178.37 298.17h1v1h-1zM180.54 299.26h1v1h-1zM182.45 297.01h1v1h-1zM170.39 298.16h1v1h-1zM178.2 298.23h1v1h-1zM173.05 297.46h1v1h-1zM177.69 298.6h1v1h-1zM184.81 298.18h1v1h-1zM174.85 295.68h1v1h-1zM180.83 297.78h1v1h-1zM176.61 296.97h1v1h-1zM179.62 296.21h1v1h-1zM177.39 298.01h1v1h-1zM178.07 299.13h1v1h-1zM176.65 297.99h1v1h-1zM180.06 296.44h1v1h-1zM175.96 297.96h1v1h-1zM180.41 297.15h1v1h-1zM179.87 298.26h1v1h-1zM171.69 296.51h1v1h-1zM171.88 298.03h1v1h-1zM177.74 298.58h1v1h-1zM179.93 297.38h1v1h-1zM180.82 298.67h1v1h-1zM178.69 298.35h1v1h-1zM172.4 298.24h1v1h-1zM173.31 296.77h1v1h-1zM175.75 298.03h1v1h-1zM176.81 297.59h1v1h-1zM173.42 298.08h1v1h-1zM174.35 296.57h1v1h-1zM177.33 299.27h1v1h-1zM175.55 296.9h1v1h-1zM181.96 299.52h1v1h-1zM175.95 297.7h1v1h-1z" fill="#000" fill-opacity="0.95"/>
<path d="M186.01 300.99h0.9v0.9h-0.9zM185.84 299.04h0.9v0.9h-0.9zM186.52 296.24h0.9v0.9h-0.9zM183.14 296.82h0.9v0.9h-0.9zM186.5 298.16h0.9v0.9h-0.9zM189.47 297.78h0.9v0.9h-0.9zM186.23 298.12h0.9v0.9h-0.9zM185.85 300.36h0.9v0.9h-0.9zM186.17 299.52h0.9v0.9h-0.9zM188.39 297.45h0.9v0.9h-0.9zM187.05 297.67h0.9v0.9h-0.9zM185.79 298.21h0.9v0.9h-0.9zM185.6 297.58h0.9v0.9h-0.9zM188.96 297.79h0.9v0.9h-0.9zM187.09 299.72h0.9v0.9h-0.9zM186.92 299.07h0.9v0.9h-0.9zM188.6 299.13h0.9v0.9h-0.9zM189.32 296.63h0.9v0.9h-0.9zM189.85 298.08h0.9v0.9h-0.9zM181.72 297.41h0.9v0.9h-0.9zM182.49 298.03h0.9v0.9h-0.9zM182.28 297.05h0.9v0.9h-0.9zM186.2 298.21h0.9v0.9h-0.9zM183.8 297.82h0.9v0.9h-0.9zM185.33 298.12h0.9v0.9h-0.9zM185.53 297.83h0.9v0.9h-0.9zM187.48 296.45h0.9v0.9h-0.9zM184.47 298.18h0.9v0.9h-0.9zM184.67 297.5h0.9v0.9h-0.9zM184.59 298.26h0.9v0.9h-0.9zM188.29 297.86h0.9v0.9h-0.9zM184.96 298.41h0.9v0.9h-0.9zM185.02 296.12h0.9v0.9h-0.9zM186.14 297.67h0.9v0.9h-0.9zM184.29 298.68h0.9v0.9h-0.9zM185.65 297.49h0.9v0.9h-0.9zM185.58 297.93h0.9v0.9h-0.9zM186.51 298.27h0.9v0.9h-0.9zM184.5 296.79h0.9v0.9h-0.9zM183.14 297.91h0.9v0.9h-0.9zM183.02 298.81h0.9v0.9h-0.9zM182.63 296.26h0.9v0.9h-0.9zM185.12 296.28h0.9v0.9h-0.9zM189.13 297.06h0.9v0.9h-0.9zM185.44 297.81h0.9v0.9h-0.9zM183.75 296.28h0.9v0.9h-0.9zM187.8 300.21h0.9v0.9h-0.9zM182.33 298.61h0.9v0.9h-0.9z" fill="#000" fill-opacity="0.3"/>
<path d="M179.54 287.26h0.7v0.7h-0.7zM175.54 286.14h0.7v0.7h-0.7zM186.82 285.11h0.7v0.7h-0.7zM191.22 278.08h0.7v0.7h-0.7zM192 273.35h0.7v0.7h-0.7zM192.99 254.93h0.7v0.7h-0.7zM179.76 272.45h0.7v0.7h-0.7zM179.66 288.93h0.7v0.7h-0.7zM185.4 280.5h0.7v0.7h-0.7zM193.26 266.37h0.7v0.7h-0.7zM173.14 293.24h0.7v0.7h-0.7zM182.27 260.98h0.7v0.7h-0.7zM182.38 268.99h0.7v0.7h-0.7zM191.47 289.94h0.7v0.7h-0.7zM175.27 291.29h0.7v0.7h-0.7zM172.98 287.93h0.7v0.7h-0.7zM184.28 278.51h0.7v0.7h-0.7zM168.28 277.13h0.7v0.7h-0.7zM164.85 290.59h0.7v0.7h-0.7zM171.92 257.76h0.7v0.7h-0.7zM184.32 282.97h0.7v0.7h-0.7zM175.6 298.71h0.7v0.7h-0.7zM185.84 280.25h0.7v0.7h-0.7zM183.49 288.29h0.7v0.7h-0.7zM174.92 266.93h0.7v0.7h-0.7zM179.32 264.6h0.7v0.7h-0.7zM179.71 286.59h0.7v0.7h-0.7zM191.73 282.04h0.7v0.7h-0.7zM181.22 286.4h0.7v0.7h-0.7zM190.85 276.78h0.7v0.7h-0.7zM169.83 272.53h0.7v0.7h-0.7zM169.58 271.65h0.7v0.7h-0.7zM178.68 282.74h0.7v0.7h-0.7zM180.9 280.28h0.7v0.7h-0.7zM176.79 283.46h0.7v0.7h-0.7zM186.73 286.49h0.7v0.7h-0.7zM191.63 277.04h0.7v0.7h-0.7zM177.64 294.9h0.7v0.7h-0.7z" fill="#000" fill-opacity="0.1"/>
<path d="M250.02 299.31h1v1h-1zM248.63 299.73h1v1h-1zM248.45 298.24h1v1h-1zM249.34 298.67h1v1h-1zM251.67 298.72h1v1h-1zM249.82 298.84h1v1h-1zM250.38 298.53h1v1h-1zM252.37 297.93h1v1h-1zM248.5 298.47h1v1h-1zM251.18 299.03h1v1h-1zM250.76 298.75h1v1h-1zM247.63 298.16h1v1h-1zM248.63 298.6h1v1h-1zM250.23 299.27h1v1h-1zM252.04 298.92h1v1h-1zM247.55 298.2h1v1h-1zM249.66 299.27h1v1h-1zM246.77 299.91h1v1h-1zM252.46 300.01h1v1h-1zM249.47 299.72h1v1h-1zM248.25 298.95h1v1h-1zM249.55 300.34h1v1h-1zM248.94 299.72h1v1h-1zM249.67 298.47h1v1h-1zM250.13 299.49h1v1h-1zM247.65 299.48h1v1h-1zM247.65 298.34h1v1h-1zM250.07 298.82h1v1h-1zM246.95 297.78h1v1h-1zM249.56 299.18h1v1h-1zM248.31 299.14h1v1h-1zM245.53 299.29h1v1h-1zM250.58 299.21h1v1h-1zM247.91 299.06h1v1h-1zM249.84 299.8h1v1h-1zM250.22 299.19h1v1h-1zM247.62 299.65h1v1h-1zM252.55 298.63h1v1h-1zM251.16 299.23h1v1h-1zM249.38 298.04h1v1h-1zM250.29 298.72h1v1h-1zM252.48 298.68h1v1h-1zM249.6 299.46h1v1h-1zM250.69 298.61h1v1h-1zM251.27 299.29h1v1h-1zM252.07 298.62h1v1h-1zM249.38 298.71h1v1h-1zM247.32 299.19h1v1h-1zM250.56 300.06h1v1h-1zM248.66 299.29h1v1h-1zM252.47 298.91h1v1h-1zM249.66 299.1h1v1h-1zM247.71 298.26h1v1h-1zM252.4 299.13h1v1h-1zM249.31 298.07h1v1h-1zM249.81 299.88h1v1h-1zM246.52 298.33h1v1h-1zM252.37 300.07h1v1h-1zM253.52 298.59h1v1h-1zM251.05 298.44h1v1h-1zM250.85 298.73h1v1h-1zM250.01 300h1v1h-1zM250.38 298.82h1v1h-1zM249.64 299.2h1v1h-1zM248.17 299.15h1v1h-1zM251.05 300.16h1v1h-1zM244.17 298.11h1v1h-1zM246.3 299.65h1v1h-1zM249.81 299.85h1v1h-1zM248.19 298.64h1v1h-1zM250.38 298.56h1v1h-1zM252.37 299h1v1h-1zM250.48 300.89h1v1h-1zM248.34 299.69h1v1h-1zM247.36 299.93h1v1h-1zM251.99 299.1h1v1h-1zM252.06 300.2h1v1h-1zM253.06 299h1v1h-1zM249.36 299.82h1v1h-1zM245.71 298.55h1v1h-1zM250.75 299.42h1v1h-1zM250.34 299.33h1v1h-1zM246.1 298.86h1v1h-1zM250.17 298.83h1v1h-1zM249.65 299.45h1v1h-1zM247.05 298.58h1v1h-1zM244.92 299.85h1v1h-1zM246.78 297.74h1v1h-1zM251.48 298.84h1v1h-1zM251.99 298.73h1v1h-1zM249.89 299.09h1v1h-1zM248.97 299.6h1v1h-1zM246.7 299.44h1v1h-1zM252.24 297.89h1v1h-1zM247.72 298.26h1v1h-1zM250.94 299.37h1v1h-1zM247.61 298.17h1v1h-1zM251.25 297.48h1v1h-1zM251.15 298.89h1v1h-1zM248.01 298.8h1v1h-1zM248.79 298.46h1v1h-1zM249.71 299.71h1v1h-1zM245.63 298.83h1v1h-1zM253.33 299.55h1v1h-1zM247.41 298.4h1v1h-1zM247.31 297.81h1v1h-1zM252.45 299.05h1v1h-1zM247.71 297.94h1v1h-1zM248.52 298.62h1v1h-1zM253.91 298.66h1v1h-1zM249.8 299.79h1v1h-1zM251.21 298.87h1v1h-1zM243.91 300.04h1v1h-1zM251.03 298.68h1v1h-1zM249.27 298.29h1v1h-1zM247.2 297.91h1v1h-1zM250.78 299.38h1v1h-1zM249.95 299.58h1v1h-1zM250.87 299.09h1v1h-1zM247.24 299.44h1v1h-1zM252.53 299.47h1v1h-1zM252.69 298.65h1v1h-1zM247 299.92h1v1h-1zM248.01 299.18h1v1h-1zM249.01 299.02h1v1h-1zM248.81 298.6h1v1h-1zM244.95 300.4h1v1h-1zM250.02 297.58h1v1h-1zM247.19 298.17h1v1h-1zM247.61 297.12h1v1h-1zM250.97 300.21h1v1h-1zM248.87 299.55h1v1h-1zM251.03 298.08h1v1h-1zM252.61 297.76h1v1h-1zM248.03 298.74h1v1h-1zM252.7 299.09h1v1h-1zM249.18 298.41h1v1h-1zM249.73 299.03h1v1h-1zM251.36 300.03h1v1h-1zM251.38 299.01h1v1h-1zM249.11 300.18h1v1h-1zM250.01 298.99h1v1h-1zM250.95 298.92h1v1h-1zM247.89 299.78h1v1h-1zM248.35 299.71h1v1h-1zM247.51 299.08h1v1h-1zM250.52 299.11h1v1h-1zM250.1 299.28h1v1h-1zM246.64 298.19h1v1h-1zM249.13 300.32h1v1h-1zM249.18 298.32h1v1h-1zM247.82 299.02h1v1h-1zM252.51 298.58h1v1h-1zM250.93 299.14h1v1h-1zM248.6 298.31h1v1h-1zM249.11 298.47h1v1h-1zM250.87 297.71h1v1h-1zM252.37 299.56h1v1h-1zM250.97 300.1h1v1h-1zM251.03 297.75h1v1h-1zM249.64 299.33h1v1h-1zM247.76 298.17h1v1h-1zM250.6 299.37h1v1h-1zM248.42 298.82h1v1h-1zM248.21 298.58h1v1h-1zM249.35 299.79h1v1h-1zM245.42 298.75h1v1h-1zM253.6 299.23h1v1h-1zM249.89 299.61h1v1h-1zM246.96 298.12h1v1h-1zM245.29 297.93h1v1h-1zM250.13 299.62h1v1h-1zM248.44 298.5h1v1h-1zM250.52 299.45h1v1h-1zM250.15 297.61h1v1h-1zM248.12 297.15h1v1h-1zM250.12 298.38h1v1h-1zM247.84 300.1h1v1h-1zM252.85 299.35h1v1h-1zM250.2 299.13h1v1h-1zM248.02 298.96h1v1h-1zM247.82 299.12h1v1h-1zM251.76 299.61h1v1h-1zM247.05 298.91h1v1h-1zM248.83 298.1h1v1h-1zM249.7 298.65h1v1h-1zM251.83 299.32h1v1h-1zM247.53 299.06h1v1h-1z" fill="#000" fill-opacity="0.95"/>
<path d="M240.23 298.62h0.9v0.9h-0.9zM239.75 299.77h0.9v0.9h-0.9zM240.02 297.88h0.9v0.9h-0.9zM238.69 299.6h0.9v0.9h-0.9zM249.51 298.33h0.9v0.9h-0.9zM240.24 298.83h0.9v0.9h-0.9zM236.35 299.32h0.9v0.9h-0.9zM241.36 299.24h0.9v0.9h-0.9zM249.82 298.87h0.9v0.9h-0.9zM244.48 299.62h0.9v0.9h-0.9zM239.2 298.65h0.9v0.9h-0.9zM247.31 299.54h0.9v0.9h-0.9zM242.08 298.31h0.9v0.9h-0.9zM244.81 299.41h0.9v0.9h-0.9zM249.67 300.05h0.9v0.9h-0.9zM244.52 299.23h0.9v0.9h-0.9zM241.78 298.68h0.9v0.9h-0.9zM242.69 299.22h0.9v0.9h-0.9zM243.96 299.79h0.9v0.9h-0.9zM242.7 298.68h0.9v0.9h-0.9zM244.53 300.11h0.9v0.9h-0.9zM238.47 299.34h0.9v0.9h-0.9zM243.58 299.42h0.9v0.9h-0.9zM243.42 298.99h0.9v0.9h-0.9zM241.17 300.2h0.9v0.9h-0.9zM247.95 298.1h0.9v0.9h-0.9zM239.06 298.7h0.9v0.9h-0.9zM235.66 299.29h0.9v0.9h-0.9zM241.35 298.68h0.9v0.9h-0.9zM244.87 300.7h0.9v0.9h-0.9zM247 299.85h0.9v0.9h-0.9zM240.03 299.5h0.9v0.9h-0.9zM241.41 299.84h0.9v0.9h-0.9zM243.7 299.03h0.9v0.9h-0.9zM243.59 298.56h0.9v0.9h-0.9zM244.48 300.07h0.9v0.9h-0.9zM240.22 299.43h0.9v0.9h-0.9zM235.4 299.69h0.9v0.9h-0.9zM244.79 298.36h0.9v0.9h-0.9zM247.99 299.13h0.9v0.9h-0.9zM235.16 298.12h0.9v0.9h-0.9zM244.78 298.87h0.9v0.9h-0.9zM245.63 298h0.9v0.9h-0.9zM241.19 299.71h0.9v0.9h-0.9zM239.05 299.51h0.9v0.9h-0.9zM240.23 299.28h0.9v0.9h-0.9zM242.74 300.57h0.9v0.9h-0.9zM236.98 299.58h0.9v0.9h-0.9zM246.4 298.29h0.9v0.9h-0.9zM241.85 300.62h0.9v0.9h-0.9zM245.43 297.03h0.9v0.9h-0.9zM240.67 297.89h0.9v0.9h-0.9zM242.67 298.56h0.9v0.9h-0.9zM239.48 298.48h0.9v0.9h-0.9zM242.64 298.73h0.9v0.9h-0.9zM238.21 298.9h0.9v0.9h-0.9zM243.05 298.47h0.9v0.9h-0.9zM245.65 297.92h0.9v0.9h-0.9zM243.06 298.79h0.9v0.9h-0.9zM247.36 298.61h0.9v0.9h-0.9zM239.1 298.14h0.9v0.9h-0.9zM248.88 299.47h0.9v0.9h-0.9zM237.55 298.82h0.9v0.9h-0.9zM238.02 300.09h0.9v0.9h-0.9zM243.09 297.67h0.9v0.9h-0.9zM242.32 299.67h0.9v0.9h-0.9zM241.56 299.37h0.9v0.9h-0.9zM241.14 299.19h0.9v0.9h-0.9zM242.34 298.57h0.9v0.9h-0.9zM242.83 299.16h0.9v0.9h-0.9zM241.41 298.59h0.9v0.9h-0.9zM237.81 299.22h0.9v0.9h-0.9zM244.6 297.41h0.9v0.9h-0.9zM239.57 299.97h0.9v0.9h-0.9zM244.93 298.57h0.9v0.9h-0.9zM246.54 298.38h0.9v0.9h-0.9zM238.63 300.37h0.9v0.9h-0.9zM239.94 298.9h0.9v0.9h-0.9zM235.46 298.36h0.9v0.9h-0.9zM237.21 298.96h0.9v0.9h-0.9zM234.77 299.77h0.9v0.9h-0.9zM240.24 298.64h0.9v0.9h-0.9zM239.21 299.56h0.9v0.9h-0.9zM247.22 298.77h0.9v0.9h-0.9zM247.51 300.15h0.9v0.9h-0.9zM246.51 299.25h0.9v0.9h-0.9zM236.05 299.51h0.9v0.9h-0.9zM240.04 299.18h0.9v0.9h-0.9zM234.59 298.86h0.9v0.9h-0.9zM242.41 298.41h0.9v0.9h-0.9zM242.64 300.19h0.9v0.9h-0.9zM242.4 298.58h0.9v0.9h-0.9zM250.37 297.58h0.9v0.9h-0.9zM238.15 299.33h0.9v0.9h-0.9zM239.36 297.49h0.9v0.9h-0.9zM242.51 299.62h0.9v0.9h-0.9zM238.61 300.05h0.9v0.9h-0.9zM243.4 299.86h0.9v0.9h-0.9zM235.9 299.05h0.9v0.9h-0.9zM247.47 300.42h0.9v0.9h-0.9zM246.43 299.05h0.9v0.9h-0.9zM242.23 298.62h0.9v0.9h-0.9zM245.62 298.58h0.9v0.9h-0.9zM242.01 297.64h0.9v0.9h-0.9zM235.98 300.26h0.9v0.9h-0.9zM241.77 299.2h0.9v0.9h-0.9zM249.22 298.03h0.9v0.9h-0.9zM239.58 298.91h0.9v0.9h-0.9zM236.89 298.12h0.9v0.9h-0.9zM236.97 299.49h0.9v0.9h-0.9zM241.37 299.61h0.9v0.9h-0.9zM237.55 299.45h0.9v0.9h-0.9zM239.91 299.11h0.9v0.9h-0.9zM245.01 299.07h0.9v0.9h-0.9zM240.25 297.91h0.9v0.9h-0.9zM241.79 299.59h0.9v0.9h-0.9zM239.2 299h0.9v0.9h-0.9zM234.98 298.14h0.9v0.9h-0.9zM243.05 299.94h0.9v0.9h-0.9zM240.4 297.91h0.9v0.9h-0.9zM240.14 297.98h0.9v0.9h-0.9zM240.53 300.37h0.9v0.9h-0.9zM242.66 298.95h0.9v0.9h-0.9zM245.41 298.79h0.9v0.9h-0.9zM242.79 299.19h0.9v0.9h-0.9zM243.21 298.04h0.9v0.9h-0.9zM244.2 299.66h0.9v0.9h-0.9zM238.21 300.07h0.9v0.9h-0.9zM241.63 299.52h0.9v0.9h-0.9zM243.62 299.66h0.9v0.9h-0.9zM239.17 298.65h0.9v0.9h-0.9zM242.95 299.47h0.9v0.9h-0.9zM243.69 299.28h0.9v0.9h-0.9zM239.74 299.81h0.9v0.9h-0.9zM243.31 299.78h0.9v0.9h-0.9zM239.07 299.13h0.9v0.9h-0.9zM239.77 298.84h0.9v0.9h-0.9zM242.27 299.29h0.9v0.9h-0.9zM238.56 297.31h0.9v0.9h-0.9zM238.63 299.42h0.9v0.9h-0.9zM238.39 299.35h0.9v0.9h-0.9zM240.17 298.4h0.9v0.9h-0.9zM245.92 300.19h0.9v0.9h-0.9zM241.16 299.02h0.9v0.9h-0.9zM245.14 298.13h0.9v0.9h-0.9zM238.28 299.83h0.9v0.9h-0.9zM244.93 298.71h0.9v0.9h-0.9zM238.63 299.29h0.9v0.9h-0.9zM236.27 298.71h0.9v0.9h-0.9zM240.68 297.35h0.9v0.9h-0.9zM243.77 299.58h0.9v0.9h-0.9zM245.56 298.06h0.9v0.9h-0.9zM236.73 298.49h0.9v0.9h-0.9zM236.65 300.47h0.9v0.9h-0.9z" fill="#000" fill-opacity="0.7"/>
<path d="M239.42 281.64h0.8v0.8h-0.8zM245.87 285.77h0.8v0.8h-0.8zM244.28 272.17h0.8v0.8h-0.8zM246.89 282.45h0.8v0.8h-0.8zM240.46 285.47h0.8v0.8h-0.8zM244.97 297.03h0.8v0.8h-0.8zM244.89 291.36h0.8v0.8h-0.8zM245.49 275.97h0.8v0.8h-0.8zM241.24 284.92h0.8v0.8h-0.8zM243.51 291.02h0.8v0.8h-0.8zM241.43 276.51h0.8v0.8h-0.8zM244.03 289.15h0.8v0.8h-0.8zM245.06 297.65h0.8v0.8h-0.8zM240.43 282.25h0.8v0.8h-0.8zM246.48 296.39h0.8v0.8h-0.8zM250.84 291.35h0.8v0.8h-0.8zM245.98 282.33h0.8v0.8h-0.8zM251.32 285.2h0.8v0.8h-0.8zM247.04 286.38h0.8v0.8h-0.8zM246.92 283.65h0.8v0.8h-0.8zM237.37 270.62h0.8v0.8h-0.8zM245.45 269.6h0.8v0.8h-0.8zM234.25 280.3h0.8v0.8h-0.8zM254.07 289.11h0.8v0.8h-0.8zM242.65 285.52h0.8v0.8h-0.8zM236.42 267.4h0.8v0.8h-0.8zM243.59 285.33h0.8v0.8h-0.8zM243 271.64h0.8v0.8h-0.8zM230.82 273.83h0.8v0.8h-0.8zM244.93 282.73h0.8v0.8h-0.8zM244.6 283.52h0.8v0.8h-0.8zM237.55 272.65h0.8v0.8h-0.8zM246.42 284.9h0.8v0.8h-0.8zM249.9 291.33h0.8v0.8h-0.8zM231.29 266.44h0.8v0.8h-0.8zM242.14 287.02h0.8v0.8h-0.8zM246.17 288.23h0.8v0.8h-0.8zM251.92 273.88h0.8v0.8h-0.8zM240.92 278.25h0.8v0.8h-0.8zM246.24 286.24h0.8v0.8h-0.8zM245.25 294.17h0.8v0.8h-0.8zM248.83 284.33h0.8v0.8h-0.8zM242.4 280.94h0.8v0.8h-0.8zM240.74 290.08h0.8v0.8h-0.8zM238.71 280.18h0.8v0.8h-0.8zM243.46 274.04h0.8v0.8h-0.8zM245.03 289.98h0.8v0.8h-0.8zM247.01 274.54h0.8v0.8h-0.8zM244.75 275.93h0.8v0.8h-0.8zM246.57 285.76h0.8v0.8h-0.8zM243.67 292.18h0.8v0.8h-0.8zM249.49 280.34h0.8v0.8h-0.8zM240.24 273.17h0.8v0.8h-0.8zM249.5 280.44h0.8v0.8h-0.8zM242.3 290.38h0.8v0.8h-0.8zM236.5 279.47h0.8v0.8h-0.8zM241.78 296.35h0.8v0.8h-0.8zM248.33 274.44h0.8v0.8h-0.8zM239.45 279.12h0.8v0.8h-0.8zM243.8 287.7h0.8v0.8h-0.8zM244.61 272.68h0.8v0.8h-0.8zM238.52 268.06h0.8v0.8h-0.8zM248.12 279.67h0.8v0.8h-0.8zM246.88 295.43h0.8v0.8h-0.8zM248.18 293.31h0.8v0.8h-0.8zM252.96 293.78h0.8v0.8h-0.8zM241.27 284.22h0.8v0.8h-0.8zM244.07 280.56h0.8v0.8h-0.8zM245.87 274.85h0.8v0.8h-0.8zM251.68 291.62h0.8v0.8h-0.8zM233.92 278.02h0.8v0.8h-0.8zM238.77 279.73h0.8v0.8h-0.8zM244.21 280.68h0.8v0.8h-0.8zM242.2 278.95h0.8v0.8h-0.8zM245.08 286.45h0.8v0.8h-0.8zM243.16 275.48h0.8v0.8h-0.8zM240.5 276.9h0.8v0.8h-0.8zM237.88 271.81h0.8v0.8h-0.8zM249.04 286.36h0.8v0.8h-0.8zM240.75 277.51h0.8v0.8h-0.8zM239.76 278.15h0.8v0.8h-0.8zM244.57 297.46h0.8v0.8h-0.8zM249.62 268.26h0.8v0.8h-0.8zM241.98 288.78h0.8v0.8h-0.8zM239.87 269.58h0.8v0.8h-0.8zM239.45 289.62h0.8v0.8h-0.8zM242.39 296.51h0.8v0.8h-0.8zM242.34 283.99h0.8v0.8h-0.8zM241.58 278.29h0.8v0.8h-0.8zM242.07 280.5h0.8v0.8h-0.8zM247.22 280.05h0.8v0.8h-0.8zM241.6 278.57h0.8v0.8h-0.8zM238.94 277.86h0.8v0.8h-0.8zM250.23 296.73h0.8v0.8h-0.8zM247.99 282.77h0.8v0.8h-0.8zM252.54 287.94h0.8v0.8h-0.8zM243.67 281.03h0.8v0.8h-0.8zM241.01 286.14h0.8v0.8h-0.8zM236.9 270.86h0.8v0.8h-0.8zM246.07 286.12h0.8v0.8h-0.8zM242.57 278.72h0.8v0.8h-0.8zM248.96 290.26h0.8v0.8h-0.8zM244.46 287h0.8v0.8h-0.8zM245.12 277.36h0.8v0.8h-0.8zM241.48 276.65h0.8v0.8h-0.8zM244.19 278.87h0.8v0.8h-0.8zM244.49 275.02h0.8v0.8h-0.8zM247.84 277.71h0.8v0.8h-0.8zM237.69 276.88h0.8v0.8h-0.8zM242.63 275.02h0.8v0.8h-0.8zM253.93 289.81h0.8v0.8h-0.8zM240.13 270.88h0.8v0.8h-0.8zM240.91 277.04h0.8v0.8h-0.8zM239.38 288.55h0.8v0.8h-0.8zM248.66 275.22h0.8v0.8h-0.8zM250.78 291.29h0.8v0.8h-0.8zM239.33 281.4h0.8v0.8h-0.8zM246.15 285.84h0.8v0.8h-0.8zM240.74 285.96h0.8v0.8h-0.8zM246.68 290.09h0.8v0.8h-0.8zM236.51 280.62h0.8v0.8h-0.8zM240.87 280.9h0.8v0.8h-0.8zM243.63 276.69h0.8v0.8h-0.8zM249.75 273.1h0.8v0.8h-0.8zM249.93 289.21h0.8v0.8h-0.8zM245.93 279.6h0.8v0.8h-0.8zM240.05 281.86h0.8v0.8h-0.8zM246.15 282.55h0.8v0.8h-0.8zM247.51 286.17h0.8v0.8h-0.8zM237.44 276.7h0.8v0.8h-0.8zM246.43 276.72h0.8v0.8h-0.8zM237.6 276.64h0.8v0.8h-0.8zM242.6 272.45h0.8v0.8h-0.8zM244.6 291.96h0.8v0.8h-0.8zM244.21 282.84h0.8v0.8h-0.8zM240.77 281.83h0.8v0.8h-0.8zM241.93 283.16h0.8v0.8h-0.8zM241.48 271.67h0.8v0.8h-0.8zM233.17 267.83h0.8v0.8h-0.8zM248.1 279.8h0.8v0.8h-0.8zM243.35 282.17h0.8v0.8h-0.8zM247.94 283.59h0.8v0.8h-0.8zM245.7 280.05h0.8v0.8h-0.8zM243.02 282.35h0.8v0.8h-0.8zM241.61 293.75h0.8v0.8h-0.8zM235.02 277.27h0.8v0.8h-0.8zM245.93 282.03h0.8v0.8h-0.8zM252.31 294.54h0.8v0.8h-0.8zM254.47 290.5h0.8v0.8h-0.8zM240.5 283.24h0.8v0.8h-0.8zM245.99 279.48h0.8v0.8h-0.8zM241.95 280.06h0.8v0.8h-0.8zM251.44 288.88h0.8v0.8h-0.8zM245.39 287.03h0.8v0.8h-0.8zM244.51 292.58h0.8v0.8h-0.8zM250.01 270.99h0.8v0.8h-0.8zM247.83 280.1h0.8v0.8h-0.8zM240.78 279.35h0.8v0.8h-0.8zM238.5 273.24h0.8v0.8h-0.8zM245.26 297.41h0.8v0.8h-0.8zM245.53 286.88h0.8v0.8h-0.8zM246.3 285.81h0.8v0.8h-0.8zM235.35 277.55h0.8v0.8h-0.8zM249.19 289.35h0.8v0.8h-0.8zM237.89 279.84h0.8v0.8h-0.8zM242.56 289.21h0.8v0.8h-0.8zM244.81 282.34h0.8v0.8h-0.8zM242.77 286.21h0.8v0.8h-0.8zM241.03 276.82h0.8v0.8h-0.8zM242.27 276.99h0.8v0.8h-0.8zM248.87 286.01h0.8v0.8h-0.8zM243.53 288.14h0.8v0.8h-0.8zM241.28 277.06h0.8v0.8h-0.8zM234.73 271.14h0.8v0.8h-0.8zM241.26 286.94h0.8v0.8h-0.8zM245.17 275.97h0.8v0.8h-0.8zM245.34 285.02h0.8v0.8h-0.8zM247.67 284.86h0.8v0.8h-0.8zM250.25 286.69h0.8v0.8h-0.8zM242.61 286.78h0.8v0.8h-0.8zM235.53 284.68h0.8v0.8h-0.8zM245.75 287.03h0.8v0.8h-0.8zM245.63 289.46h0.8v0.8h-0.8zM244.78 274.18h0.8v0.8h-0.8zM242.81 285.41h0.8v0.8h-0.8zM245.67 282.98h0.8v0.8h-0.8zM241.99 272.26h0.8v0.8h-0.8zM250.25 290.44h0.8v0.8h-0.8zM248.65 284.24h0.8v0.8h-0.8zM244.28 286.03h0.8v0.8h-0.8zM237.66 270.49h0.8v0.8h-0.8zM241.53 283.18h0.8v0.8h-0.8zM238.61 276.18h0.8v0.8h-0.8zM241.53 280.08h0.8v0.8h-0.8zM243.65 282.12h0.8v0.8h-0.8zM247.71 290h0.8v0.8h-0.8zM245.49 285.53h0.8v0.8h-0.8zM244.76 288.41h0.8v0.8h-0.8zM240.28 278.3h0.8v0.8h-0.8zM242.87 291.3h0.8v0.8h-0.8zM242.81 285.27h0.8v0.8h-0.8zM249.11 285.06h0.8v0.8h-0.8zM250.24 278.26h0.8v0.8h-0.8zM249.12 286.53h0.8v0.8h-0.8zM241.69 283.94h0.8v0.8h-0.8zM238.13 275.54h0.8v0.8h-0.8zM241.77 276.19h0.8v0.8h-0.8zM246.27 274.41h0.8v0.8h-0.8zM242.2 284.11h0.8v0.8h-0.8zM242.15 283.78h0.8v0.8h-0.8zM236.56 272.55h0.8v0.8h-0.8zM231.31 276.23h0.8v0.8h-0.8zM250.02 283.77h0.8v0.8h-0.8zM242.42 278.79h0.8v0.8h-0.8zM244.21 285.12h0.8v0.8h-0.8zM236.33 278.51h0.8v0.8h-0.8zM245.3 293.62h0.8v0.8h-0.8zM244.46 293.2h0.8v0.8h-0.8zM243.47 282.96h0.8v0.8h-0.8zM251.03 287.34h0.8v0.8h-0.8zM242.74 272.97h0.8v0.8h-0.8zM253.24 293.86h0.8v0.8h-0.8zM241.54 279.02h0.8v0.8h-0.8zM243.79 292.05h0.8v0.8h-0.8zM244.56 282.22h0.8v0.8h-0.8zM245.5 296.91h0.8v0.8h-0.8zM246.3 281.15h0.8v0.8h-0.8zM244.87 273.09h0.8v0.8h-0.8zM242.81 273.6h0.8v0.8h-0.8zM247.09 278.39h0.8v0.8h-0.8zM245.99 277.59h0.8v0.8h-0.8zM248.97 290.81h0.8v0.8h-0.8zM241.09 284.68h0.8v0.8h-0.8zM244 290.4h0.8v0.8h-0.8zM240.35 280.62h0.8v0.8h-0.8zM247.14 291.87h0.8v0.8h-0.8zM240.21 283.94h0.8v0.8h-0.8zM240.58 278.85h0.8v0.8h-0.8zM240.53 282.54h0.8v0.8h-0.8zM238.66 270.39h0.8v0.8h-0.8zM240.09 273.13h0.8v0.8h-0.8zM240.29 283.52h0.8v0.8h-0.8zM246.32 290.54h0.8v0.8h-0.8zM235.68 269.55h0.8v0.8h-0.8zM239.13 286.35h0.8v0.8h-0.8zM248.24 290.45h0.8v0.8h-0.8zM244.29 288.53h0.8v0.8h-0.8zM244.88 294.15h0.8v0.8h-0.8zM240.94 277.48h0.8v0.8h-0.8zM250.42 295.76h0.8v0.8h-0.8z" fill="#000" fill-opacity="0.3"/>
<path d="M254.48 297.86h0.8v0.8h-0.8zM254.06 297.94h0.8v0.8h-0.8zM256.47 299.45h0.8v0.8h-0.8zM256.19 299.3h0.8v0.8h-0.8zM259.56 298.81h0.8v0.8h-0.8zM257.2 298.42h0.8v0.8h-0.8zM255.98 299.51h0.8v0.8h-0.8zM257.76 297.53h0.8v0.8h-0.8zM254.21 299.17h0.8v0.8h-0.8zM256.24 300.25h0.8v0.8h-0.8zM255.35 297.04h0.8v0.8h-0.8zM259.53 297.46h0.8v0.8h-0.8zM254.17 299.49h0.8v0.8h-0.8zM253.95 301.59h0.8v0.8h-0.8zM257.2 299.64h0.8v0.8h-0.8zM255.51 301.32h0.8v0.8h-0.8zM257.95 298.38h0.8v0.8h-0.8zM259.74 297.41h0.8v0.8h-0.8zM255.13 299.39h0.8v0.8h-0.8zM256.94 298.14h0.8v0.8h-0.8zM260.55 300.57h0.8v0.8h-0.8zM254.26 299.47h0.8v0.8h-0.8zM255.01 298.67h0.8v0.8h-0.8zM259.07 299.23h0.8v0.8h-0.8zM256.33 299.2h0.8v0.8h-0.8zM253.67 300.32h0.8v0.8h-0.8zM254.72 300.41h0.8v0.8h-0.8zM255.45 298.64h0.8v0.8h-0.8zM260.31 299.29h0.8v0.8h-0.8z" fill="#000" fill-opacity="0.2"/>
<line x1="13" y1="485" x2="13" y2="566.4" stroke="#333" stroke-width="1.2"/>
<path d="M13 480.6 L10.1 486.6 L15.9 486.6 Z" fill="#111"/>
<line x1="12.4" y1="566.5" x2="296" y2="566.5" stroke="#111" stroke-width="1.3"/>
<path d="M302 566.4 L295.3 563.1 L295.3 569.7 Z" fill="#111"/>
<text x="0" y="0" font-size="9.8" font-weight="bold" text-anchor="middle" fill="#000" transform="translate(9.81,526.3) rotate(-90)">SSC</text>
<text x="145.2" y="577.7" font-size="9.6" font-weight="bold" text-anchor="middle" fill="#000">CD34</text>
<rect x="24.2" y="495.2" width="62.3" height="48.8" fill="none" stroke="#8a8a8a" stroke-width="0.8"/>
<text x="58.7" y="491.6" font-size="7.8" font-weight="bold" text-anchor="middle" fill="#000" xml:space="preserve">No MSC, no IM</text>
<text x="59.1" y="515.6" font-size="7" font-weight="bold" text-anchor="start" fill="#000">51.06%</text>
<text x="0" y="0" font-size="3.7" text-anchor="middle" fill="#555" transform="translate(22.2,543) rotate(-90)">0</text>
<text x="0" y="0" font-size="3.7" text-anchor="middle" fill="#555" transform="translate(22.2,533.64) rotate(-90)">200</text>
<text x="0" y="0" font-size="3.7" text-anchor="middle" fill="#555" transform="translate(22.2,524.28) rotate(-90)">400</text>
<text x="0" y="0" font-size="3.7" text-anchor="middle" fill="#555" transform="translate(22.2,514.92) rotate(-90)">600</text>
<text x="0" y="0" font-size="3.7" text-anchor="middle" fill="#555" transform="translate(22.2,505.56) rotate(-90)">800</text>
<text x="0" y="0" font-size="3.7" text-anchor="middle" fill="#555" transform="translate(22.2,496.2) rotate(-90)">1000</text>
<text x="25.2" y="548.8" font-size="3.6" text-anchor="middle" fill="#555">10</text>
<text x="27.2" y="547.2" font-size="2.3" text-anchor="start" fill="#777">0</text>
<text x="40.27" y="548.8" font-size="3.6" text-anchor="middle" fill="#555">10</text>
<text x="42.27" y="547.2" font-size="2.3" text-anchor="start" fill="#777">1</text>
<text x="55.35" y="548.8" font-size="3.6" text-anchor="middle" fill="#555">10</text>
<text x="57.35" y="547.2" font-size="2.3" text-anchor="start" fill="#777">2</text>
<text x="70.42" y="548.8" font-size="3.6" text-anchor="middle" fill="#555">10</text>
<text x="72.42" y="547.2" font-size="2.3" text-anchor="start" fill="#777">3</text>
<text x="85.5" y="548.8" font-size="3.6" text-anchor="middle" fill="#555">10</text>
<text x="87.5" y="547.2" font-size="2.3" text-anchor="start" fill="#777">4</text>
<text x="55.35" y="552.3" font-size="3" text-anchor="middle" fill="#777">APC-CD34</text>
<rect x="96.5" y="494.6" width="62.5" height="49.4" fill="none" stroke="#8a8a8a" stroke-width="0.8"/>
<text x="128.5" y="491.6" font-size="7.8" font-weight="bold" text-anchor="middle" fill="#000" xml:space="preserve">No MSC,  IM</text>
<text x="130.7" y="515.6" font-size="7" font-weight="bold" text-anchor="start" fill="#000">73.44%</text>
<text x="0" y="0" font-size="3.7" text-anchor="middle" fill="#555" transform="translate(94.5,543) rotate(-90)">0</text>
<text x="0" y="0" font-size="3.7" text-anchor="middle" fill="#555" transform="translate(94.5,533.52) rotate(-90)">200</text>
<text x="0" y="0" font-size="3.7" text-anchor="middle" fill="#555" transform="translate(94.5,524.04) rotate(-90)">400</text>
<text x="0" y="0" font-size="3.7" text-anchor="middle" fill="#555" transform="translate(94.5,514.56) rotate(-90)">600</text>
<text x="0" y="0" font-size="3.7" text-anchor="middle" fill="#555" transform="translate(94.5,505.08) rotate(-90)">800</text>
<text x="0" y="0" font-size="3.7" text-anchor="middle" fill="#555" transform="translate(94.5,495.6) rotate(-90)">1000</text>
<text x="97.5" y="548.8" font-size="3.6" text-anchor="middle" fill="#555">10</text>
<text x="99.5" y="547.2" font-size="2.3" text-anchor="start" fill="#777">0</text>
<text x="112.62" y="548.8" font-size="3.6" text-anchor="middle" fill="#555">10</text>
<text x="114.62" y="547.2" font-size="2.3" text-anchor="start" fill="#777">1</text>
<text x="127.75" y="548.8" font-size="3.6" text-anchor="middle" fill="#555">10</text>
<text x="129.75" y="547.2" font-size="2.3" text-anchor="start" fill="#777">2</text>
<text x="142.88" y="548.8" font-size="3.6" text-anchor="middle" fill="#555">10</text>
<text x="144.88" y="547.2" font-size="2.3" text-anchor="start" fill="#777">3</text>
<text x="158" y="548.8" font-size="3.6" text-anchor="middle" fill="#555">10</text>
<text x="160" y="547.2" font-size="2.3" text-anchor="start" fill="#777">4</text>
<text x="127.75" y="552.3" font-size="3" text-anchor="middle" fill="#777">APC-CD34</text>
<rect x="169.6" y="494.6" width="62.5" height="49.4" fill="none" stroke="#8a8a8a" stroke-width="0.8"/>
<text x="201.6" y="491.6" font-size="7.8" font-weight="bold" text-anchor="middle" fill="#000" xml:space="preserve">MSC, no IM</text>
<text x="201.8" y="515.6" font-size="7" font-weight="bold" text-anchor="start" fill="#000">54.45%</text>
<text x="0" y="0" font-size="3.7" text-anchor="middle" fill="#555" transform="translate(167.6,543) rotate(-90)">0</text>
<text x="0" y="0" font-size="3.7" text-anchor="middle" fill="#555" transform="translate(167.6,533.52) rotate(-90)">200</text>
<text x="0" y="0" font-size="3.7" text-anchor="middle" fill="#555" transform="translate(167.6,524.04) rotate(-90)">400</text>
<text x="0" y="0" font-size="3.7" text-anchor="middle" fill="#555" transform="translate(167.6,514.56) rotate(-90)">600</text>
<text x="0" y="0" font-size="3.7" text-anchor="middle" fill="#555" transform="translate(167.6,505.08) rotate(-90)">800</text>
<text x="0" y="0" font-size="3.7" text-anchor="middle" fill="#555" transform="translate(167.6,495.6) rotate(-90)">1000</text>
<text x="170.6" y="548.8" font-size="3.6" text-anchor="middle" fill="#555">10</text>
<text x="172.6" y="547.2" font-size="2.3" text-anchor="start" fill="#777">0</text>
<text x="185.72" y="548.8" font-size="3.6" text-anchor="middle" fill="#555">10</text>
<text x="187.72" y="547.2" font-size="2.3" text-anchor="start" fill="#777">1</text>
<text x="200.85" y="548.8" font-size="3.6" text-anchor="middle" fill="#555">10</text>
<text x="202.85" y="547.2" font-size="2.3" text-anchor="start" fill="#777">2</text>
<text x="215.97" y="548.8" font-size="3.6" text-anchor="middle" fill="#555">10</text>
<text x="217.97" y="547.2" font-size="2.3" text-anchor="start" fill="#777">3</text>
<text x="231.1" y="548.8" font-size="3.6" text-anchor="middle" fill="#555">10</text>
<text x="233.1" y="547.2" font-size="2.3" text-anchor="start" fill="#777">4</text>
<text x="200.85" y="552.3" font-size="3" text-anchor="middle" fill="#777">APC-CD34</text>
<rect x="241.9" y="494.8" width="61.6" height="49.2" fill="none" stroke="#8a8a8a" stroke-width="0.8"/>
<text x="272.9" y="491.6" font-size="7.8" font-weight="bold" text-anchor="middle" fill="#000" xml:space="preserve">MSC, IM</text>
<text x="275.5" y="515.6" font-size="7" font-weight="bold" text-anchor="start" fill="#000">92.19%</text>
<text x="0" y="0" font-size="3.7" text-anchor="middle" fill="#555" transform="translate(239.9,543) rotate(-90)">0</text>
<text x="0" y="0" font-size="3.7" text-anchor="middle" fill="#555" transform="translate(239.9,533.56) rotate(-90)">200</text>
<text x="0" y="0" font-size="3.7" text-anchor="middle" fill="#555" transform="translate(239.9,524.12) rotate(-90)">400</text>
<text x="0" y="0" font-size="3.7" text-anchor="middle" fill="#555" transform="translate(239.9,514.68) rotate(-90)">600</text>
<text x="0" y="0" font-size="3.7" text-anchor="middle" fill="#555" transform="translate(239.9,505.24) rotate(-90)">800</text>
<text x="0" y="0" font-size="3.7" text-anchor="middle" fill="#555" transform="translate(239.9,495.8) rotate(-90)">1000</text>
<text x="242.9" y="548.8" font-size="3.6" text-anchor="middle" fill="#555">10</text>
<text x="244.9" y="547.2" font-size="2.3" text-anchor="start" fill="#777">0</text>
<text x="257.8" y="548.8" font-size="3.6" text-anchor="middle" fill="#555">10</text>
<text x="259.8" y="547.2" font-size="2.3" text-anchor="start" fill="#777">1</text>
<text x="272.7" y="548.8" font-size="3.6" text-anchor="middle" fill="#555">10</text>
<text x="274.7" y="547.2" font-size="2.3" text-anchor="start" fill="#777">2</text>
<text x="287.6" y="548.8" font-size="3.6" text-anchor="middle" fill="#555">10</text>
<text x="289.6" y="547.2" font-size="2.3" text-anchor="start" fill="#777">3</text>
<text x="302.5" y="548.8" font-size="3.6" text-anchor="middle" fill="#555">10</text>
<text x="304.5" y="547.2" font-size="2.3" text-anchor="start" fill="#777">4</text>
<text x="272.7" y="552.3" font-size="3" text-anchor="middle" fill="#777">APC-CD34</text>
<path d="M32.02 532.51h1v1h-1zM40.74 538.29h1v1h-1zM40.8 532.86h1v1h-1zM28.65 532.19h1v1h-1zM35.67 534.39h1v1h-1zM31.91 536.87h1v1h-1zM29.8 532.09h1v1h-1zM39.98 534.95h1v1h-1zM33.77 536.11h1v1h-1zM26.64 537.72h1v1h-1zM51.81 538.49h1v1h-1zM37.33 538.52h1v1h-1zM36.88 536.99h1v1h-1zM35.1 534.27h1v1h-1zM40.17 529.61h1v1h-1zM35.04 537.92h1v1h-1zM42.95 534.59h1v1h-1zM37.86 537.13h1v1h-1zM38.85 529.26h1v1h-1zM29.89 533.09h1v1h-1zM37.51 532.73h1v1h-1zM35.77 537.8h1v1h-1zM43.05 535.24h1v1h-1zM36.61 533.95h1v1h-1zM39.04 534.38h1v1h-1zM31.44 535.67h1v1h-1zM30.72 533.7h1v1h-1zM33.99 531.04h1v1h-1zM40.73 533.63h1v1h-1zM28.35 533.61h1v1h-1zM26.86 537.24h1v1h-1zM40.11 538.56h1v1h-1zM32.53 535.49h1v1h-1zM29.73 531.76h1v1h-1zM35.88 534.79h1v1h-1zM42.96 533.16h1v1h-1zM44.2 536.11h1v1h-1zM30.39 533.37h1v1h-1zM30.1 537.88h1v1h-1zM32.65 535.92h1v1h-1zM42.88 533.19h1v1h-1zM33.1 534.62h1v1h-1zM31.09 530.77h1v1h-1zM29.76 534.61h1v1h-1zM37.84 538.01h1v1h-1zM28.45 536.56h1v1h-1zM41.35 534.1h1v1h-1zM46.78 532.91h1v1h-1zM32.81 531.29h1v1h-1zM31.93 534.08h1v1h-1zM41.19 536.86h1v1h-1zM34.63 532.06h1v1h-1zM34.17 532.78h1v1h-1zM33.24 532.84h1v1h-1zM30.43 533.68h1v1h-1zM32.93 533.4h1v1h-1zM26.86 534.15h1v1h-1zM40.48 535.34h1v1h-1zM32.68 531.08h1v1h-1zM27.45 531.01h1v1h-1zM32.03 533.06h1v1h-1zM25.8 532.17h1v1h-1zM31.49 535.77h1v1h-1zM49.28 532.96h1v1h-1zM34.6 532.87h1v1h-1zM35.11 533.4h1v1h-1zM53.63 531.21h1v1h-1zM35.74 531.92h1v1h-1zM38.98 532.56h1v1h-1zM40.49 531.23h1v1h-1zM51.14 534.3h1v1h-1zM33.24 531.06h1v1h-1zM39.56 532.57h1v1h-1zM41.62 532.5h1v1h-1zM42.76 534.15h1v1h-1zM38.98 534.17h1v1h-1zM33.97 532.94h1v1h-1zM39.63 535.48h1v1h-1zM48.22 531.08h1v1h-1zM44.02 533.63h1v1h-1zM38.11 531.93h1v1h-1zM47.93 531.85h1v1h-1zM35.94 532.09h1v1h-1zM49.87 536.77h1v1h-1zM27.38 532.74h1v1h-1zM39.02 532.78h1v1h-1zM34.05 531.25h1v1h-1zM38.24 531.22h1v1h-1zM34.25 537.69h1v1h-1zM39.08 532.22h1v1h-1zM34.12 531.53h1v1h-1zM37.29 535.46h1v1h-1zM42.93 533.15h1v1h-1zM28.26 533.62h1v1h-1zM48.05 534.47h1v1h-1zM36.06 528.9h1v1h-1zM33.51 535.09h1v1h-1zM29.97 536.99h1v1h-1zM32.6 531.75h1v1h-1zM32.5 533.59h1v1h-1zM43.4 532.47h1v1h-1zM40.11 537.44h1v1h-1zM28.76 537.3h1v1h-1zM41.17 534.88h1v1h-1zM31.21 531.73h1v1h-1zM29.92 536h1v1h-1zM38.01 536.32h1v1h-1zM49.03 533.85h1v1h-1zM36.17 538.32h1v1h-1zM27.51 532.75h1v1h-1zM33.95 532.92h1v1h-1zM37.49 531.83h1v1h-1zM44.5 530.6h1v1h-1zM30.89 529.83h1v1h-1zM26.85 535.19h1v1h-1zM40.83 533.35h1v1h-1zM42.32 535.26h1v1h-1zM32.53 533.72h1v1h-1zM39.03 538.54h1v1h-1zM33.47 534.68h1v1h-1zM40.26 536.67h1v1h-1zM39.43 536.33h1v1h-1zM29.18 533.19h1v1h-1zM52.55 534.38h1v1h-1zM37.11 534.44h1v1h-1zM37.5 530.7h1v1h-1zM31.73 533.4h1v1h-1zM37.66 531.79h1v1h-1zM35.77 532.09h1v1h-1zM27.42 532.27h1v1h-1zM30.96 535.78h1v1h-1zM45.72 535.17h1v1h-1zM35.04 532.51h1v1h-1zM25.7 532.58h1v1h-1zM47.27 536.52h1v1h-1zM38.05 533.24h1v1h-1zM36.53 534.81h1v1h-1zM36.45 534.82h1v1h-1zM31.2 533.92h1v1h-1zM34.09 536.34h1v1h-1zM27.97 536.86h1v1h-1zM35.91 532.64h1v1h-1zM36.65 534.1h1v1h-1zM34.9 534.81h1v1h-1zM32.53 529.85h1v1h-1zM41.29 533.76h1v1h-1zM47.96 534.72h1v1h-1zM31.77 535.1h1v1h-1zM51.77 536.37h1v1h-1zM28.98 533.6h1v1h-1zM25.45 535.38h1v1h-1zM40.37 531.42h1v1h-1zM39.62 536.01h1v1h-1zM42.06 532.25h1v1h-1zM31.74 531.2h1v1h-1zM27.61 534.55h1v1h-1zM36.77 536.86h1v1h-1zM38.39 533.06h1v1h-1zM26.69 537.43h1v1h-1zM37.63 533.75h1v1h-1zM29.59 531.37h1v1h-1zM40.85 531.55h1v1h-1zM40.52 535.29h1v1h-1zM33.88 530.03h1v1h-1zM39.33 537.1h1v1h-1zM30.83 530.87h1v1h-1zM43.99 534.16h1v1h-1zM32.21 536.68h1v1h-1zM34.6 534.87h1v1h-1zM33.74 532.07h1v1h-1zM38.01 531.82h1v1h-1zM44.98 536.38h1v1h-1zM51.44 536.14h1v1h-1zM47.59 534.41h1v1h-1zM33.51 534.91h1v1h-1zM29.98 535.54h1v1h-1zM33.42 534.42h1v1h-1zM30.65 533.51h1v1h-1zM43.24 533.32h1v1h-1zM31.87 534.48h1v1h-1zM42.55 533.39h1v1h-1zM28.47 530.19h1v1h-1zM27.3 536.3h1v1h-1zM35.89 534.94h1v1h-1zM43.88 534.49h1v1h-1zM39.81 532.65h1v1h-1zM25.45 535.29h1v1h-1zM35.84 535.16h1v1h-1zM29.19 533.5h1v1h-1zM50.34 531.87h1v1h-1zM37.17 536.87h1v1h-1zM34.91 534.12h1v1h-1zM33.47 536.81h1v1h-1zM35.88 532.96h1v1h-1zM39.49 533.27h1v1h-1zM32.97 537.41h1v1h-1zM43.24 534.08h1v1h-1zM42.05 535.74h1v1h-1zM40.49 533.94h1v1h-1zM37 534.77h1v1h-1zM40.38 534.65h1v1h-1zM32.72 533.66h1v1h-1zM39.64 531.55h1v1h-1zM36.44 535.58h1v1h-1zM37.66 533.17h1v1h-1zM36.34 532.71h1v1h-1zM43.24 532.96h1v1h-1zM25.08 531.04h1v1h-1zM38.56 534.32h1v1h-1zM33.26 530.8h1v1h-1zM35.48 531.9h1v1h-1zM32 533.83h1v1h-1zM31.25 534.55h1v1h-1zM31.43 532.76h1v1h-1zM34.94 537.2h1v1h-1zM47.31 536.01h1v1h-1zM31.45 533.85h1v1h-1zM42.76 535.69h1v1h-1zM25.34 533.71h1v1h-1zM31.43 535.56h1v1h-1zM40.87 532.6h1v1h-1zM51.18 533.2h1v1h-1zM53.24 533.45h1v1h-1zM35.92 538.2h1v1h-1zM32.89 532.75h1v1h-1zM46.61 533.75h1v1h-1zM39.78 530.95h1v1h-1zM48.76 536.09h1v1h-1zM38.95 535.46h1v1h-1zM33.07 532.75h1v1h-1zM25.74 534.68h1v1h-1zM44.98 535.8h1v1h-1zM42.8 535.46h1v1h-1zM30.2 530.85h1v1h-1zM40.89 534.22h1v1h-1zM43.25 533.21h1v1h-1zM30.46 534.86h1v1h-1zM32.69 530.08h1v1h-1zM32.33 531.83h1v1h-1zM28.87 532.58h1v1h-1zM48.34 532.89h1v1h-1zM44.33 533.67h1v1h-1zM39.26 532.29h1v1h-1zM35.99 530h1v1h-1zM48.78 532.09h1v1h-1zM40.51 532.5h1v1h-1zM38.35 531.15h1v1h-1zM33.93 535.93h1v1h-1zM40.57 529.4h1v1h-1zM42.34 530.84h1v1h-1zM38.46 535.02h1v1h-1zM32.1 533.11h1v1h-1zM34.82 534.75h1v1h-1zM42.76 536.95h1v1h-1zM38.74 538.39h1v1h-1zM30.01 537.9h1v1h-1zM34.71 535.59h1v1h-1zM35.64 534.03h1v1h-1zM30.21 534.72h1v1h-1zM50.38 534.18h1v1h-1zM36.36 533.85h1v1h-1zM41.39 533.37h1v1h-1zM36.47 534.33h1v1h-1zM45.43 536.01h1v1h-1zM29.29 532.4h1v1h-1zM36.64 535.77h1v1h-1zM43.14 533.37h1v1h-1zM51.08 533.47h1v1h-1zM46.13 537.09h1v1h-1zM47.43 534.3h1v1h-1zM40.45 530.36h1v1h-1zM41.43 536.27h1v1h-1zM35.8 536.21h1v1h-1zM40.46 537.31h1v1h-1zM25.59 531.95h1v1h-1zM29.94 531.46h1v1h-1zM47.8 531.73h1v1h-1zM30.82 532.93h1v1h-1zM42.56 532.79h1v1h-1zM41.55 535.09h1v1h-1zM32.12 528.45h1v1h-1zM30.21 531h1v1h-1zM47.71 532.2h1v1h-1zM29.16 534.7h1v1h-1zM36.87 531.71h1v1h-1zM44.01 535.92h1v1h-1zM38.41 532.11h1v1h-1zM30.52 529.16h1v1h-1zM39.13 534.73h1v1h-1zM30.19 533.9h1v1h-1zM58.98 531.26h1v1h-1zM24.79 535.23h1v1h-1zM33.58 532.71h1v1h-1zM40.77 533.54h1v1h-1zM43.32 535.01h1v1h-1zM44.46 534.11h1v1h-1zM24.83 536.21h1v1h-1zM38.23 530.67h1v1h-1zM36.96 535.84h1v1h-1zM29.49 533.93h1v1h-1zM31.43 531.54h1v1h-1zM32.26 536.74h1v1h-1zM41.21 533.76h1v1h-1zM35.94 534.12h1v1h-1zM38.47 534.25h1v1h-1zM24.71 535.93h1v1h-1zM30.62 527.89h1v1h-1zM41.33 531.08h1v1h-1zM35.53 533.62h1v1h-1zM32.44 535.05h1v1h-1zM34.63 533.19h1v1h-1zM29.95 533.19h1v1h-1zM29.38 533.92h1v1h-1zM45.59 536.13h1v1h-1zM39.44 530.72h1v1h-1zM43.57 535.96h1v1h-1zM50.67 528.69h1v1h-1zM36.61 533.07h1v1h-1zM43.98 531.35h1v1h-1zM43.34 529.27h1v1h-1zM36.64 536.95h1v1h-1zM32.25 535.19h1v1h-1zM37.18 530.49h1v1h-1zM32.19 536.42h1v1h-1zM44.65 532.45h1v1h-1zM44.24 532.2h1v1h-1zM38.2 533.77h1v1h-1zM27.91 534.56h1v1h-1zM33.82 527.55h1v1h-1zM30.8 531.89h1v1h-1zM30.75 531.59h1v1h-1zM31.76 528.22h1v1h-1zM42.63 533.98h1v1h-1zM38.25 533.21h1v1h-1zM36.94 533.22h1v1h-1zM29 530.34h1v1h-1zM37.01 536.14h1v1h-1zM38.11 537.51h1v1h-1zM27.11 533.21h1v1h-1zM32.25 536.64h1v1h-1zM48.17 532.62h1v1h-1zM41.53 533.26h1v1h-1zM29.62 533.56h1v1h-1zM29.33 537.36h1v1h-1zM40.57 536.53h1v1h-1zM38.97 528.24h1v1h-1zM42.02 534.02h1v1h-1zM43.46 537.73h1v1h-1zM29.46 535.62h1v1h-1zM38.79 533.42h1v1h-1zM34.55 535.03h1v1h-1zM40.47 535.32h1v1h-1zM33.69 530.79h1v1h-1zM45.58 536.79h1v1h-1zM32.61 533.74h1v1h-1zM42.06 529.78h1v1h-1zM38.37 532.19h1v1h-1zM50.57 533.83h1v1h-1zM37.96 532.83h1v1h-1zM37.74 529.69h1v1h-1zM27.67 530.42h1v1h-1zM42.71 533.6h1v1h-1zM44.44 529.13h1v1h-1zM32.37 537.15h1v1h-1zM31.05 529.53h1v1h-1zM31.37 533.01h1v1h-1zM36.41 536.8h1v1h-1zM45.65 537.37h1v1h-1zM40.5 532.65h1v1h-1zM33.09 530.41h1v1h-1zM45.26 536.69h1v1h-1zM37.11 531.76h1v1h-1zM41.15 534.93h1v1h-1zM37.56 531.13h1v1h-1zM38.15 532.5h1v1h-1zM41.59 535.18h1v1h-1zM39.53 532.82h1v1h-1zM46.98 535.59h1v1h-1zM45.23 535.73h1v1h-1zM41.06 534.7h1v1h-1zM29.15 529.62h1v1h-1zM30.06 535.22h1v1h-1zM42.77 534.23h1v1h-1zM37.12 538.03h1v1h-1zM33.77 529.7h1v1h-1zM25.86 533.06h1v1h-1zM41.31 535.5h1v1h-1zM34.98 535.68h1v1h-1zM36.17 532.14h1v1h-1zM33.9 535.54h1v1h-1zM43.06 531.22h1v1h-1zM29.71 534.08h1v1h-1zM51.1 531.11h1v1h-1zM27.89 534.77h1v1h-1zM40 532.4h1v1h-1zM36.32 534.92h1v1h-1zM24.53 533.75h1v1h-1zM40.63 535.93h1v1h-1zM44.51 533.64h1v1h-1zM26.6 536.89h1v1h-1zM41.8 532.34h1v1h-1zM43.61 536.19h1v1h-1zM35.54 528.37h1v1h-1zM33.29 532.06h1v1h-1zM30.76 533.61h1v1h-1zM29.08 534.7h1v1h-1zM49.46 531.07h1v1h-1zM43.64 532.58h1v1h-1zM40.23 533.51h1v1h-1zM45.3 532.17h1v1h-1zM41.53 532.02h1v1h-1zM38.07 533.77h1v1h-1zM43.97 530.17h1v1h-1zM27.25 537h1v1h-1zM39.15 537.71h1v1h-1zM29.44 534.29h1v1h-1zM40.64 537.87h1v1h-1zM36.14 532.77h1v1h-1zM41.4 533.57h1v1h-1zM31.37 535.55h1v1h-1zM45.83 532.65h1v1h-1zM34.28 534.66h1v1h-1zM44.19 535.02h1v1h-1zM29.9 532.49h1v1h-1zM43.69 533.53h1v1h-1zM32.18 535.81h1v1h-1zM29.13 532.18h1v1h-1zM31.76 534.62h1v1h-1zM33.24 536.37h1v1h-1zM32.1 533.17h1v1h-1zM40.39 534.27h1v1h-1zM29.58 537.26h1v1h-1zM40.45 532.67h1v1h-1zM37.93 531.26h1v1h-1zM28.1 533.11h1v1h-1zM39 534.03h1v1h-1zM31.2 530.61h1v1h-1zM25.03 537.48h1v1h-1zM39.03 531.96h1v1h-1zM44.61 535.04h1v1h-1zM33.68 532.39h1v1h-1zM44.28 534.55h1v1h-1zM47.67 534.64h1v1h-1zM32.51 532.42h1v1h-1zM31.7 534.38h1v1h-1zM38.24 535.2h1v1h-1zM39.58 531.38h1v1h-1zM35.11 531.63h1v1h-1zM39.79 530.77h1v1h-1zM32.54 531.83h1v1h-1zM32.29 533.21h1v1h-1zM46.81 533.21h1v1h-1zM26.72 533.11h1v1h-1zM41.61 535.07h1v1h-1zM38.13 538.39h1v1h-1zM44.07 534.01h1v1h-1zM44.79 530.72h1v1h-1zM35.35 531.81h1v1h-1zM37.71 537.52h1v1h-1zM33.12 537.47h1v1h-1zM29.54 537.08h1v1h-1zM24.96 531.85h1v1h-1zM43.3 533.59h1v1h-1zM37.49 533.77h1v1h-1zM37.73 533.39h1v1h-1zM29.84 533.13h1v1h-1zM37.26 531.73h1v1h-1zM39.68 537.86h1v1h-1zM25.33 532.55h1v1h-1zM34.59 533.84h1v1h-1zM37.15 532.13h1v1h-1zM36.27 533.81h1v1h-1zM35.92 537.35h1v1h-1zM37.39 530.4h1v1h-1zM25.84 535.16h1v1h-1zM34.18 532.38h1v1h-1zM27.28 533.09h1v1h-1zM35.88 532.22h1v1h-1zM34.11 535.84h1v1h-1zM41.84 535.06h1v1h-1zM35.32 530.68h1v1h-1zM41.78 537.25h1v1h-1zM45.17 536.48h1v1h-1zM38.39 534.67h1v1h-1zM36.41 536.69h1v1h-1zM41.79 533.06h1v1h-1zM36.49 530.1h1v1h-1zM31.52 533.11h1v1h-1zM53.15 531.93h1v1h-1zM42.74 533.98h1v1h-1zM34.49 535.24h1v1h-1zM49.66 534.48h1v1h-1zM36.08 534.17h1v1h-1zM41.01 532.67h1v1h-1zM37.32 534.96h1v1h-1zM34.13 534.7h1v1h-1zM38.77 535.45h1v1h-1zM29.79 532.57h1v1h-1zM33.6 536.56h1v1h-1zM38.2 529.99h1v1h-1zM27.82 538.27h1v1h-1zM38.81 530.82h1v1h-1zM30.31 534.13h1v1h-1zM46.2 537.53h1v1h-1zM34.02 533.11h1v1h-1zM49.55 531.54h1v1h-1zM47.13 534.58h1v1h-1zM37.14 536.76h1v1h-1zM39.78 531.87h1v1h-1zM26.14 533.84h1v1h-1zM39.98 536.95h1v1h-1zM40.71 537.3h1v1h-1zM41.92 534.29h1v1h-1zM39.44 534.72h1v1h-1zM32.23 533.54h1v1h-1zM37.37 532.76h1v1h-1zM26.54 530.47h1v1h-1zM39.93 535h1v1h-1zM37.24 531.11h1v1h-1zM42.29 532.9h1v1h-1zM40.12 532.79h1v1h-1zM46.57 536.94h1v1h-1zM38.26 529.85h1v1h-1zM33.91 533.15h1v1h-1zM39.64 533.51h1v1h-1zM38.85 530.04h1v1h-1zM32.13 537.12h1v1h-1zM26.62 535.93h1v1h-1zM52.19 535.3h1v1h-1zM27.06 536.67h1v1h-1zM33.72 536.66h1v1h-1zM44.51 534.24h1v1h-1zM48.68 536.07h1v1h-1zM33.25 531.53h1v1h-1zM53.23 532.87h1v1h-1zM39.3 533.53h1v1h-1zM33.29 530.09h1v1h-1zM35.52 533.54h1v1h-1zM43.18 532.61h1v1h-1zM25.87 531.32h1v1h-1zM36.23 534.38h1v1h-1zM41.43 532.92h1v1h-1zM40.17 534.13h1v1h-1zM47.98 533.67h1v1h-1zM37.48 535.11h1v1h-1zM44.79 531.67h1v1h-1zM33.28 533.17h1v1h-1zM43.79 533.85h1v1h-1zM59.38 536.74h1v1h-1zM50.25 537.43h1v1h-1zM42.66 530.53h1v1h-1zM46.92 534.77h1v1h-1zM28.37 533.92h1v1h-1zM41.63 536.07h1v1h-1zM37.69 532.59h1v1h-1zM41.7 532.04h1v1h-1zM35.98 535.57h1v1h-1zM26.71 534.67h1v1h-1zM28.13 533.59h1v1h-1zM41.36 533.68h1v1h-1zM42.71 534.02h1v1h-1zM35.11 534.94h1v1h-1zM34.88 534.11h1v1h-1zM43.58 532.48h1v1h-1zM44.33 531.24h1v1h-1zM35.01 529.79h1v1h-1zM32.89 537.48h1v1h-1zM38.93 536.74h1v1h-1zM26.51 531.46h1v1h-1zM39.68 535.72h1v1h-1zM42.19 529.93h1v1h-1zM39.98 533.63h1v1h-1zM37.32 534.9h1v1h-1zM34.6 529.88h1v1h-1zM29.23 530.45h1v1h-1zM27.55 533.49h1v1h-1zM45.4 532.15h1v1h-1zM31.3 531.14h1v1h-1zM24.74 533.95h1v1h-1zM33.2 533.24h1v1h-1zM29.96 534.93h1v1h-1zM28.32 535.07h1v1h-1zM32 535.63h1v1h-1zM30.45 534.83h1v1h-1zM39.5 533.62h1v1h-1zM47.63 534.21h1v1h-1zM30.46 535.4h1v1h-1zM30.89 532.55h1v1h-1zM36.58 534.22h1v1h-1zM48.12 529.76h1v1h-1zM34.75 536.42h1v1h-1zM35.41 534.54h1v1h-1zM46.9 530.95h1v1h-1zM36.8 535.64h1v1h-1zM32.5 529.74h1v1h-1zM29.7 534.25h1v1h-1zM37.79 538.07h1v1h-1zM45.55 530.21h1v1h-1zM43.57 535.92h1v1h-1zM47.55 533.45h1v1h-1zM32.71 534.14h1v1h-1zM47.05 535.24h1v1h-1zM48.07 535.62h1v1h-1zM32.49 531.45h1v1h-1zM49.13 530.29h1v1h-1zM34.12 533.06h1v1h-1zM30.29 532.47h1v1h-1zM36.06 532.59h1v1h-1zM37.35 535.98h1v1h-1zM30.94 532.86h1v1h-1zM24.59 535.43h1v1h-1zM41.14 537.28h1v1h-1zM42.45 533.16h1v1h-1zM33.83 533.08h1v1h-1zM28.23 535.59h1v1h-1zM32.36 532.12h1v1h-1zM40.02 534.06h1v1h-1zM32.52 533.25h1v1h-1zM33.15 536.93h1v1h-1zM43.34 532.11h1v1h-1zM36.23 536.99h1v1h-1zM34.54 537.94h1v1h-1zM39.54 535.35h1v1h-1zM38.82 535.15h1v1h-1zM39.78 535.03h1v1h-1zM33.03 535.89h1v1h-1zM36.93 531.36h1v1h-1zM29.55 534.18h1v1h-1zM38.79 528.67h1v1h-1zM26.04 533.22h1v1h-1zM32.41 535.1h1v1h-1zM46.12 537.55h1v1h-1zM29.61 536.67h1v1h-1zM28.2 534.52h1v1h-1zM37.67 535.24h1v1h-1zM31.04 536.91h1v1h-1zM36.03 533.76h1v1h-1zM34.68 531.32h1v1h-1zM41.43 534.58h1v1h-1zM39.61 538.14h1v1h-1zM30.58 533.14h1v1h-1zM36.55 535.79h1v1h-1zM35.29 535.97h1v1h-1zM39.62 529.71h1v1h-1zM31.84 529.07h1v1h-1zM34.55 532.83h1v1h-1zM40.53 534.2h1v1h-1zM36.06 536.74h1v1h-1zM40.56 530.93h1v1h-1zM31.79 534.56h1v1h-1zM48.14 533.34h1v1h-1zM35.34 534.42h1v1h-1zM41.85 533.59h1v1h-1zM38.51 532.82h1v1h-1zM32.74 531.95h1v1h-1zM41 532.5h1v1h-1zM40.26 534.75h1v1h-1zM43.16 527.55h1v1h-1zM29.9 530.96h1v1h-1zM35.38 535.68h1v1h-1zM53.82 537.4h1v1h-1zM45.78 534.69h1v1h-1zM33.86 535.05h1v1h-1zM36.56 535.24h1v1h-1zM29.46 531.25h1v1h-1zM32.1 533.7h1v1h-1zM38.89 532.97h1v1h-1zM38.89 535.39h1v1h-1zM28.57 533.56h1v1h-1zM25.85 532.52h1v1h-1zM42.69 532.13h1v1h-1zM49.24 534.98h1v1h-1zM42.58 534.04h1v1h-1zM42.42 536.35h1v1h-1zM37.23 532.56h1v1h-1zM32.74 538.3h1v1h-1zM35.25 532.73h1v1h-1zM31.66 529.87h1v1h-1zM33.09 534.56h1v1h-1zM33.18 532.03h1v1h-1zM39.3 534.87h1v1h-1zM33.52 534.52h1v1h-1zM29.85 535.81h1v1h-1zM29.76 533.02h1v1h-1zM37.43 532.82h1v1h-1zM28.67 538.7h1v1h-1zM46.87 529.73h1v1h-1zM37.33 530.84h1v1h-1zM38.63 530.76h1v1h-1zM40.47 535.04h1v1h-1zM48.19 536.61h1v1h-1zM33.37 536.01h1v1h-1zM33.36 533.54h1v1h-1zM33.08 529.69h1v1h-1zM40.63 529.05h1v1h-1zM34.89 535.03h1v1h-1zM37.28 530.12h1v1h-1zM32.06 535.39h1v1h-1zM44.02 537.53h1v1h-1zM33.21 535.59h1v1h-1zM24.96 533.47h1v1h-1zM41.34 532.29h1v1h-1zM34.02 531.51h1v1h-1zM44.12 530.7h1v1h-1zM30.25 533.02h1v1h-1zM38.38 531.86h1v1h-1zM40.47 534.6h1v1h-1zM38.43 533.65h1v1h-1zM39.66 531.06h1v1h-1zM28.28 532.81h1v1h-1zM28.95 535.44h1v1h-1zM49.78 536.69h1v1h-1zM39.55 534.59h1v1h-1zM31.81 530.76h1v1h-1zM40.25 530.35h1v1h-1zM38.57 533.47h1v1h-1zM41.64 533.92h1v1h-1zM37.23 532.44h1v1h-1zM24.72 533h1v1h-1zM41.26 536.24h1v1h-1zM45.93 531.47h1v1h-1zM30.09 535.44h1v1h-1zM38.65 530.25h1v1h-1zM32.71 537.47h1v1h-1zM27.02 537.54h1v1h-1zM33.44 531.39h1v1h-1zM24.82 532.13h1v1h-1zM51.42 534.03h1v1h-1zM34.69 531.09h1v1h-1zM38.83 532.7h1v1h-1zM30.7 537.04h1v1h-1zM39.51 531.72h1v1h-1zM46.62 533.67h1v1h-1zM39.94 534.15h1v1h-1zM44.57 535.24h1v1h-1zM34.12 535.48h1v1h-1zM33.83 534.11h1v1h-1zM47.73 531.32h1v1h-1zM29.42 532.86h1v1h-1zM33.09 536.84h1v1h-1zM47.35 532.75h1v1h-1zM37.77 532.96h1v1h-1zM41.1 535.35h1v1h-1zM41.65 535.59h1v1h-1zM49.73 533.4h1v1h-1zM41.29 533.36h1v1h-1zM36.77 534.31h1v1h-1zM36.15 534.61h1v1h-1zM30.67 533.44h1v1h-1zM32.36 531.07h1v1h-1zM31.66 532.64h1v1h-1zM35.48 530.15h1v1h-1zM34.74 531.16h1v1h-1zM30.9 534.24h1v1h-1zM44.09 534.47h1v1h-1zM33.15 532.77h1v1h-1zM45.67 530h1v1h-1zM44.3 530.29h1v1h-1zM32.16 533.91h1v1h-1zM34.98 537.69h1v1h-1zM39.88 533.69h1v1h-1zM43.03 533.89h1v1h-1zM30.98 536.43h1v1h-1zM46.77 536.8h1v1h-1zM28.45 538.27h1v1h-1zM33.65 535.6h1v1h-1zM25.43 531.41h1v1h-1zM44.58 534.96h1v1h-1zM34.36 526.95h1v1h-1zM39.52 533.36h1v1h-1zM36.47 534.35h1v1h-1zM41.67 533.18h1v1h-1zM30.35 532.96h1v1h-1zM50.04 532.19h1v1h-1zM35.95 538.25h1v1h-1zM43.72 534.09h1v1h-1zM41.54 533.17h1v1h-1zM30.29 536.15h1v1h-1zM37.42 537.55h1v1h-1zM34.7 532.92h1v1h-1zM38.86 533.36h1v1h-1zM34.36 531.7h1v1h-1zM38.25 534.56h1v1h-1zM49.05 533.74h1v1h-1zM52.2 532.77h1v1h-1zM31 533.41h1v1h-1zM35.21 530.25h1v1h-1zM40.46 531.75h1v1h-1zM40.85 538.31h1v1h-1zM45.08 534.26h1v1h-1zM32.99 533.19h1v1h-1zM43.14 532.58h1v1h-1zM39.36 536.07h1v1h-1zM30.28 532.42h1v1h-1zM39.58 533.82h1v1h-1zM35.65 532.56h1v1h-1zM36.06 538.15h1v1h-1zM45.83 530.01h1v1h-1zM36.83 534.02h1v1h-1zM36.75 530.56h1v1h-1zM35.61 534.15h1v1h-1zM31.82 534.54h1v1h-1zM37.2 534.72h1v1h-1zM35.36 532.72h1v1h-1zM37.77 536.34h1v1h-1zM42.67 533.61h1v1h-1zM33.3 536.3h1v1h-1zM40.22 535.87h1v1h-1zM34.6 531.78h1v1h-1zM37.78 532.33h1v1h-1zM44.4 535.81h1v1h-1zM45.65 536.24h1v1h-1zM33.25 531.78h1v1h-1zM43.17 536.18h1v1h-1zM36.91 531.09h1v1h-1zM26.01 534.43h1v1h-1zM30.82 532.2h1v1h-1zM39.55 536.27h1v1h-1zM45.43 533.7h1v1h-1zM34.15 535.3h1v1h-1zM28.68 530.93h1v1h-1zM36.65 537.47h1v1h-1zM43.48 533.79h1v1h-1zM43.45 532.84h1v1h-1zM28.4 529.86h1v1h-1zM38.36 535.92h1v1h-1zM39.06 533.71h1v1h-1zM33.75 536.36h1v1h-1zM36.18 530.41h1v1h-1zM45.92 532.28h1v1h-1zM39.19 533.81h1v1h-1zM43.75 534.38h1v1h-1zM44.93 534.3h1v1h-1zM33.33 532.61h1v1h-1zM40.97 531.85h1v1h-1zM42.88 533.24h1v1h-1zM30.12 531.75h1v1h-1zM35.51 537.96h1v1h-1zM41.8 533.85h1v1h-1zM30.28 538.28h1v1h-1zM34.59 533.8h1v1h-1zM33.59 536.94h1v1h-1zM37.71 532.72h1v1h-1zM37.77 531.45h1v1h-1zM29.26 533.42h1v1h-1zM50.17 531.19h1v1h-1zM35.53 530.09h1v1h-1z" fill="#000" fill-opacity="0.85"/>
<path d="M52.9 533.59h0.9v0.9h-0.9zM57.37 529.65h0.9v0.9h-0.9zM46.83 531.4h0.9v0.9h-0.9zM49.98 532.95h0.9v0.9h-0.9zM47.56 535.08h0.9v0.9h-0.9zM63.59 530.32h0.9v0.9h-0.9zM59.86 533.12h0.9v0.9h-0.9zM61.38 535.75h0.9v0.9h-0.9zM56.7 528.78h0.9v0.9h-0.9zM52.6 531.78h0.9v0.9h-0.9zM55.07 533.15h0.9v0.9h-0.9zM59.8 528.96h0.9v0.9h-0.9zM45.73 532.86h0.9v0.9h-0.9zM54.07 532.02h0.9v0.9h-0.9zM51.33 533.19h0.9v0.9h-0.9zM59.79 532.76h0.9v0.9h-0.9zM53.46 528.42h0.9v0.9h-0.9zM30.97 529.32h0.9v0.9h-0.9zM54.36 527.17h0.9v0.9h-0.9zM54.77 532.8h0.9v0.9h-0.9zM51.57 531.19h0.9v0.9h-0.9zM48.25 535.17h0.9v0.9h-0.9zM54.36 532.98h0.9v0.9h-0.9zM47.71 533.59h0.9v0.9h-0.9zM60.92 533h0.9v0.9h-0.9zM48.66 530.04h0.9v0.9h-0.9zM52.33 530.71h0.9v0.9h-0.9zM40.24 535.27h0.9v0.9h-0.9zM46.65 527.85h0.9v0.9h-0.9zM45.9 537.75h0.9v0.9h-0.9zM50.71 529.67h0.9v0.9h-0.9zM42.88 534.89h0.9v0.9h-0.9zM54.75 533.6h0.9v0.9h-0.9zM50.01 534.29h0.9v0.9h-0.9zM63.67 534.29h0.9v0.9h-0.9zM50.26 529.48h0.9v0.9h-0.9zM55.05 537.05h0.9v0.9h-0.9zM56.65 529.84h0.9v0.9h-0.9zM53.01 536.37h0.9v0.9h-0.9zM46.55 534.31h0.9v0.9h-0.9zM61.07 537.23h0.9v0.9h-0.9zM39.03 528.59h0.9v0.9h-0.9zM54.5 534.85h0.9v0.9h-0.9zM48.76 533h0.9v0.9h-0.9zM48.34 536.12h0.9v0.9h-0.9zM34.12 533.7h0.9v0.9h-0.9zM41.47 531.32h0.9v0.9h-0.9zM39.48 530.72h0.9v0.9h-0.9zM51.36 533.12h0.9v0.9h-0.9zM65.63 532.49h0.9v0.9h-0.9zM54.28 533.96h0.9v0.9h-0.9zM53.58 536.8h0.9v0.9h-0.9zM52.64 533.43h0.9v0.9h-0.9zM50.66 533.06h0.9v0.9h-0.9zM51.11 535.6h0.9v0.9h-0.9zM51.71 533.23h0.9v0.9h-0.9zM51.18 534.99h0.9v0.9h-0.9zM47.83 535.45h0.9v0.9h-0.9zM47.04 534.82h0.9v0.9h-0.9zM66.68 533.64h0.9v0.9h-0.9zM50.86 530.03h0.9v0.9h-0.9zM57.38 533.08h0.9v0.9h-0.9zM58.72 531.37h0.9v0.9h-0.9zM55.65 537.68h0.9v0.9h-0.9zM54.72 532.21h0.9v0.9h-0.9zM41.28 533.03h0.9v0.9h-0.9zM56.75 534.58h0.9v0.9h-0.9zM42.73 530.42h0.9v0.9h-0.9zM43.85 530.44h0.9v0.9h-0.9zM49.37 533.73h0.9v0.9h-0.9zM66.72 533.55h0.9v0.9h-0.9zM63.02 528.81h0.9v0.9h-0.9zM63.72 535.1h0.9v0.9h-0.9zM55.03 535.16h0.9v0.9h-0.9zM56.42 537.96h0.9v0.9h-0.9zM57.91 528.59h0.9v0.9h-0.9zM37.76 537.18h0.9v0.9h-0.9zM50.89 536.44h0.9v0.9h-0.9zM48.85 531.37h0.9v0.9h-0.9zM48.84 533.86h0.9v0.9h-0.9zM53.03 531.46h0.9v0.9h-0.9zM55.79 534.63h0.9v0.9h-0.9zM44.3 530.19h0.9v0.9h-0.9zM36.06 532.26h0.9v0.9h-0.9zM51.63 531.27h0.9v0.9h-0.9zM46.79 532.71h0.9v0.9h-0.9zM51.78 534.51h0.9v0.9h-0.9zM58.13 534.17h0.9v0.9h-0.9zM60.39 530.56h0.9v0.9h-0.9zM56.34 534.01h0.9v0.9h-0.9zM43.31 531.31h0.9v0.9h-0.9zM55.05 533.24h0.9v0.9h-0.9zM41.62 531.63h0.9v0.9h-0.9zM63.6 535.22h0.9v0.9h-0.9zM52.2 536.51h0.9v0.9h-0.9zM44.38 532.61h0.9v0.9h-0.9zM59.13 532.19h0.9v0.9h-0.9zM42.72 534.55h0.9v0.9h-0.9zM64.21 526.53h0.9v0.9h-0.9zM52.77 529.84h0.9v0.9h-0.9zM49.19 529.42h0.9v0.9h-0.9zM51.9 531.24h0.9v0.9h-0.9zM43.73 531.88h0.9v0.9h-0.9zM53.19 537.55h0.9v0.9h-0.9zM53.82 537.07h0.9v0.9h-0.9zM43.13 533.23h0.9v0.9h-0.9zM48.09 529.03h0.9v0.9h-0.9zM53.48 531.11h0.9v0.9h-0.9zM47 530.39h0.9v0.9h-0.9zM59.66 532.02h0.9v0.9h-0.9zM50.4 533.51h0.9v0.9h-0.9zM41.86 533.65h0.9v0.9h-0.9zM50.2 534.19h0.9v0.9h-0.9zM48.5 533.15h0.9v0.9h-0.9zM55.65 535.53h0.9v0.9h-0.9zM46.1 535.55h0.9v0.9h-0.9zM43.76 532.57h0.9v0.9h-0.9zM52.58 533.42h0.9v0.9h-0.9zM31.81 530.54h0.9v0.9h-0.9zM50.09 535.42h0.9v0.9h-0.9zM45.98 536.93h0.9v0.9h-0.9zM37.3 533.25h0.9v0.9h-0.9zM55.82 533.1h0.9v0.9h-0.9zM53.64 535.45h0.9v0.9h-0.9zM45.18 534.57h0.9v0.9h-0.9zM59.96 532.45h0.9v0.9h-0.9zM33.25 529.99h0.9v0.9h-0.9zM44.8 530.33h0.9v0.9h-0.9zM54.96 530.98h0.9v0.9h-0.9zM41.23 532.31h0.9v0.9h-0.9zM63.63 534.8h0.9v0.9h-0.9zM43.49 535.71h0.9v0.9h-0.9zM47.8 538.74h0.9v0.9h-0.9zM47.19 534.58h0.9v0.9h-0.9zM56.01 531.91h0.9v0.9h-0.9zM50.34 536.03h0.9v0.9h-0.9zM55.49 532.9h0.9v0.9h-0.9zM55.06 537.54h0.9v0.9h-0.9zM58.92 534.27h0.9v0.9h-0.9zM54.16 529.03h0.9v0.9h-0.9zM52.62 531.8h0.9v0.9h-0.9zM57.34 531.49h0.9v0.9h-0.9zM55.1 530.35h0.9v0.9h-0.9zM58.63 531.18h0.9v0.9h-0.9zM51.33 534.53h0.9v0.9h-0.9zM48.99 533.07h0.9v0.9h-0.9zM59.93 537.59h0.9v0.9h-0.9zM37.28 530.73h0.9v0.9h-0.9zM56.89 535.47h0.9v0.9h-0.9zM47.8 533.29h0.9v0.9h-0.9zM49.97 529.99h0.9v0.9h-0.9zM39.28 529.77h0.9v0.9h-0.9zM61.85 532.05h0.9v0.9h-0.9zM66.96 534.69h0.9v0.9h-0.9zM54.58 534.71h0.9v0.9h-0.9zM57.8 535.41h0.9v0.9h-0.9zM43.84 531.62h0.9v0.9h-0.9zM47.22 533.32h0.9v0.9h-0.9zM49.57 529.89h0.9v0.9h-0.9zM46.07 537.64h0.9v0.9h-0.9zM54.56 532.96h0.9v0.9h-0.9zM44.86 534.88h0.9v0.9h-0.9zM51 537.34h0.9v0.9h-0.9zM55.16 532.25h0.9v0.9h-0.9zM30.62 532.79h0.9v0.9h-0.9zM58.25 531.22h0.9v0.9h-0.9zM58.54 534.8h0.9v0.9h-0.9zM37.59 532.55h0.9v0.9h-0.9zM54.08 534.99h0.9v0.9h-0.9zM52.77 533.01h0.9v0.9h-0.9zM48.81 532.3h0.9v0.9h-0.9zM51.58 530.32h0.9v0.9h-0.9zM56.62 532.22h0.9v0.9h-0.9zM55.68 531.75h0.9v0.9h-0.9zM54.8 533.38h0.9v0.9h-0.9zM58.6 534.24h0.9v0.9h-0.9zM58.92 532.62h0.9v0.9h-0.9zM51.11 532.38h0.9v0.9h-0.9zM41.64 532.73h0.9v0.9h-0.9zM60.15 535.03h0.9v0.9h-0.9zM44.83 533.82h0.9v0.9h-0.9zM57.49 529.56h0.9v0.9h-0.9zM54.31 533.9h0.9v0.9h-0.9zM57.47 533.71h0.9v0.9h-0.9zM37.8 527.88h0.9v0.9h-0.9zM67.24 532.04h0.9v0.9h-0.9zM61.61 536.3h0.9v0.9h-0.9zM52.24 530.12h0.9v0.9h-0.9zM62.36 532.95h0.9v0.9h-0.9zM55.66 534.28h0.9v0.9h-0.9zM59.09 535.65h0.9v0.9h-0.9zM40.32 529.44h0.9v0.9h-0.9zM52.67 533.07h0.9v0.9h-0.9zM57.7 532.7h0.9v0.9h-0.9zM50.12 538.25h0.9v0.9h-0.9zM62.41 536.02h0.9v0.9h-0.9zM59.74 531.03h0.9v0.9h-0.9zM50.87 532.87h0.9v0.9h-0.9zM42.9 530.82h0.9v0.9h-0.9zM52.82 529.94h0.9v0.9h-0.9zM55.83 534.26h0.9v0.9h-0.9zM49.69 532.18h0.9v0.9h-0.9zM56.31 534.28h0.9v0.9h-0.9zM54.44 529.92h0.9v0.9h-0.9zM38.72 538.29h0.9v0.9h-0.9zM46.39 532.11h0.9v0.9h-0.9zM37.13 531.01h0.9v0.9h-0.9zM45.76 535.09h0.9v0.9h-0.9zM30.67 529.46h0.9v0.9h-0.9zM48.29 531.79h0.9v0.9h-0.9zM45.42 531.92h0.9v0.9h-0.9zM39.09 533.73h0.9v0.9h-0.9zM61 533.44h0.9v0.9h-0.9zM47.31 536.28h0.9v0.9h-0.9zM55.41 530.42h0.9v0.9h-0.9zM47.02 531.49h0.9v0.9h-0.9zM51.19 536.15h0.9v0.9h-0.9zM45.98 532.67h0.9v0.9h-0.9zM52.44 530h0.9v0.9h-0.9zM47.78 534.62h0.9v0.9h-0.9zM60.5 528.26h0.9v0.9h-0.9zM57.14 532.31h0.9v0.9h-0.9zM61.74 534.64h0.9v0.9h-0.9zM67.12 533.84h0.9v0.9h-0.9zM48.42 530.92h0.9v0.9h-0.9zM40.24 534.47h0.9v0.9h-0.9zM55.63 535.14h0.9v0.9h-0.9zM54.32 529.23h0.9v0.9h-0.9zM48.34 532.43h0.9v0.9h-0.9zM52.81 535.01h0.9v0.9h-0.9zM62.76 533.78h0.9v0.9h-0.9zM35.24 530.44h0.9v0.9h-0.9zM34.68 531.1h0.9v0.9h-0.9zM42.08 533.66h0.9v0.9h-0.9zM49.8 535.9h0.9v0.9h-0.9zM60.08 531.89h0.9v0.9h-0.9zM59.02 533.08h0.9v0.9h-0.9zM55.15 536.49h0.9v0.9h-0.9zM42.47 532.88h0.9v0.9h-0.9zM63.72 531.1h0.9v0.9h-0.9zM53.25 533.39h0.9v0.9h-0.9zM48.27 529.71h0.9v0.9h-0.9zM46.13 530.54h0.9v0.9h-0.9zM60.1 533.69h0.9v0.9h-0.9zM57.1 530.02h0.9v0.9h-0.9zM55.52 533.42h0.9v0.9h-0.9zM59.84 531.21h0.9v0.9h-0.9zM57.96 536.55h0.9v0.9h-0.9zM65.81 530.68h0.9v0.9h-0.9zM42.68 529.32h0.9v0.9h-0.9zM59.16 534.57h0.9v0.9h-0.9zM54.25 530.84h0.9v0.9h-0.9zM61.46 537.14h0.9v0.9h-0.9zM51.27 532.74h0.9v0.9h-0.9zM60.96 534.34h0.9v0.9h-0.9zM62.18 532.02h0.9v0.9h-0.9zM54.24 532.19h0.9v0.9h-0.9zM47.05 532.29h0.9v0.9h-0.9zM49.31 534.34h0.9v0.9h-0.9zM49.15 533.23h0.9v0.9h-0.9zM45.16 529.93h0.9v0.9h-0.9zM62.85 530.55h0.9v0.9h-0.9zM65.89 535.45h0.9v0.9h-0.9zM33.46 531.42h0.9v0.9h-0.9zM48.26 533.1h0.9v0.9h-0.9zM50.15 531.51h0.9v0.9h-0.9zM61.46 532.73h0.9v0.9h-0.9zM59.17 531.3h0.9v0.9h-0.9zM46.1 536.45h0.9v0.9h-0.9zM49.33 530.25h0.9v0.9h-0.9zM50.21 535.73h0.9v0.9h-0.9zM50.28 531.22h0.9v0.9h-0.9zM56.59 535.55h0.9v0.9h-0.9zM49.93 532.24h0.9v0.9h-0.9zM50.07 537.49h0.9v0.9h-0.9zM50.39 534.08h0.9v0.9h-0.9zM35.46 533.5h0.9v0.9h-0.9zM51.98 532.25h0.9v0.9h-0.9zM48.33 529.58h0.9v0.9h-0.9zM39.8 533.48h0.9v0.9h-0.9zM46.51 532.82h0.9v0.9h-0.9zM50.14 531.76h0.9v0.9h-0.9zM45.81 537.77h0.9v0.9h-0.9zM42.84 531.76h0.9v0.9h-0.9zM49.23 530.12h0.9v0.9h-0.9zM43.98 535.24h0.9v0.9h-0.9zM58.92 533.39h0.9v0.9h-0.9zM61.3 530.98h0.9v0.9h-0.9zM60.12 537.33h0.9v0.9h-0.9zM48.58 537.65h0.9v0.9h-0.9zM45.2 530.17h0.9v0.9h-0.9z" fill="#000" fill-opacity="0.7"/>
<path d="M44.18 516.87h0.8v0.8h-0.8zM50.91 515.12h0.8v0.8h-0.8zM45.45 510.13h0.8v0.8h-0.8zM44.31 527.77h0.8v0.8h-0.8zM42.02 523.44h0.8v0.8h-0.8zM55.4 515.17h0.8v0.8h-0.8zM32.07 522.08h0.8v0.8h-0.8zM47.37 520.04h0.8v0.8h-0.8zM35.05 528.72h0.8v0.8h-0.8zM33.15 520.08h0.8v0.8h-0.8zM44.21 525.86h0.8v0.8h-0.8zM40.21 516.79h0.8v0.8h-0.8zM64.51 516.65h0.8v0.8h-0.8zM52.51 520.7h0.8v0.8h-0.8zM39.93 521.34h0.8v0.8h-0.8zM42.11 523.43h0.8v0.8h-0.8zM45.34 515.91h0.8v0.8h-0.8zM40.81 535.3h0.8v0.8h-0.8zM62.86 525.36h0.8v0.8h-0.8zM46.93 519.82h0.8v0.8h-0.8zM58.34 518.98h0.8v0.8h-0.8zM36.54 525.66h0.8v0.8h-0.8zM35.1 516.97h0.8v0.8h-0.8zM58.93 512.19h0.8v0.8h-0.8zM43.99 522.3h0.8v0.8h-0.8zM47.19 513.07h0.8v0.8h-0.8zM42.39 519.65h0.8v0.8h-0.8zM63.61 527.49h0.8v0.8h-0.8zM37.18 526.72h0.8v0.8h-0.8zM51.09 520.94h0.8v0.8h-0.8zM42.25 519.99h0.8v0.8h-0.8zM29.41 517.91h0.8v0.8h-0.8zM53.88 530.07h0.8v0.8h-0.8zM62.94 519.4h0.8v0.8h-0.8zM41.98 514.21h0.8v0.8h-0.8zM52.76 511.89h0.8v0.8h-0.8zM34.36 515.13h0.8v0.8h-0.8zM48.55 526.51h0.8v0.8h-0.8zM35.57 532.16h0.8v0.8h-0.8zM46.23 516.72h0.8v0.8h-0.8zM48.09 521.52h0.8v0.8h-0.8zM52.85 523.62h0.8v0.8h-0.8zM66.25 528.45h0.8v0.8h-0.8zM38.34 526.21h0.8v0.8h-0.8zM52.16 515.75h0.8v0.8h-0.8zM37.25 516.88h0.8v0.8h-0.8zM42.52 528.82h0.8v0.8h-0.8zM39.13 522.04h0.8v0.8h-0.8zM51.81 527.27h0.8v0.8h-0.8zM47.8 515.51h0.8v0.8h-0.8zM66.39 526.69h0.8v0.8h-0.8zM58.09 531.08h0.8v0.8h-0.8zM58.5 524.03h0.8v0.8h-0.8zM49.32 525.3h0.8v0.8h-0.8zM29.82 526.37h0.8v0.8h-0.8zM35.04 524.07h0.8v0.8h-0.8zM34.68 525.79h0.8v0.8h-0.8zM39.86 536.17h0.8v0.8h-0.8zM46.55 524.58h0.8v0.8h-0.8zM35.73 519.92h0.8v0.8h-0.8zM44.09 519.92h0.8v0.8h-0.8zM40.36 516.48h0.8v0.8h-0.8zM52.18 519.36h0.8v0.8h-0.8zM36.62 523.74h0.8v0.8h-0.8zM36.66 520.58h0.8v0.8h-0.8zM39.62 516.19h0.8v0.8h-0.8zM42.44 516.79h0.8v0.8h-0.8zM32.31 523.66h0.8v0.8h-0.8zM41.74 513.05h0.8v0.8h-0.8zM40.78 522.7h0.8v0.8h-0.8zM48.89 523.79h0.8v0.8h-0.8zM47.17 525.09h0.8v0.8h-0.8zM39.8 516.94h0.8v0.8h-0.8zM50.72 519.21h0.8v0.8h-0.8zM44.77 525.41h0.8v0.8h-0.8zM53.92 528.76h0.8v0.8h-0.8zM37.9 519.44h0.8v0.8h-0.8z" fill="#000" fill-opacity="0.5"/>
<path d="M108.88 519.78h0.9v0.9h-0.9zM98.15 528.72h0.9v0.9h-0.9zM101.97 522.01h0.9v0.9h-0.9zM110.34 528.38h0.9v0.9h-0.9zM111.02 524.6h0.9v0.9h-0.9zM103.89 524.57h0.9v0.9h-0.9zM107.35 517.16h0.9v0.9h-0.9zM101.51 529.16h0.9v0.9h-0.9zM100.99 525.77h0.9v0.9h-0.9zM106.34 528.34h0.9v0.9h-0.9zM102.79 521.09h0.9v0.9h-0.9zM120.35 522.92h0.9v0.9h-0.9zM115.7 518.36h0.9v0.9h-0.9zM106.25 525.2h0.9v0.9h-0.9zM116.79 534.99h0.9v0.9h-0.9zM111.37 521.62h0.9v0.9h-0.9zM100.86 522.76h0.9v0.9h-0.9zM102.55 527.2h0.9v0.9h-0.9zM100.96 524.98h0.9v0.9h-0.9zM114.29 532.36h0.9v0.9h-0.9zM103.4 531.73h0.9v0.9h-0.9zM103.65 534.41h0.9v0.9h-0.9zM107.76 532.34h0.9v0.9h-0.9zM100.54 524.7h0.9v0.9h-0.9zM111.62 528.55h0.9v0.9h-0.9zM106.66 528.81h0.9v0.9h-0.9zM101.86 533.67h0.9v0.9h-0.9zM106.5 532.39h0.9v0.9h-0.9zM107.98 526.42h0.9v0.9h-0.9zM103.73 520.96h0.9v0.9h-0.9zM110.71 529.36h0.9v0.9h-0.9zM111.11 524.41h0.9v0.9h-0.9zM99.68 524.4h0.9v0.9h-0.9zM103.77 526h0.9v0.9h-0.9zM111.41 522.07h0.9v0.9h-0.9zM102.74 529.07h0.9v0.9h-0.9zM110.94 535.72h0.9v0.9h-0.9zM108.71 522.36h0.9v0.9h-0.9zM99.48 522.61h0.9v0.9h-0.9zM106.03 527.16h0.9v0.9h-0.9zM105.22 523.38h0.9v0.9h-0.9zM104.53 525.72h0.9v0.9h-0.9zM109.11 526.42h0.9v0.9h-0.9zM100.84 520.95h0.9v0.9h-0.9zM114.35 525.68h0.9v0.9h-0.9zM104.58 525.95h0.9v0.9h-0.9zM112.26 524.69h0.9v0.9h-0.9zM106.65 525.02h0.9v0.9h-0.9zM109.03 521.65h0.9v0.9h-0.9zM106.82 530.54h0.9v0.9h-0.9zM112.6 528.75h0.9v0.9h-0.9zM107.35 532.92h0.9v0.9h-0.9zM109.79 532.16h0.9v0.9h-0.9zM98.55 521.27h0.9v0.9h-0.9zM110.33 524.9h0.9v0.9h-0.9zM103.08 521.92h0.9v0.9h-0.9zM114.36 520.86h0.9v0.9h-0.9zM106.24 519.98h0.9v0.9h-0.9zM104.6 535.85h0.9v0.9h-0.9zM119.95 523.91h0.9v0.9h-0.9zM99.68 533.16h0.9v0.9h-0.9zM100.59 518.28h0.9v0.9h-0.9zM107.67 521.36h0.9v0.9h-0.9zM97.09 530.96h0.9v0.9h-0.9zM101.33 521.42h0.9v0.9h-0.9zM106.62 525.23h0.9v0.9h-0.9zM112.23 526.47h0.9v0.9h-0.9zM114.99 531.01h0.9v0.9h-0.9zM116.1 530.94h0.9v0.9h-0.9zM106.05 528.43h0.9v0.9h-0.9zM105.76 519.28h0.9v0.9h-0.9zM98.72 529.28h0.9v0.9h-0.9zM98.08 525.78h0.9v0.9h-0.9zM99.54 527.15h0.9v0.9h-0.9zM104.48 524.02h0.9v0.9h-0.9zM100.66 516.38h0.9v0.9h-0.9zM106.07 520.43h0.9v0.9h-0.9zM103.9 527.67h0.9v0.9h-0.9zM111.8 529.12h0.9v0.9h-0.9zM114.33 519.88h0.9v0.9h-0.9zM109.61 532.89h0.9v0.9h-0.9zM107.96 521.23h0.9v0.9h-0.9zM107.98 523.8h0.9v0.9h-0.9zM101.86 530.69h0.9v0.9h-0.9zM104.6 521.19h0.9v0.9h-0.9zM101.67 534.61h0.9v0.9h-0.9zM100.68 529h0.9v0.9h-0.9zM106.69 531.15h0.9v0.9h-0.9zM104 521.95h0.9v0.9h-0.9zM101.88 521.58h0.9v0.9h-0.9zM120.87 526.91h0.9v0.9h-0.9zM103.76 531.54h0.9v0.9h-0.9zM109.5 525.27h0.9v0.9h-0.9zM109.29 527.24h0.9v0.9h-0.9zM112.26 533.25h0.9v0.9h-0.9zM103.8 525.91h0.9v0.9h-0.9zM104.58 531.38h0.9v0.9h-0.9zM107.9 529.47h0.9v0.9h-0.9zM110.92 523.3h0.9v0.9h-0.9zM106.4 532.09h0.9v0.9h-0.9zM111.07 529.6h0.9v0.9h-0.9zM104 524.5h0.9v0.9h-0.9zM100.62 524.89h0.9v0.9h-0.9zM105.27 519.83h0.9v0.9h-0.9zM112.46 522.74h0.9v0.9h-0.9zM107.12 528.68h0.9v0.9h-0.9zM102.41 518.19h0.9v0.9h-0.9zM111.31 527.84h0.9v0.9h-0.9zM104.17 530.99h0.9v0.9h-0.9zM110.9 521.91h0.9v0.9h-0.9zM105.18 518.4h0.9v0.9h-0.9zM104.11 532.2h0.9v0.9h-0.9zM100.73 529.65h0.9v0.9h-0.9zM111.17 533.54h0.9v0.9h-0.9zM108.31 529.36h0.9v0.9h-0.9zM115.72 515.44h0.9v0.9h-0.9zM120.1 528.66h0.9v0.9h-0.9zM106.04 527.19h0.9v0.9h-0.9zM105.82 523.39h0.9v0.9h-0.9zM105.56 525.52h0.9v0.9h-0.9zM109.57 529.02h0.9v0.9h-0.9zM111.39 528.62h0.9v0.9h-0.9zM99.97 532.12h0.9v0.9h-0.9zM107.59 523.76h0.9v0.9h-0.9zM116.6 521.31h0.9v0.9h-0.9zM98.81 523.86h0.9v0.9h-0.9zM108.1 529.52h0.9v0.9h-0.9zM106.29 528.97h0.9v0.9h-0.9zM101.54 523.43h0.9v0.9h-0.9zM106.42 520.21h0.9v0.9h-0.9zM106.75 524.35h0.9v0.9h-0.9zM109.64 521.66h0.9v0.9h-0.9zM102.56 523.6h0.9v0.9h-0.9zM103.51 521.72h0.9v0.9h-0.9zM104.13 520.18h0.9v0.9h-0.9zM108.78 528.98h0.9v0.9h-0.9zM105.56 525.24h0.9v0.9h-0.9zM100.46 521.89h0.9v0.9h-0.9zM104.37 522.13h0.9v0.9h-0.9zM98.79 526.79h0.9v0.9h-0.9zM105.54 524.3h0.9v0.9h-0.9zM100.91 525.83h0.9v0.9h-0.9zM101.61 524.19h0.9v0.9h-0.9zM106.73 529.19h0.9v0.9h-0.9zM110.05 523.42h0.9v0.9h-0.9zM112.69 521.03h0.9v0.9h-0.9zM104.65 531.73h0.9v0.9h-0.9zM119.47 526.62h0.9v0.9h-0.9zM103.56 524.44h0.9v0.9h-0.9zM98.58 525.43h0.9v0.9h-0.9zM103.18 522.78h0.9v0.9h-0.9zM112.62 522.68h0.9v0.9h-0.9zM115.5 529.72h0.9v0.9h-0.9zM109.38 523.51h0.9v0.9h-0.9zM102.69 517.38h0.9v0.9h-0.9zM107.24 524.89h0.9v0.9h-0.9zM107.9 523.14h0.9v0.9h-0.9zM108.48 519.56h0.9v0.9h-0.9zM113.12 524.54h0.9v0.9h-0.9zM104.7 519.37h0.9v0.9h-0.9zM99.84 529.15h0.9v0.9h-0.9zM101.37 525.9h0.9v0.9h-0.9zM104.75 534.71h0.9v0.9h-0.9zM110.82 520.32h0.9v0.9h-0.9zM102.85 521.07h0.9v0.9h-0.9zM97.58 523.09h0.9v0.9h-0.9zM112.04 526.27h0.9v0.9h-0.9zM109.55 525.47h0.9v0.9h-0.9zM103.19 526.42h0.9v0.9h-0.9zM105.2 534.44h0.9v0.9h-0.9zM116.07 527.7h0.9v0.9h-0.9zM109.14 517.4h0.9v0.9h-0.9zM104.93 536.46h0.9v0.9h-0.9zM101 529.6h0.9v0.9h-0.9zM112.72 524.33h0.9v0.9h-0.9zM104.33 524.08h0.9v0.9h-0.9zM110.25 526.16h0.9v0.9h-0.9zM114.36 531.22h0.9v0.9h-0.9zM105.58 537.36h0.9v0.9h-0.9zM103.85 523.41h0.9v0.9h-0.9zM104.27 522.23h0.9v0.9h-0.9zM103.2 525.75h0.9v0.9h-0.9zM110.8 519.18h0.9v0.9h-0.9zM97.52 522.7h0.9v0.9h-0.9zM103.87 528.04h0.9v0.9h-0.9zM101.07 532.63h0.9v0.9h-0.9zM102.57 525.12h0.9v0.9h-0.9zM105.95 531.15h0.9v0.9h-0.9zM107.36 526.17h0.9v0.9h-0.9zM102.49 526.8h0.9v0.9h-0.9zM107.96 524.53h0.9v0.9h-0.9zM105.5 518.04h0.9v0.9h-0.9zM102.55 531.21h0.9v0.9h-0.9zM113.85 525.74h0.9v0.9h-0.9zM104.64 537.25h0.9v0.9h-0.9zM103.24 530.43h0.9v0.9h-0.9zM102.06 532.04h0.9v0.9h-0.9zM112.33 521.42h0.9v0.9h-0.9zM113.12 538.52h0.9v0.9h-0.9zM104.34 520.78h0.9v0.9h-0.9zM107.23 524.31h0.9v0.9h-0.9zM107.04 519.42h0.9v0.9h-0.9zM111.87 528.02h0.9v0.9h-0.9zM104.58 532.17h0.9v0.9h-0.9zM100.27 529.05h0.9v0.9h-0.9zM97.78 524.64h0.9v0.9h-0.9zM109.32 523.72h0.9v0.9h-0.9zM104.95 528.89h0.9v0.9h-0.9zM114.43 531.74h0.9v0.9h-0.9zM108.27 524.92h0.9v0.9h-0.9zM97.25 533.55h0.9v0.9h-0.9zM116.46 516.65h0.9v0.9h-0.9zM110.65 525.87h0.9v0.9h-0.9zM109.71 527.43h0.9v0.9h-0.9zM104.5 526.04h0.9v0.9h-0.9zM105.4 531.14h0.9v0.9h-0.9zM104.1 523.68h0.9v0.9h-0.9zM109.39 528.87h0.9v0.9h-0.9zM108.13 527.29h0.9v0.9h-0.9zM114.13 530.92h0.9v0.9h-0.9zM106.84 525.13h0.9v0.9h-0.9zM109.43 517.88h0.9v0.9h-0.9zM102.6 522.96h0.9v0.9h-0.9zM106.6 524.37h0.9v0.9h-0.9zM119.84 529.28h0.9v0.9h-0.9zM107.94 535.89h0.9v0.9h-0.9zM105.6 524.66h0.9v0.9h-0.9zM112.72 529.68h0.9v0.9h-0.9zM110.95 531.34h0.9v0.9h-0.9zM103.51 523.17h0.9v0.9h-0.9zM101.45 526.51h0.9v0.9h-0.9zM111.4 521.46h0.9v0.9h-0.9zM102.52 520.2h0.9v0.9h-0.9zM117.15 529.55h0.9v0.9h-0.9zM106.87 520.73h0.9v0.9h-0.9zM99.66 523.23h0.9v0.9h-0.9zM105.8 520.5h0.9v0.9h-0.9zM104.3 531.39h0.9v0.9h-0.9zM105.68 526.49h0.9v0.9h-0.9zM104.76 523.02h0.9v0.9h-0.9zM97.62 525.74h0.9v0.9h-0.9zM99.7 523.66h0.9v0.9h-0.9zM110.85 522.37h0.9v0.9h-0.9zM107.48 519.41h0.9v0.9h-0.9zM108.95 528.43h0.9v0.9h-0.9zM103.37 529.93h0.9v0.9h-0.9zM100.55 526.26h0.9v0.9h-0.9zM115.31 525.95h0.9v0.9h-0.9zM99.13 531.1h0.9v0.9h-0.9zM108.7 524.84h0.9v0.9h-0.9zM107.3 522.32h0.9v0.9h-0.9zM112.25 532.47h0.9v0.9h-0.9zM100.74 528.17h0.9v0.9h-0.9zM116.07 519.86h0.9v0.9h-0.9zM105.93 523.27h0.9v0.9h-0.9zM105.07 526.44h0.9v0.9h-0.9zM107.22 529.96h0.9v0.9h-0.9zM108.56 530.64h0.9v0.9h-0.9zM111.45 530.87h0.9v0.9h-0.9zM101.72 527.85h0.9v0.9h-0.9zM103.45 522.36h0.9v0.9h-0.9zM116.88 527.33h0.9v0.9h-0.9zM105.87 516.82h0.9v0.9h-0.9zM104.27 529.44h0.9v0.9h-0.9zM104.43 523.66h0.9v0.9h-0.9zM114.09 524.68h0.9v0.9h-0.9zM103.69 525.61h0.9v0.9h-0.9zM104.24 530.67h0.9v0.9h-0.9zM108.88 525.74h0.9v0.9h-0.9zM103.53 525.06h0.9v0.9h-0.9zM115.34 524.71h0.9v0.9h-0.9zM109.36 519.13h0.9v0.9h-0.9zM107.46 529.07h0.9v0.9h-0.9zM112.92 527.44h0.9v0.9h-0.9zM108.93 527.47h0.9v0.9h-0.9zM111.74 535.04h0.9v0.9h-0.9zM106.76 522.47h0.9v0.9h-0.9zM109.03 525.57h0.9v0.9h-0.9zM109.28 529.46h0.9v0.9h-0.9zM106.49 524.12h0.9v0.9h-0.9zM107.37 520.58h0.9v0.9h-0.9zM107.18 522.16h0.9v0.9h-0.9zM108.19 526.59h0.9v0.9h-0.9zM104.35 520.77h0.9v0.9h-0.9zM105.9 523.07h0.9v0.9h-0.9zM104.79 529.1h0.9v0.9h-0.9zM111.08 520.4h0.9v0.9h-0.9zM110.98 532.03h0.9v0.9h-0.9zM112.08 527.27h0.9v0.9h-0.9zM105.09 533.7h0.9v0.9h-0.9zM103.77 519.35h0.9v0.9h-0.9zM106.13 527.31h0.9v0.9h-0.9zM99.66 520.71h0.9v0.9h-0.9zM116.99 526.55h0.9v0.9h-0.9zM110.09 523.49h0.9v0.9h-0.9zM113.31 523.12h0.9v0.9h-0.9zM104 526.12h0.9v0.9h-0.9zM99.62 524.69h0.9v0.9h-0.9zM102.49 529.93h0.9v0.9h-0.9zM106.48 529.88h0.9v0.9h-0.9zM105.32 516.68h0.9v0.9h-0.9zM110.64 529.89h0.9v0.9h-0.9zM105.19 518.21h0.9v0.9h-0.9zM102.79 527.83h0.9v0.9h-0.9zM113.53 524.54h0.9v0.9h-0.9zM102.39 522.65h0.9v0.9h-0.9zM111.46 529.87h0.9v0.9h-0.9zM100.33 519.59h0.9v0.9h-0.9zM118.92 537.27h0.9v0.9h-0.9zM98.48 523.1h0.9v0.9h-0.9zM106.52 527.88h0.9v0.9h-0.9zM102.87 519.09h0.9v0.9h-0.9zM103.25 523.06h0.9v0.9h-0.9zM97.2 518.42h0.9v0.9h-0.9zM114.32 530.18h0.9v0.9h-0.9zM113.93 526.57h0.9v0.9h-0.9zM103.25 525.67h0.9v0.9h-0.9zM97.77 529.31h0.9v0.9h-0.9zM107.17 524.72h0.9v0.9h-0.9zM114.96 532.42h0.9v0.9h-0.9zM110.64 524.5h0.9v0.9h-0.9zM106.41 528.49h0.9v0.9h-0.9zM106.74 530.65h0.9v0.9h-0.9zM101.79 515.86h0.9v0.9h-0.9zM97.68 528.97h0.9v0.9h-0.9zM111.8 526.05h0.9v0.9h-0.9zM108.71 526.39h0.9v0.9h-0.9zM106.62 523.98h0.9v0.9h-0.9zM103.3 531.28h0.9v0.9h-0.9zM104.08 525.87h0.9v0.9h-0.9zM112.48 530.38h0.9v0.9h-0.9zM103.37 527.16h0.9v0.9h-0.9zM99.81 526.63h0.9v0.9h-0.9zM107.43 526.05h0.9v0.9h-0.9zM106.55 527.66h0.9v0.9h-0.9zM106.06 523.89h0.9v0.9h-0.9zM100.08 525.01h0.9v0.9h-0.9zM114.86 525.05h0.9v0.9h-0.9zM101.88 523.94h0.9v0.9h-0.9zM98.79 528.18h0.9v0.9h-0.9zM99.96 530.06h0.9v0.9h-0.9zM110.84 528.57h0.9v0.9h-0.9zM111.59 525.68h0.9v0.9h-0.9zM109.29 519.26h0.9v0.9h-0.9zM98.6 530.87h0.9v0.9h-0.9zM108.14 531.98h0.9v0.9h-0.9zM109.45 526.34h0.9v0.9h-0.9zM108.09 529.79h0.9v0.9h-0.9zM105.46 525.13h0.9v0.9h-0.9zM107.43 524.67h0.9v0.9h-0.9zM119.48 522.68h0.9v0.9h-0.9zM111.64 524.27h0.9v0.9h-0.9zM106.54 525.11h0.9v0.9h-0.9zM107.22 519.67h0.9v0.9h-0.9z" fill="#000" fill-opacity="0.7"/>
<path d="M129.02 528.65h1v1h-1zM134.3 532.51h1v1h-1zM121.92 527.38h1v1h-1zM131.57 534.36h1v1h-1zM132.62 530.01h1v1h-1zM134.44 522.89h1v1h-1zM125.74 527.35h1v1h-1zM123.12 532.32h1v1h-1zM130.03 531.42h1v1h-1zM127.87 532.5h1v1h-1zM132.71 528.65h1v1h-1zM133.52 527.51h1v1h-1zM137.89 526.3h1v1h-1zM127.05 527.01h1v1h-1zM128.78 534.75h1v1h-1zM124.6 536.24h1v1h-1zM136.05 531.75h1v1h-1zM125.45 533.42h1v1h-1zM113.42 528.03h1v1h-1zM133.67 530.37h1v1h-1zM121.51 529.81h1v1h-1zM131.64 536.01h1v1h-1zM119.22 531.01h1v1h-1zM135.28 528.33h1v1h-1zM126.15 526.58h1v1h-1zM132.65 533.18h1v1h-1zM131.71 531.3h1v1h-1zM133.84 530.11h1v1h-1zM132.38 533.15h1v1h-1zM135.49 532.16h1v1h-1zM129.02 532.79h1v1h-1zM120.33 524.8h1v1h-1zM137.18 530.95h1v1h-1zM122.97 528.62h1v1h-1zM127.78 530.73h1v1h-1zM124.5 533.72h1v1h-1zM119.49 539.58h1v1h-1zM122.79 535.88h1v1h-1zM132.14 525.05h1v1h-1zM122.04 530.7h1v1h-1zM130.03 529.13h1v1h-1zM128.64 531.03h1v1h-1zM122.46 530.7h1v1h-1zM140.72 528.41h1v1h-1zM123.15 532.65h1v1h-1zM135.77 533.88h1v1h-1zM125.19 530.26h1v1h-1zM129.66 529.82h1v1h-1zM130.71 534.02h1v1h-1zM131.5 530.47h1v1h-1zM127.49 536.31h1v1h-1zM121.98 537.01h1v1h-1zM132.53 530.79h1v1h-1zM124.58 536.46h1v1h-1zM135.09 533.46h1v1h-1zM139.77 524.67h1v1h-1zM129.11 529.5h1v1h-1zM124.66 530.75h1v1h-1zM131.46 532.21h1v1h-1zM127.83 526.2h1v1h-1zM131.58 532.48h1v1h-1zM139.99 533.54h1v1h-1zM128.66 526.77h1v1h-1zM129.63 532.94h1v1h-1zM131.29 534.83h1v1h-1zM123 528.26h1v1h-1zM129.51 526.49h1v1h-1zM125.27 535h1v1h-1zM130.17 530.17h1v1h-1zM125.5 530.66h1v1h-1zM128.39 526.99h1v1h-1zM132.84 526.33h1v1h-1zM135.5 529.4h1v1h-1zM116.22 525.45h1v1h-1zM130.14 527.67h1v1h-1zM138.38 535.01h1v1h-1zM139.98 533.41h1v1h-1zM135.9 528.53h1v1h-1zM135.63 529.08h1v1h-1zM128.31 526.06h1v1h-1zM128.88 531.82h1v1h-1zM128.24 526.89h1v1h-1zM133.49 533.48h1v1h-1zM128.1 533.06h1v1h-1zM133.94 527.29h1v1h-1zM128.38 524.42h1v1h-1zM122.94 531.9h1v1h-1zM123.79 531.78h1v1h-1zM130.54 523.76h1v1h-1zM125.92 535.47h1v1h-1zM128.65 530.91h1v1h-1zM124.73 525.26h1v1h-1zM119.9 539.92h1v1h-1zM127.56 527.65h1v1h-1zM129.18 524.15h1v1h-1zM136.21 536.11h1v1h-1zM124.47 531.56h1v1h-1zM123.65 533.31h1v1h-1zM123.97 530.03h1v1h-1zM135.72 532.22h1v1h-1zM126.79 525.52h1v1h-1zM119.85 534.45h1v1h-1zM131.38 530.69h1v1h-1zM135.45 530.98h1v1h-1zM124.59 530.16h1v1h-1zM128.04 530.46h1v1h-1zM130.07 529.68h1v1h-1zM124.84 527.24h1v1h-1zM118.27 528.99h1v1h-1zM120.24 524.41h1v1h-1zM123.42 523.83h1v1h-1zM136.11 534.6h1v1h-1zM123.26 537.23h1v1h-1zM132.19 522.2h1v1h-1zM128.68 527.22h1v1h-1zM119 529.64h1v1h-1zM134.9 531.96h1v1h-1zM120.54 528.32h1v1h-1zM124.39 534.27h1v1h-1zM128.03 527.28h1v1h-1zM123.55 524.01h1v1h-1zM123.92 533.45h1v1h-1zM118.05 531.14h1v1h-1zM127.94 533.19h1v1h-1zM122.26 533.5h1v1h-1zM137.11 538.05h1v1h-1zM119.6 530.4h1v1h-1zM127.4 530.91h1v1h-1zM123.11 533.33h1v1h-1zM141.47 535.47h1v1h-1zM123.29 528.6h1v1h-1zM132.57 530.95h1v1h-1zM124.35 534.58h1v1h-1zM131.41 533.88h1v1h-1zM127.58 534.72h1v1h-1zM125.98 526.81h1v1h-1zM128.51 525.89h1v1h-1zM135.46 532.92h1v1h-1zM119.27 531.07h1v1h-1zM133.22 529.32h1v1h-1zM130.84 528.57h1v1h-1zM128.16 530.22h1v1h-1zM131.21 527.3h1v1h-1zM122.31 531.59h1v1h-1zM125.73 532.21h1v1h-1zM125.76 526.17h1v1h-1zM132.61 531.38h1v1h-1zM132.58 529.38h1v1h-1zM126.55 534.67h1v1h-1zM119.19 536.25h1v1h-1zM131.37 530.31h1v1h-1zM129.03 532.5h1v1h-1zM124.27 531.42h1v1h-1zM123.26 524.39h1v1h-1zM129.64 530.83h1v1h-1zM132.11 532.34h1v1h-1zM132.4 533.12h1v1h-1zM122.7 534.52h1v1h-1zM121.57 532.77h1v1h-1zM133.59 533.85h1v1h-1zM137.01 525.91h1v1h-1zM130.61 532.03h1v1h-1zM135.44 527.55h1v1h-1zM128.66 529.27h1v1h-1zM127.63 530.02h1v1h-1zM127.69 524.65h1v1h-1zM128.32 530.72h1v1h-1zM126.39 518.75h1v1h-1zM124.68 528.34h1v1h-1zM123.71 535.8h1v1h-1zM133.64 529.89h1v1h-1zM131.85 541.4h1v1h-1zM123.16 532.07h1v1h-1zM125.21 535.42h1v1h-1zM134.65 530.09h1v1h-1zM131.91 527.86h1v1h-1zM119.76 533.29h1v1h-1zM137.57 529.49h1v1h-1zM125.61 524.56h1v1h-1zM140.4 526.53h1v1h-1zM123.16 529.86h1v1h-1zM135.22 530.68h1v1h-1zM128.41 530.57h1v1h-1zM133.21 530.38h1v1h-1zM129.39 530.26h1v1h-1zM122.37 534.95h1v1h-1zM124.68 526.13h1v1h-1zM126.1 530.61h1v1h-1zM133.05 525.63h1v1h-1zM121.5 531.09h1v1h-1zM130.63 526.86h1v1h-1zM122.24 531.08h1v1h-1zM127.72 525.14h1v1h-1zM123.66 535.42h1v1h-1zM122.66 533.98h1v1h-1zM120.04 535.42h1v1h-1zM137.37 528.4h1v1h-1zM124.74 532.58h1v1h-1zM121.65 532.33h1v1h-1zM135.25 531.37h1v1h-1zM130.3 529.98h1v1h-1zM134.06 527.79h1v1h-1zM137.31 530.42h1v1h-1zM126.71 525.09h1v1h-1zM126.08 531.29h1v1h-1zM135.39 525.15h1v1h-1zM127.81 528.23h1v1h-1zM121.89 530.52h1v1h-1zM124.31 533.39h1v1h-1zM113.61 532.94h1v1h-1zM117.99 524.04h1v1h-1zM131.38 529.38h1v1h-1zM129.22 527.3h1v1h-1zM122.71 528.06h1v1h-1zM128.2 527.71h1v1h-1zM126.19 527.65h1v1h-1zM129.8 526.73h1v1h-1zM117.01 521.8h1v1h-1zM128.4 530.82h1v1h-1zM133.82 528.04h1v1h-1zM122.21 525.56h1v1h-1zM132.69 528.43h1v1h-1zM133.96 530.24h1v1h-1zM126.99 524.34h1v1h-1zM124.77 533.11h1v1h-1zM125.14 532.75h1v1h-1zM119.42 533.86h1v1h-1zM130.28 526.41h1v1h-1zM125.59 528.33h1v1h-1zM129.53 523.81h1v1h-1zM123.73 533.12h1v1h-1zM129.31 532.96h1v1h-1zM133.22 526.71h1v1h-1zM121.06 532.04h1v1h-1zM128.69 530.76h1v1h-1zM124.01 533.87h1v1h-1zM131.24 534.28h1v1h-1zM126.55 532.79h1v1h-1zM128.18 527.38h1v1h-1zM128.06 525.02h1v1h-1zM127.51 531.09h1v1h-1zM132.34 527.01h1v1h-1zM121.17 528.08h1v1h-1zM117.07 528.33h1v1h-1zM124.31 528.25h1v1h-1zM138.26 526.64h1v1h-1zM127.87 530.24h1v1h-1zM124.45 528.12h1v1h-1zM119.24 527.72h1v1h-1zM135.67 535.19h1v1h-1zM126.95 532.83h1v1h-1zM131.04 530.86h1v1h-1zM127.75 534.52h1v1h-1zM131.64 529.75h1v1h-1zM127.21 533.59h1v1h-1zM125.22 528.12h1v1h-1zM126.99 528.85h1v1h-1zM135.47 531.68h1v1h-1zM128.02 528.75h1v1h-1zM136.31 531.96h1v1h-1zM139.99 533.51h1v1h-1zM127.31 528.68h1v1h-1zM126.93 531.1h1v1h-1zM132.86 532.11h1v1h-1zM137.16 525.47h1v1h-1zM128.66 525.8h1v1h-1zM122.82 528.51h1v1h-1zM124.91 527.29h1v1h-1zM120.12 534.27h1v1h-1zM126.73 533.7h1v1h-1zM122.4 522.82h1v1h-1zM125.22 533.41h1v1h-1zM125.42 531.81h1v1h-1zM122.56 535.11h1v1h-1zM130.89 533.98h1v1h-1zM126.97 534.74h1v1h-1zM128.9 528.88h1v1h-1zM124.97 530.68h1v1h-1zM123.49 526.55h1v1h-1zM129.22 532.85h1v1h-1zM126.89 533.28h1v1h-1zM137.24 526.31h1v1h-1zM129.92 527.31h1v1h-1zM124.95 531.09h1v1h-1zM115.42 532.5h1v1h-1zM133.13 532.29h1v1h-1zM132.07 536.5h1v1h-1zM126.48 534.12h1v1h-1zM136.48 532.12h1v1h-1zM118.66 529.98h1v1h-1zM126.88 525.14h1v1h-1zM128.17 533h1v1h-1zM127.07 529.9h1v1h-1zM136.6 528.46h1v1h-1zM123.3 530.63h1v1h-1zM134.68 532.46h1v1h-1zM128.9 528.87h1v1h-1zM135.3 533.43h1v1h-1zM118.93 531.6h1v1h-1zM115.23 535.45h1v1h-1zM131.87 528.41h1v1h-1zM121.38 529.5h1v1h-1zM118.84 532.37h1v1h-1zM125.68 524.64h1v1h-1zM128.38 534.41h1v1h-1zM121.49 529.32h1v1h-1zM138.51 531.11h1v1h-1zM125.43 531.12h1v1h-1zM132.8 527.17h1v1h-1zM127.95 525.09h1v1h-1zM119.76 525.4h1v1h-1zM133.15 531.52h1v1h-1zM132.53 534.52h1v1h-1zM128.75 531.28h1v1h-1zM130.73 532.04h1v1h-1zM122.63 529.59h1v1h-1zM127.66 530.61h1v1h-1zM124.36 530.05h1v1h-1zM130.08 531.11h1v1h-1zM131.75 533.21h1v1h-1zM131.57 533.69h1v1h-1zM133.13 535.11h1v1h-1zM131.96 528.45h1v1h-1zM141.33 534.23h1v1h-1zM135.38 532.91h1v1h-1zM128.76 526.71h1v1h-1zM130.91 529.32h1v1h-1zM126.29 523.43h1v1h-1zM137.04 526.63h1v1h-1zM122.43 532.04h1v1h-1zM131.62 527.87h1v1h-1zM128.45 531.33h1v1h-1zM129.36 532.24h1v1h-1zM132.77 529.28h1v1h-1zM119.56 537.65h1v1h-1zM126.37 527.22h1v1h-1zM132.63 532.44h1v1h-1zM125.09 538.27h1v1h-1zM115.53 534.73h1v1h-1zM128.28 531.52h1v1h-1zM130.25 529.73h1v1h-1zM130.25 526.19h1v1h-1zM126.3 536.61h1v1h-1zM114.27 534.57h1v1h-1zM116.17 527.68h1v1h-1zM133.34 529.14h1v1h-1zM125.3 525.53h1v1h-1zM127.83 529.91h1v1h-1zM124.97 525.33h1v1h-1zM129.35 531.88h1v1h-1zM134.78 532.2h1v1h-1zM136.88 534.46h1v1h-1zM112.91 536.01h1v1h-1zM127.92 527.03h1v1h-1zM130.88 533.67h1v1h-1zM119.95 526.41h1v1h-1zM132.29 528.66h1v1h-1zM136.54 531.21h1v1h-1zM125.46 526.1h1v1h-1zM131.8 524.8h1v1h-1zM121.3 526.15h1v1h-1zM137.89 536.14h1v1h-1zM127.27 529.23h1v1h-1zM132.36 534.62h1v1h-1zM124.04 537.79h1v1h-1zM127.35 534.24h1v1h-1zM115.45 530.32h1v1h-1zM124.65 537.07h1v1h-1zM127.31 526.28h1v1h-1zM139.26 528.23h1v1h-1zM128.48 526.36h1v1h-1zM132.24 531.13h1v1h-1zM126.9 529.16h1v1h-1zM125.34 528.11h1v1h-1zM120.72 534.49h1v1h-1zM133.43 525.89h1v1h-1zM122.06 531.85h1v1h-1zM141 529.82h1v1h-1zM126.76 529.66h1v1h-1zM129.87 529.92h1v1h-1zM134.48 533.75h1v1h-1zM131.54 535.71h1v1h-1zM127.22 528.67h1v1h-1zM119.88 522.69h1v1h-1zM130.47 526.96h1v1h-1zM134.35 523.55h1v1h-1zM127.74 529.2h1v1h-1zM122.53 534.2h1v1h-1zM126.29 531.99h1v1h-1zM125.58 530.99h1v1h-1zM126.02 530.74h1v1h-1zM127.94 528.24h1v1h-1zM130.91 529.88h1v1h-1zM123.14 527.02h1v1h-1zM130.94 534.9h1v1h-1zM121.25 529.11h1v1h-1zM130.98 533.95h1v1h-1zM132.43 526.57h1v1h-1zM128.7 533.47h1v1h-1zM129.82 529.75h1v1h-1zM121.96 531.04h1v1h-1zM128.14 530.6h1v1h-1zM136.79 534.43h1v1h-1zM124.11 531.26h1v1h-1zM126.78 530.82h1v1h-1zM137.52 533.53h1v1h-1zM128.72 528.32h1v1h-1zM127.6 531.7h1v1h-1zM125.74 534.15h1v1h-1zM128.61 526.58h1v1h-1zM139.79 520.89h1v1h-1zM127.01 530.1h1v1h-1zM133.96 534.19h1v1h-1zM136.55 535.66h1v1h-1zM130.25 530.87h1v1h-1zM134.12 530.41h1v1h-1zM121.53 528.99h1v1h-1zM132.16 532.52h1v1h-1zM122.39 534.46h1v1h-1zM130.21 525.52h1v1h-1zM131.08 533.83h1v1h-1zM131.44 529.47h1v1h-1zM124.07 534.21h1v1h-1zM129.75 530.48h1v1h-1zM126.29 527.08h1v1h-1zM118.14 529.36h1v1h-1zM134.62 533.02h1v1h-1zM124.73 535.56h1v1h-1zM127.24 527.16h1v1h-1zM133.9 535.08h1v1h-1zM126.35 526.45h1v1h-1zM128.14 522.45h1v1h-1zM128.79 535.54h1v1h-1zM130.01 528.07h1v1h-1zM132.41 528.86h1v1h-1zM135.49 529.31h1v1h-1zM139.76 529.33h1v1h-1zM129.55 527.39h1v1h-1zM121.43 531.64h1v1h-1zM130.44 527.28h1v1h-1zM131.59 529.13h1v1h-1zM125.45 530.26h1v1h-1zM130.68 532.9h1v1h-1zM135.33 531.76h1v1h-1zM124.48 528.23h1v1h-1zM130.54 526.54h1v1h-1zM127.56 529.23h1v1h-1zM127.95 531.1h1v1h-1zM134.25 535.92h1v1h-1zM133.38 533.84h1v1h-1zM122.6 533.93h1v1h-1zM135.65 526.01h1v1h-1zM115.35 536.34h1v1h-1zM128.85 527.85h1v1h-1zM125.34 534.04h1v1h-1zM129.92 529.26h1v1h-1zM134.85 527.39h1v1h-1zM123.81 528.64h1v1h-1zM124.37 532.78h1v1h-1zM127.23 527.01h1v1h-1zM125.96 523.93h1v1h-1zM129.42 530.83h1v1h-1zM131.86 529.72h1v1h-1zM130.7 527.41h1v1h-1zM128.64 531.01h1v1h-1zM121.79 532.44h1v1h-1zM129.29 530.67h1v1h-1zM125.86 537.12h1v1h-1zM128.5 527.96h1v1h-1zM123.81 532.45h1v1h-1zM127.34 527.89h1v1h-1zM124.51 533.58h1v1h-1zM128.97 533.98h1v1h-1zM128.41 526.59h1v1h-1zM133.28 531.55h1v1h-1zM124.89 529.48h1v1h-1zM123.14 533.24h1v1h-1zM126.2 532.08h1v1h-1zM129.93 529.64h1v1h-1zM130.54 529.68h1v1h-1zM121.99 529.12h1v1h-1zM122 532.99h1v1h-1zM132.08 528.56h1v1h-1zM131.91 531.31h1v1h-1zM133.87 527.41h1v1h-1zM128.64 527.22h1v1h-1zM124.73 535.02h1v1h-1zM117.43 527.48h1v1h-1zM131.18 533.06h1v1h-1zM124.18 523.79h1v1h-1zM119.03 531.71h1v1h-1zM134.57 533.49h1v1h-1zM124.46 534.96h1v1h-1zM127.46 532.53h1v1h-1zM127.44 535.75h1v1h-1zM125.65 523.41h1v1h-1zM126.77 531.13h1v1h-1zM130.03 528.13h1v1h-1zM127.22 526.75h1v1h-1zM127.21 530.78h1v1h-1zM129.82 535.92h1v1h-1zM117.5 532.21h1v1h-1zM130.88 526.68h1v1h-1zM128.89 530.48h1v1h-1zM122.98 532.88h1v1h-1zM139 532.72h1v1h-1zM132.77 534.01h1v1h-1zM127.79 533.71h1v1h-1zM124.06 531.09h1v1h-1zM132.37 534.81h1v1h-1zM126.92 529.54h1v1h-1zM131.07 530.24h1v1h-1zM129.25 533.14h1v1h-1zM124.29 533.38h1v1h-1zM130.58 529.63h1v1h-1zM121.63 528.42h1v1h-1zM128.26 533.59h1v1h-1zM117.7 532.84h1v1h-1zM129.56 526.78h1v1h-1zM133.2 531.8h1v1h-1zM130.89 527.28h1v1h-1zM122.43 533.48h1v1h-1zM136.19 531.7h1v1h-1zM127.44 529.02h1v1h-1zM119.11 533.73h1v1h-1zM127.98 534.54h1v1h-1zM124.55 533.95h1v1h-1zM124.59 532.42h1v1h-1zM136.02 528.19h1v1h-1zM133.47 530.48h1v1h-1zM123.37 531.16h1v1h-1zM132.03 528.16h1v1h-1zM127.04 528.64h1v1h-1zM124.29 529.81h1v1h-1zM133 528.87h1v1h-1zM135.3 529.25h1v1h-1zM124.73 534.01h1v1h-1zM136.17 528.37h1v1h-1zM131.7 526.69h1v1h-1zM126.28 529.27h1v1h-1zM132.37 526.39h1v1h-1zM125.71 528.24h1v1h-1zM129.05 526.47h1v1h-1zM121.2 539.75h1v1h-1zM129.66 525.58h1v1h-1zM133.04 526.2h1v1h-1zM118.23 535.95h1v1h-1zM135.31 527.75h1v1h-1zM122.55 532.05h1v1h-1zM139.56 532.46h1v1h-1zM132.09 526.62h1v1h-1zM118.8 531.76h1v1h-1zM134.01 530.95h1v1h-1zM128.47 535.02h1v1h-1zM123.92 534.08h1v1h-1zM133.02 528.46h1v1h-1zM129.17 530.85h1v1h-1zM131.66 527.31h1v1h-1zM127.23 530.79h1v1h-1zM128.65 530.57h1v1h-1zM129.86 529.87h1v1h-1zM125.79 533.86h1v1h-1zM125.01 529.46h1v1h-1zM123.72 526.76h1v1h-1zM130.93 530.36h1v1h-1zM127.77 531.97h1v1h-1zM127.56 532.71h1v1h-1zM138.3 531.63h1v1h-1zM127.06 535.88h1v1h-1zM132.33 525.08h1v1h-1zM135.72 531.19h1v1h-1zM133.12 526.74h1v1h-1zM123.9 528.39h1v1h-1zM131.49 526.84h1v1h-1zM124.66 533.6h1v1h-1zM125.02 530.88h1v1h-1zM123.63 524.97h1v1h-1zM128.05 530.11h1v1h-1zM120.74 533.66h1v1h-1zM132.94 533.37h1v1h-1zM125.73 526.77h1v1h-1zM128.01 531.03h1v1h-1zM127.56 528.59h1v1h-1zM123.11 528.11h1v1h-1zM128.05 528.92h1v1h-1zM137.51 529.6h1v1h-1zM130.95 528.99h1v1h-1zM127.5 527.34h1v1h-1zM125.88 525.64h1v1h-1zM117.28 534.84h1v1h-1zM122.79 531.9h1v1h-1zM127.81 528.65h1v1h-1zM132.42 528.69h1v1h-1zM130.84 529.3h1v1h-1zM133.73 533.6h1v1h-1zM128.85 534.05h1v1h-1zM131.22 535.54h1v1h-1zM127.84 525.49h1v1h-1zM129.64 531.27h1v1h-1zM126.53 529.82h1v1h-1zM127.04 526.44h1v1h-1zM137.75 527.99h1v1h-1zM122.72 525.38h1v1h-1zM123.95 530.37h1v1h-1zM136.45 532.43h1v1h-1zM124.57 526.47h1v1h-1zM122.46 530.23h1v1h-1zM133.17 528.94h1v1h-1zM137.13 536.75h1v1h-1zM129.34 523.49h1v1h-1zM134.37 530.18h1v1h-1zM132.09 533.69h1v1h-1zM123.07 530.7h1v1h-1zM129.44 528.06h1v1h-1zM132.23 530.08h1v1h-1zM126.31 536.57h1v1h-1zM129.39 535.78h1v1h-1zM127.66 533.85h1v1h-1zM124.44 530.97h1v1h-1zM134.31 523.47h1v1h-1zM131.38 529.62h1v1h-1zM134.35 531.07h1v1h-1zM128.08 526.35h1v1h-1zM126.75 528.16h1v1h-1zM126.85 531.2h1v1h-1zM121.29 533.91h1v1h-1zM127.08 532.43h1v1h-1zM117.14 528.81h1v1h-1zM126.88 529.24h1v1h-1zM124.89 531.49h1v1h-1zM130.67 527.32h1v1h-1zM117.93 532.85h1v1h-1zM126.76 533.95h1v1h-1zM133.17 530.15h1v1h-1zM120.79 529.32h1v1h-1zM124.56 534.5h1v1h-1zM119.37 533.45h1v1h-1zM120.2 528.64h1v1h-1zM120.88 528.24h1v1h-1zM126.1 531.69h1v1h-1zM125.31 532.71h1v1h-1z" fill="#000" fill-opacity="0.85"/>
<path d="M201.7 534.1h1v1h-1zM174.76 533.24h1v1h-1zM184.51 532.77h1v1h-1zM196.13 536.63h1v1h-1zM204.03 535.03h1v1h-1zM191.66 531.64h1v1h-1zM179.87 536.01h1v1h-1zM186.78 530.83h1v1h-1zM180.04 525.84h1v1h-1zM185.42 530.58h1v1h-1zM184.96 530.67h1v1h-1zM176.83 532.38h1v1h-1zM211.26 530.67h1v1h-1zM174.44 532.32h1v1h-1zM195.28 535.73h1v1h-1zM191.89 532.87h1v1h-1zM186.63 531.73h1v1h-1zM183.75 531.64h1v1h-1zM171.96 531.16h1v1h-1zM203.32 534.7h1v1h-1zM178.47 533.41h1v1h-1zM181.25 536.79h1v1h-1zM185.17 532.07h1v1h-1zM191.73 534.5h1v1h-1zM179.09 531.73h1v1h-1zM186.74 529.52h1v1h-1zM176.95 536.26h1v1h-1zM193.43 536.53h1v1h-1zM181.3 532.17h1v1h-1zM182.9 532.47h1v1h-1zM197.28 533.12h1v1h-1zM197.96 531.88h1v1h-1zM188.9 537.82h1v1h-1zM178.53 532.03h1v1h-1zM179.86 529.59h1v1h-1zM182.65 532.05h1v1h-1zM205.84 532.47h1v1h-1zM194.22 533.6h1v1h-1zM188.07 535.51h1v1h-1zM180.2 533.79h1v1h-1zM186.73 537.91h1v1h-1zM198.48 534.12h1v1h-1zM172.99 535.94h1v1h-1zM184.9 536.66h1v1h-1zM185.89 534.15h1v1h-1zM191.47 531.83h1v1h-1zM177.38 536.06h1v1h-1zM191.71 535.77h1v1h-1zM198.06 530.28h1v1h-1zM194.23 528.45h1v1h-1zM185.88 534.55h1v1h-1zM194.92 536.45h1v1h-1zM176.75 532.99h1v1h-1zM183.92 531.92h1v1h-1zM177.81 532h1v1h-1zM196.01 537.15h1v1h-1zM192.34 537.97h1v1h-1zM186.21 530.92h1v1h-1zM179.34 534.21h1v1h-1zM194.89 536.78h1v1h-1zM177.09 536.13h1v1h-1zM180.45 535.21h1v1h-1zM193.87 537.47h1v1h-1zM180.51 534.31h1v1h-1zM189.34 532.62h1v1h-1zM186.22 535.21h1v1h-1zM170.17 532.05h1v1h-1zM206.71 534.84h1v1h-1zM180.23 529.01h1v1h-1zM176.52 535.01h1v1h-1zM191.66 534.83h1v1h-1zM190.86 532.16h1v1h-1zM200.11 530.83h1v1h-1zM190.09 533.02h1v1h-1zM182.82 535.51h1v1h-1zM197.13 534.11h1v1h-1zM179.27 533.14h1v1h-1zM184.74 537.38h1v1h-1zM193.28 537.74h1v1h-1zM192.39 531.75h1v1h-1zM193.94 536.17h1v1h-1zM184.24 534.88h1v1h-1zM182.43 530.48h1v1h-1zM184.54 535.64h1v1h-1zM182.04 527.98h1v1h-1zM177.98 536.47h1v1h-1zM187.44 536.56h1v1h-1zM178.41 532.63h1v1h-1zM176.12 531.71h1v1h-1zM190.1 534.05h1v1h-1zM180.89 534.45h1v1h-1zM173.29 532.7h1v1h-1zM171.53 529.87h1v1h-1zM172.81 530.89h1v1h-1zM199.94 537.2h1v1h-1zM196.99 532.21h1v1h-1zM191.13 530.8h1v1h-1zM180.35 534.31h1v1h-1zM170.59 534.2h1v1h-1zM191.03 528.41h1v1h-1zM184.22 534.06h1v1h-1zM174.9 535.15h1v1h-1zM186.49 531.82h1v1h-1zM200.52 534.36h1v1h-1zM192.2 538.44h1v1h-1zM180.8 533.13h1v1h-1zM190.55 534.21h1v1h-1zM173.67 531.51h1v1h-1zM186.38 534.46h1v1h-1zM176.9 533.14h1v1h-1zM177.92 535.28h1v1h-1zM191.25 532.26h1v1h-1zM181.12 530.55h1v1h-1zM185.22 535.9h1v1h-1zM190.71 537.48h1v1h-1zM182.34 531.38h1v1h-1zM194.95 536.06h1v1h-1zM179.23 536.5h1v1h-1zM185.22 533.59h1v1h-1zM202.35 535.06h1v1h-1zM188.24 532.88h1v1h-1zM187.19 536.4h1v1h-1zM189.56 531.76h1v1h-1zM189.49 533.39h1v1h-1zM188.19 533.2h1v1h-1zM181.78 528.04h1v1h-1zM191.76 532.51h1v1h-1zM188.37 527.94h1v1h-1zM187.64 536.22h1v1h-1zM187.09 530.33h1v1h-1zM194.31 532.33h1v1h-1zM180.05 534.2h1v1h-1zM189.53 530.51h1v1h-1zM185.34 533.83h1v1h-1zM198.66 536.99h1v1h-1zM209.02 531.99h1v1h-1zM177.03 534.61h1v1h-1zM200.27 531.09h1v1h-1zM182.12 531.78h1v1h-1zM190.22 534.73h1v1h-1zM184.98 535.39h1v1h-1zM178.05 532.73h1v1h-1zM184.99 533.85h1v1h-1zM197.51 533.89h1v1h-1zM197.42 534.32h1v1h-1zM196.06 534.17h1v1h-1zM176.81 531.5h1v1h-1zM189.33 538.55h1v1h-1zM202.66 532.88h1v1h-1zM208.58 530.82h1v1h-1zM177.48 536.1h1v1h-1zM171.19 536.06h1v1h-1zM188.85 535.32h1v1h-1zM174.15 534.69h1v1h-1zM194.08 533.57h1v1h-1zM194.91 533.76h1v1h-1zM188.55 532.88h1v1h-1zM172.73 533.29h1v1h-1zM189.99 531.74h1v1h-1zM197.57 533.12h1v1h-1zM178.24 536.9h1v1h-1zM183.74 529.8h1v1h-1zM181.26 531.42h1v1h-1zM183.63 531.33h1v1h-1zM185.98 534.89h1v1h-1zM180.02 533.18h1v1h-1zM183.9 535.84h1v1h-1zM178.66 535.65h1v1h-1zM196.97 533.2h1v1h-1zM176.34 532.9h1v1h-1zM174.23 533.26h1v1h-1zM181.89 535.04h1v1h-1zM186.45 534.79h1v1h-1zM184.91 534.43h1v1h-1zM174.81 535.41h1v1h-1zM197.49 536.58h1v1h-1zM172.82 534.79h1v1h-1zM170.2 535.66h1v1h-1zM183.44 532.51h1v1h-1zM178.4 533.08h1v1h-1zM185.31 531.2h1v1h-1zM185.9 534.37h1v1h-1zM190.27 533.59h1v1h-1zM194.77 534.54h1v1h-1zM172.41 535.31h1v1h-1zM190.7 526.8h1v1h-1zM183.83 534.69h1v1h-1zM185.7 533.95h1v1h-1zM183.92 537.29h1v1h-1zM188.92 532.97h1v1h-1zM177.31 532.33h1v1h-1zM188.41 534.09h1v1h-1zM188.18 537.22h1v1h-1zM195.99 534.79h1v1h-1zM185.77 533.54h1v1h-1zM183.21 536.31h1v1h-1zM173.55 531h1v1h-1zM181.1 531.2h1v1h-1zM178.5 536.8h1v1h-1zM173.1 533.07h1v1h-1zM180 531.12h1v1h-1zM171.49 533.89h1v1h-1zM181.72 536.56h1v1h-1zM202.72 532.94h1v1h-1zM177.87 532.96h1v1h-1zM189.77 536.13h1v1h-1zM176.45 534.93h1v1h-1zM185.09 536.67h1v1h-1zM181.56 533.16h1v1h-1zM177.4 530.26h1v1h-1zM187.92 535.55h1v1h-1zM195.92 534.4h1v1h-1zM181.06 531.31h1v1h-1zM174.52 531.82h1v1h-1zM188.53 533.94h1v1h-1zM182.69 530.98h1v1h-1zM185.19 535.08h1v1h-1zM175.69 530.19h1v1h-1zM182.36 534.38h1v1h-1zM182.98 537.72h1v1h-1zM186.76 531.09h1v1h-1zM192.67 532.02h1v1h-1zM191.86 533.96h1v1h-1zM196.95 531.11h1v1h-1zM192.18 534.81h1v1h-1zM176.91 535.53h1v1h-1zM206.68 534.63h1v1h-1zM178.2 533.3h1v1h-1zM197.62 534.37h1v1h-1zM199.3 532h1v1h-1zM197.7 529.6h1v1h-1zM183.84 532.93h1v1h-1zM180.81 536.88h1v1h-1zM179.76 534.62h1v1h-1zM202.84 535.85h1v1h-1zM181.52 531.8h1v1h-1zM193.76 536.58h1v1h-1zM192.7 527.69h1v1h-1zM177.12 535.78h1v1h-1zM181.66 535.88h1v1h-1zM209.55 531.72h1v1h-1zM206.25 533.49h1v1h-1zM171.57 533.95h1v1h-1zM193.94 532.19h1v1h-1zM200.31 531.43h1v1h-1zM183.6 536.1h1v1h-1zM183.42 532.25h1v1h-1zM185.27 535.4h1v1h-1zM201.77 537.23h1v1h-1zM203.1 533.63h1v1h-1zM181.55 531.11h1v1h-1zM180.57 533.53h1v1h-1zM185.94 536.08h1v1h-1zM176.82 536.68h1v1h-1zM185.87 535.61h1v1h-1zM197.19 530.48h1v1h-1zM200.53 531.83h1v1h-1zM189.22 536.53h1v1h-1zM194.16 529.63h1v1h-1zM186.99 536.66h1v1h-1zM184.3 533.49h1v1h-1zM186.13 537.97h1v1h-1zM180.33 531.25h1v1h-1zM175 532.33h1v1h-1zM183.23 534.6h1v1h-1zM184.68 529.23h1v1h-1zM170.57 535.47h1v1h-1zM192.32 530.18h1v1h-1zM194.33 527.37h1v1h-1zM207.46 535.24h1v1h-1zM185.15 532.52h1v1h-1zM181.99 533.12h1v1h-1zM184.51 531.35h1v1h-1zM180.09 535.15h1v1h-1zM190.48 530.24h1v1h-1zM180.81 537.78h1v1h-1zM192.26 538h1v1h-1zM172.67 531h1v1h-1zM181.91 530.97h1v1h-1zM175.15 531.89h1v1h-1zM183.71 535.87h1v1h-1zM190.8 529.13h1v1h-1zM199.62 532.84h1v1h-1zM175.98 533.62h1v1h-1zM181.68 530.09h1v1h-1zM200.27 532.19h1v1h-1zM179.78 535.1h1v1h-1zM201.39 534.96h1v1h-1zM176.95 534.84h1v1h-1zM196 534.69h1v1h-1zM191.64 532.45h1v1h-1zM184.83 529.32h1v1h-1zM178.66 530.74h1v1h-1zM185.55 537.6h1v1h-1zM176.65 533.47h1v1h-1zM196.55 531.68h1v1h-1zM178.03 536.86h1v1h-1zM189.03 535.08h1v1h-1zM193.41 531.77h1v1h-1zM187.62 531.99h1v1h-1zM178.63 534.05h1v1h-1zM189.63 530.38h1v1h-1zM178.16 535.29h1v1h-1zM187.08 535.43h1v1h-1zM182.5 531.61h1v1h-1zM192.93 535.27h1v1h-1zM178.24 535.44h1v1h-1zM200.45 532.97h1v1h-1zM176.25 534.37h1v1h-1zM186.35 535.18h1v1h-1zM172.12 534.34h1v1h-1zM194 535.53h1v1h-1zM191.48 536.83h1v1h-1zM177.63 536.89h1v1h-1zM187.48 531.11h1v1h-1zM182.65 534.41h1v1h-1zM188.65 537.22h1v1h-1zM187.32 532.37h1v1h-1zM206.32 532.84h1v1h-1zM177.64 536.12h1v1h-1zM181.53 531.65h1v1h-1zM175.36 536.8h1v1h-1zM175.37 533.97h1v1h-1zM181.14 533.2h1v1h-1zM177.7 534.1h1v1h-1zM191.25 536.45h1v1h-1zM182.07 530.67h1v1h-1zM171.36 533.73h1v1h-1zM185.77 534.03h1v1h-1zM172.19 532.03h1v1h-1zM178.41 535.47h1v1h-1zM181.6 535.32h1v1h-1zM190.41 528.69h1v1h-1zM183.27 537h1v1h-1zM180.62 534.05h1v1h-1zM184.29 530.51h1v1h-1zM206.3 533.37h1v1h-1zM191.58 532.54h1v1h-1zM198.86 536.71h1v1h-1zM196.76 536.19h1v1h-1zM192.19 537.33h1v1h-1zM189.34 534.07h1v1h-1zM193.22 531.39h1v1h-1zM186.95 531.88h1v1h-1zM182.94 531.23h1v1h-1zM177.48 534.21h1v1h-1zM186.66 535.89h1v1h-1zM184.62 535.37h1v1h-1zM192.01 531.89h1v1h-1zM183.08 532.33h1v1h-1zM206.56 531.94h1v1h-1zM190.02 531.73h1v1h-1zM192.08 530.44h1v1h-1zM194.57 534.19h1v1h-1zM181.68 530.61h1v1h-1zM201.4 532.22h1v1h-1zM199.24 527.46h1v1h-1zM174.05 538.44h1v1h-1zM202.51 533.77h1v1h-1zM195.02 535.3h1v1h-1zM182.08 534.06h1v1h-1zM174.56 530.24h1v1h-1zM186.68 535.62h1v1h-1zM187.02 530.54h1v1h-1zM193.58 533.96h1v1h-1zM192.66 532.98h1v1h-1zM182.96 536.46h1v1h-1zM198.58 530.6h1v1h-1zM174.94 536.25h1v1h-1zM188.93 533.86h1v1h-1zM176.16 536.36h1v1h-1zM187.29 534.29h1v1h-1zM189.18 532.37h1v1h-1zM189.29 534.07h1v1h-1zM192.35 534.72h1v1h-1zM173.28 531.89h1v1h-1zM182.95 536.75h1v1h-1zM179.3 536.67h1v1h-1zM195.79 536h1v1h-1zM207 533.71h1v1h-1zM188.56 536.9h1v1h-1zM189.38 536.31h1v1h-1zM184.26 537.41h1v1h-1zM188.85 528.77h1v1h-1zM195.83 533.24h1v1h-1zM177.08 532.96h1v1h-1zM182.81 536.71h1v1h-1zM188.67 533.55h1v1h-1zM185.36 531.4h1v1h-1zM179.4 532.52h1v1h-1zM183.34 530.71h1v1h-1zM181.68 536.33h1v1h-1zM189.82 533.73h1v1h-1zM188.8 533.11h1v1h-1zM174.19 536.02h1v1h-1zM206.91 535.06h1v1h-1zM173.96 535.1h1v1h-1zM182.24 533.02h1v1h-1zM189.3 529.6h1v1h-1zM183.39 532.47h1v1h-1zM175.96 535.38h1v1h-1zM201.16 534.82h1v1h-1zM195.31 535.71h1v1h-1zM184.89 535.24h1v1h-1zM198.14 532.64h1v1h-1zM184.09 530.17h1v1h-1zM194.04 534.68h1v1h-1zM187.98 537.14h1v1h-1zM186.29 535.75h1v1h-1zM198.68 531.64h1v1h-1zM177.21 534.78h1v1h-1zM184.96 532.23h1v1h-1zM184.3 531.86h1v1h-1zM186.79 532.74h1v1h-1zM201.72 531.04h1v1h-1zM191.04 533.93h1v1h-1zM200.59 531.24h1v1h-1zM181.06 538.21h1v1h-1zM179.23 532.76h1v1h-1zM181.75 531.21h1v1h-1zM197.14 537.65h1v1h-1zM184.06 531.8h1v1h-1zM172.59 535.44h1v1h-1zM180.44 535.15h1v1h-1zM191.48 534.81h1v1h-1zM186.73 533.68h1v1h-1zM182.25 532.6h1v1h-1zM186.87 535.05h1v1h-1zM194.38 533.17h1v1h-1zM197.15 531.33h1v1h-1zM203.74 536.22h1v1h-1zM199.25 537.82h1v1h-1zM174.1 533.45h1v1h-1zM190 536.45h1v1h-1zM186.22 530.39h1v1h-1zM197.16 533.3h1v1h-1zM189.69 532.91h1v1h-1zM184.43 530.19h1v1h-1zM191.87 532.12h1v1h-1zM185.17 536.2h1v1h-1zM193.33 530.61h1v1h-1zM183.82 533.73h1v1h-1zM186.35 531.02h1v1h-1zM186.23 536.26h1v1h-1zM197.34 537.49h1v1h-1zM192.73 527.24h1v1h-1zM182.92 532.33h1v1h-1zM194.19 533.71h1v1h-1zM188.94 534.98h1v1h-1zM183.43 537.27h1v1h-1zM202.91 535.84h1v1h-1zM180.2 534.38h1v1h-1zM194.82 535.58h1v1h-1zM178.96 536.19h1v1h-1zM192.43 535.23h1v1h-1zM181.52 533.66h1v1h-1zM181.28 532.97h1v1h-1zM182.82 532.91h1v1h-1zM186.33 533.98h1v1h-1zM179.67 533.39h1v1h-1zM184.64 535h1v1h-1zM189.71 532.81h1v1h-1zM177.63 529.51h1v1h-1zM173.57 534.78h1v1h-1zM176.73 537.86h1v1h-1zM183.99 532.74h1v1h-1zM184 532.33h1v1h-1zM179.49 533.9h1v1h-1zM171.7 534.07h1v1h-1zM184.62 531.41h1v1h-1zM195.29 534.66h1v1h-1zM195.84 532.01h1v1h-1zM173.66 530.68h1v1h-1zM170.51 528.87h1v1h-1zM200.43 532.5h1v1h-1zM187.35 532.35h1v1h-1zM184.12 537.78h1v1h-1zM186.78 531.39h1v1h-1zM192.1 537.05h1v1h-1zM194.01 535.65h1v1h-1zM183.95 536.3h1v1h-1zM177.87 530.67h1v1h-1zM183.02 533.08h1v1h-1zM197.17 531.19h1v1h-1zM196.41 531.73h1v1h-1zM173.45 529.37h1v1h-1zM185.17 530.01h1v1h-1zM187.53 533.84h1v1h-1zM181.69 528.77h1v1h-1zM180.56 534.87h1v1h-1zM185.67 532.33h1v1h-1zM187.44 535.39h1v1h-1zM185.29 531.72h1v1h-1zM192.99 531.98h1v1h-1zM188.95 536.22h1v1h-1zM197.97 537.82h1v1h-1zM195.26 534.09h1v1h-1zM183.58 534.2h1v1h-1zM191.78 531.6h1v1h-1zM200.01 529.63h1v1h-1zM195.06 530.43h1v1h-1zM175.12 532.43h1v1h-1zM182.79 530.25h1v1h-1zM191.4 533.42h1v1h-1zM198.3 531.1h1v1h-1zM183.36 536.22h1v1h-1zM173.76 528.82h1v1h-1zM181.17 537.35h1v1h-1zM200.58 530.22h1v1h-1zM179.7 528.99h1v1h-1zM177.48 531.24h1v1h-1zM189.57 536.64h1v1h-1zM208.22 532.79h1v1h-1zM193.3 534.28h1v1h-1zM186.71 538.68h1v1h-1zM192.21 537.73h1v1h-1zM188.37 535.94h1v1h-1zM190.34 533.47h1v1h-1zM178.87 532.68h1v1h-1zM185.63 532.73h1v1h-1zM182.26 531.9h1v1h-1zM193.68 533.08h1v1h-1zM184.39 533.15h1v1h-1zM198 532.33h1v1h-1zM198.95 531.5h1v1h-1zM200.06 535.29h1v1h-1zM180.84 534.88h1v1h-1zM196.34 531.26h1v1h-1zM183.36 534.52h1v1h-1zM183.53 532.97h1v1h-1zM185.7 534.52h1v1h-1zM192.9 537.51h1v1h-1zM182.4 538.28h1v1h-1zM184.3 529.98h1v1h-1zM181.38 532.83h1v1h-1zM195.7 528.52h1v1h-1zM179.5 533.37h1v1h-1zM191.76 534.73h1v1h-1zM193.67 533.3h1v1h-1zM183.3 536.82h1v1h-1zM201.88 534.69h1v1h-1zM187 531.51h1v1h-1zM205.52 534.74h1v1h-1zM191.4 529.59h1v1h-1zM183.97 533.19h1v1h-1zM200.11 533.23h1v1h-1zM174.42 531.58h1v1h-1zM191.98 534.01h1v1h-1zM185.91 533.28h1v1h-1zM186.75 534.63h1v1h-1zM181.01 533h1v1h-1zM187.73 530.92h1v1h-1zM189.73 528.07h1v1h-1zM191.6 533.4h1v1h-1zM174.38 537.18h1v1h-1zM178.62 536.83h1v1h-1zM184.92 537.86h1v1h-1zM183.43 536.36h1v1h-1zM182.5 528.89h1v1h-1zM189.23 534.94h1v1h-1zM189.33 538.01h1v1h-1zM178.56 530.03h1v1h-1zM187.96 531.93h1v1h-1zM184.56 533.71h1v1h-1zM177.79 536.52h1v1h-1zM184.4 538.32h1v1h-1zM187.91 536.43h1v1h-1zM182.79 532.02h1v1h-1zM180.54 531.45h1v1h-1zM189.78 534.07h1v1h-1zM175.32 529.75h1v1h-1zM177.41 529.01h1v1h-1zM177.16 529.8h1v1h-1zM192.22 530.72h1v1h-1zM179.97 533.4h1v1h-1zM185.85 534.8h1v1h-1zM192.76 535.37h1v1h-1zM182.29 536.93h1v1h-1zM189.05 531.89h1v1h-1zM199.68 530.66h1v1h-1zM190.01 536.94h1v1h-1zM186.63 534.6h1v1h-1zM186.69 535.43h1v1h-1zM187.66 533.73h1v1h-1zM192.19 528.83h1v1h-1zM187.93 532.93h1v1h-1zM204.05 534.46h1v1h-1zM179.33 535.4h1v1h-1zM181.94 530.65h1v1h-1zM182.91 535h1v1h-1zM196.75 536.41h1v1h-1zM187.7 533.29h1v1h-1zM187.43 536.83h1v1h-1zM184.36 536.7h1v1h-1zM178.06 533.68h1v1h-1zM192.84 535.52h1v1h-1zM187.44 532.38h1v1h-1zM177.58 532.67h1v1h-1zM200.41 531.73h1v1h-1zM193.52 533.66h1v1h-1zM175.16 533.99h1v1h-1zM192.61 530.65h1v1h-1zM174.64 532.73h1v1h-1zM192.36 532.16h1v1h-1zM189.52 534.89h1v1h-1zM185.67 534.87h1v1h-1zM197.46 533.21h1v1h-1zM188.6 530.97h1v1h-1zM178.77 533.45h1v1h-1zM193.18 531.98h1v1h-1zM172.51 536.09h1v1h-1zM207.79 527.08h1v1h-1zM175.59 534.02h1v1h-1zM190.1 531.27h1v1h-1zM188.69 536.53h1v1h-1zM182.98 535.58h1v1h-1zM186.75 531.31h1v1h-1zM179.8 532.14h1v1h-1zM197.98 536.68h1v1h-1zM187.81 529.69h1v1h-1zM180.97 532.68h1v1h-1zM188.21 530.3h1v1h-1zM181.55 532.53h1v1h-1zM202.78 535.41h1v1h-1zM192.72 533.93h1v1h-1zM173.58 536.08h1v1h-1zM179.25 528.77h1v1h-1zM192.34 532.82h1v1h-1zM185.53 535.03h1v1h-1zM183.37 534.76h1v1h-1zM197.56 532.88h1v1h-1zM182.24 533.75h1v1h-1zM191.56 532.68h1v1h-1zM186.29 531.95h1v1h-1zM184.83 535.1h1v1h-1zM177.92 533.24h1v1h-1zM171.94 531.91h1v1h-1zM186.26 535.07h1v1h-1zM175.95 533.45h1v1h-1zM176.9 534.52h1v1h-1zM187.98 534.84h1v1h-1zM183.57 530.05h1v1h-1zM180.33 530.27h1v1h-1zM179.24 533.56h1v1h-1zM195.55 532.05h1v1h-1zM178.36 534.23h1v1h-1zM171.24 536.31h1v1h-1zM194.62 536.18h1v1h-1zM184.55 535.58h1v1h-1zM182.34 536.17h1v1h-1zM179.48 531.61h1v1h-1zM189.05 532.54h1v1h-1zM191.75 531.5h1v1h-1zM188.01 531.19h1v1h-1zM175.56 530.55h1v1h-1zM170.69 533.12h1v1h-1zM200.53 532.55h1v1h-1zM194.14 533.23h1v1h-1zM195.51 528.99h1v1h-1zM176.48 534.76h1v1h-1zM191.55 533.13h1v1h-1zM188.43 535.08h1v1h-1zM182.29 536.26h1v1h-1zM177.67 535.64h1v1h-1zM193.98 534.22h1v1h-1zM182.33 533.66h1v1h-1zM172.39 528.54h1v1h-1zM192.57 531.36h1v1h-1zM188.8 533.82h1v1h-1zM183.02 534.9h1v1h-1zM186.17 530.47h1v1h-1zM180.63 533.97h1v1h-1zM173.8 532.57h1v1h-1zM180.47 528.27h1v1h-1zM201.42 535.95h1v1h-1zM181.23 536.13h1v1h-1zM175.9 537.62h1v1h-1zM182.09 534.06h1v1h-1zM180.19 533.94h1v1h-1zM188.55 533.78h1v1h-1zM177.89 535.64h1v1h-1zM190.65 533.71h1v1h-1zM195.21 531.82h1v1h-1zM197.29 533.29h1v1h-1zM199.47 532.57h1v1h-1zM183.18 534.24h1v1h-1zM195.6 537.39h1v1h-1zM181.32 531.84h1v1h-1zM192.54 536.88h1v1h-1zM191.99 532.86h1v1h-1zM197.24 533.64h1v1h-1zM187.07 535.29h1v1h-1zM180.29 527.91h1v1h-1zM187.53 535.54h1v1h-1zM189.54 535.09h1v1h-1zM187.01 536.37h1v1h-1zM186.57 537.52h1v1h-1zM185.98 535.74h1v1h-1zM180.45 534.47h1v1h-1zM189.43 534.06h1v1h-1zM199.72 533.82h1v1h-1zM195.84 534.6h1v1h-1zM195.56 531.4h1v1h-1zM182.17 536.17h1v1h-1zM178 534.71h1v1h-1zM190.73 534.2h1v1h-1zM189.54 535.09h1v1h-1zM183.35 534.76h1v1h-1zM180.76 532.55h1v1h-1zM170.93 533.44h1v1h-1zM187.45 530.92h1v1h-1zM186.16 534.44h1v1h-1zM182.3 531.37h1v1h-1zM184.49 534.75h1v1h-1zM194.03 538.66h1v1h-1zM189.51 532.07h1v1h-1zM186.57 537.2h1v1h-1zM195.3 532.57h1v1h-1zM199.67 529.19h1v1h-1zM183.69 531.92h1v1h-1zM187.4 533.86h1v1h-1zM196.03 532.19h1v1h-1zM203.24 529.32h1v1h-1zM184.61 535.32h1v1h-1zM193.73 532.8h1v1h-1zM192.25 528.47h1v1h-1zM181.02 535.14h1v1h-1zM170.9 530.26h1v1h-1zM189.25 536.62h1v1h-1zM196.22 532.02h1v1h-1zM190.19 529.16h1v1h-1zM171.9 535.1h1v1h-1zM181.85 531.09h1v1h-1zM206.05 528.53h1v1h-1zM175.9 536.59h1v1h-1zM186.14 536.61h1v1h-1zM184.83 538.38h1v1h-1zM185.24 533.42h1v1h-1zM189.58 534.61h1v1h-1zM171.71 531.26h1v1h-1zM183.35 534.58h1v1h-1zM174.23 531.86h1v1h-1zM178.66 534.58h1v1h-1zM181.55 535.25h1v1h-1zM189.08 531.35h1v1h-1zM182.77 530.5h1v1h-1zM186.5 535.79h1v1h-1zM176.42 529.15h1v1h-1zM190.27 532.96h1v1h-1zM185.25 534.89h1v1h-1zM189 536.09h1v1h-1zM181.29 528.03h1v1h-1zM181.02 532.91h1v1h-1zM181.73 534.71h1v1h-1zM183.21 537.04h1v1h-1zM179.66 533.68h1v1h-1zM176.71 531.12h1v1h-1zM182 535.67h1v1h-1zM185.62 533.25h1v1h-1zM172 528.35h1v1h-1zM183.53 533.09h1v1h-1zM201.78 534.66h1v1h-1zM189.44 536.2h1v1h-1zM177.23 530.52h1v1h-1zM182.11 537.53h1v1h-1zM194.65 532.19h1v1h-1zM174.01 536.1h1v1h-1zM195.62 530.87h1v1h-1zM200.37 531.7h1v1h-1zM192.45 533.17h1v1h-1zM182.47 532.12h1v1h-1zM191.92 535.3h1v1h-1zM192.98 532.97h1v1h-1zM201.39 533.2h1v1h-1zM174.87 537.57h1v1h-1zM186.74 533.85h1v1h-1zM193.41 534.61h1v1h-1zM176.36 533.89h1v1h-1zM183.92 534.39h1v1h-1zM207.16 532.63h1v1h-1zM193.89 535.32h1v1h-1zM188.27 532.4h1v1h-1zM191.41 534.4h1v1h-1zM198.97 535.85h1v1h-1zM178.89 526.15h1v1h-1zM199.56 534.96h1v1h-1zM187.11 532.13h1v1h-1zM208.84 537.17h1v1h-1zM186.4 532.75h1v1h-1zM190.86 537.22h1v1h-1zM190.35 536.15h1v1h-1zM187.95 534.62h1v1h-1zM173.68 534.02h1v1h-1zM185.98 533.51h1v1h-1zM183.25 534.5h1v1h-1zM180.1 533.19h1v1h-1zM177.16 530.58h1v1h-1zM180.48 532.62h1v1h-1zM175.46 527.38h1v1h-1zM200.87 536.34h1v1h-1zM181.95 535.15h1v1h-1zM175.1 529.5h1v1h-1zM188.64 535.19h1v1h-1zM179.07 533.69h1v1h-1zM195.41 534.14h1v1h-1zM187.2 535.2h1v1h-1zM173.57 534.33h1v1h-1zM179.61 528.81h1v1h-1zM193.87 533.22h1v1h-1zM195.63 537.36h1v1h-1zM189.22 534.64h1v1h-1zM192.02 535.4h1v1h-1zM173.52 535.63h1v1h-1zM194.8 532.65h1v1h-1zM176.89 532.43h1v1h-1zM179.98 535.07h1v1h-1zM192.8 533.76h1v1h-1zM182.62 529.11h1v1h-1zM181.49 531.12h1v1h-1zM180.29 534.59h1v1h-1zM177.26 532.32h1v1h-1zM174.7 533.04h1v1h-1zM182.81 536.3h1v1h-1zM191.57 532.34h1v1h-1zM179.03 534.21h1v1h-1zM190.42 533.29h1v1h-1zM184.03 533.75h1v1h-1zM175.27 534.4h1v1h-1zM190.93 533.83h1v1h-1zM174.73 533.7h1v1h-1zM184.46 534.52h1v1h-1zM181.55 535.85h1v1h-1zM195.72 535.83h1v1h-1zM187.69 536.85h1v1h-1zM185.1 533.27h1v1h-1zM171.97 533.75h1v1h-1zM196.94 531.24h1v1h-1zM192.83 530.43h1v1h-1zM188.3 538.4h1v1h-1zM185.9 530.7h1v1h-1zM188.18 533.33h1v1h-1zM192.98 532.36h1v1h-1zM191.03 536.34h1v1h-1zM188.07 533.77h1v1h-1zM191.94 533.2h1v1h-1zM181.19 534.28h1v1h-1zM195.78 532.42h1v1h-1zM190.15 532.06h1v1h-1zM178.53 534.15h1v1h-1zM172.91 531.52h1v1h-1zM174.23 532.17h1v1h-1zM191.19 533.89h1v1h-1zM172.84 527.63h1v1h-1zM189.61 532.1h1v1h-1zM195.34 532.7h1v1h-1zM173.13 532.08h1v1h-1zM171.04 530.1h1v1h-1zM192.16 532.35h1v1h-1zM191.95 532.28h1v1h-1zM183.25 532.31h1v1h-1zM180.29 532.03h1v1h-1zM199.54 533.57h1v1h-1zM197.28 536.56h1v1h-1zM184.45 533.31h1v1h-1zM180.92 534.02h1v1h-1zM189.85 533.7h1v1h-1zM177.67 531.25h1v1h-1zM201.16 538h1v1h-1zM173.72 532.08h1v1h-1zM185.04 535.2h1v1h-1zM184.34 534.31h1v1h-1zM188.85 536.6h1v1h-1zM173.09 536.49h1v1h-1zM189.56 535.07h1v1h-1zM171.17 533.13h1v1h-1zM182.95 535.33h1v1h-1zM191.88 535.45h1v1h-1zM173.19 536.89h1v1h-1zM186.04 536.07h1v1h-1zM185.31 531.93h1v1h-1zM210.19 535.37h1v1h-1zM192.61 532.54h1v1h-1zM183.31 536.52h1v1h-1zM189.62 538.13h1v1h-1zM196.76 530.99h1v1h-1zM170.83 536.64h1v1h-1zM191.08 533.06h1v1h-1zM182.63 532.31h1v1h-1zM202.37 533.3h1v1h-1zM172.33 536h1v1h-1zM184.58 534.61h1v1h-1zM181.76 533.61h1v1h-1zM178.89 532.75h1v1h-1zM188.37 536.93h1v1h-1zM190.54 536.26h1v1h-1zM176.75 534.52h1v1h-1zM189.15 536.05h1v1h-1zM179.49 533.25h1v1h-1zM180.51 536.57h1v1h-1zM195.64 532.6h1v1h-1zM184.07 534.27h1v1h-1zM176.83 533.43h1v1h-1zM193.54 535.66h1v1h-1zM178.91 532.09h1v1h-1zM184.25 530.04h1v1h-1zM188.29 534.02h1v1h-1zM172.71 533.13h1v1h-1zM179.08 533.04h1v1h-1zM177.06 537.13h1v1h-1zM176.21 535.63h1v1h-1zM187.31 537.33h1v1h-1zM184.79 533.73h1v1h-1zM185.98 529.01h1v1h-1z" fill="#000" fill-opacity="0.8"/>
<path d="M202.65 525.82h0.8v0.8h-0.8zM180.95 522.31h0.8v0.8h-0.8zM182.37 532.81h0.8v0.8h-0.8zM177.43 528.32h0.8v0.8h-0.8zM191.7 530.26h0.8v0.8h-0.8zM180.24 519.96h0.8v0.8h-0.8zM186.71 528.82h0.8v0.8h-0.8zM180.86 525h0.8v0.8h-0.8zM197.45 520.6h0.8v0.8h-0.8zM179.36 524.32h0.8v0.8h-0.8zM170.99 524h0.8v0.8h-0.8zM177.09 531.39h0.8v0.8h-0.8zM185.54 520.73h0.8v0.8h-0.8zM173.83 522.92h0.8v0.8h-0.8zM182.18 528.37h0.8v0.8h-0.8zM178.3 525.59h0.8v0.8h-0.8zM189.16 526.06h0.8v0.8h-0.8zM189.31 524.4h0.8v0.8h-0.8zM187.36 531.5h0.8v0.8h-0.8zM172.42 538.04h0.8v0.8h-0.8zM180.87 525.36h0.8v0.8h-0.8zM182.17 528.41h0.8v0.8h-0.8zM173.81 526.8h0.8v0.8h-0.8zM178.79 532.07h0.8v0.8h-0.8zM180.93 523.81h0.8v0.8h-0.8zM184.54 525.74h0.8v0.8h-0.8zM183.78 527.56h0.8v0.8h-0.8zM193.05 525.11h0.8v0.8h-0.8zM196.79 516.4h0.8v0.8h-0.8zM198.01 531.27h0.8v0.8h-0.8zM195.93 527.41h0.8v0.8h-0.8zM185.71 522.8h0.8v0.8h-0.8zM194.12 522.25h0.8v0.8h-0.8zM177.1 526.65h0.8v0.8h-0.8zM185.32 527.94h0.8v0.8h-0.8zM174.17 525.34h0.8v0.8h-0.8zM187.36 531.15h0.8v0.8h-0.8zM189.56 528.22h0.8v0.8h-0.8zM181.37 524.6h0.8v0.8h-0.8zM179.36 526.29h0.8v0.8h-0.8zM187.67 524.74h0.8v0.8h-0.8zM199.87 522.86h0.8v0.8h-0.8zM189.96 525.88h0.8v0.8h-0.8zM182.33 525.22h0.8v0.8h-0.8zM195.69 525.53h0.8v0.8h-0.8zM187.85 527.1h0.8v0.8h-0.8zM189.43 528.88h0.8v0.8h-0.8zM196.63 523.89h0.8v0.8h-0.8zM176.9 533.07h0.8v0.8h-0.8zM193.62 526.93h0.8v0.8h-0.8zM181.17 527.62h0.8v0.8h-0.8zM193.84 523.76h0.8v0.8h-0.8zM195.03 526.44h0.8v0.8h-0.8zM180.57 525.16h0.8v0.8h-0.8zM172.96 524.54h0.8v0.8h-0.8zM176.31 527.54h0.8v0.8h-0.8zM189.2 526.81h0.8v0.8h-0.8zM184.97 528.21h0.8v0.8h-0.8zM196.26 528.84h0.8v0.8h-0.8zM195.97 526.42h0.8v0.8h-0.8zM186.26 524.2h0.8v0.8h-0.8zM188.19 523.43h0.8v0.8h-0.8zM187.2 524.27h0.8v0.8h-0.8zM180.64 531.26h0.8v0.8h-0.8zM184.62 529.65h0.8v0.8h-0.8zM181.54 519.62h0.8v0.8h-0.8zM195.2 525.98h0.8v0.8h-0.8zM178.28 530.23h0.8v0.8h-0.8zM174.4 523.85h0.8v0.8h-0.8zM192.59 524.03h0.8v0.8h-0.8zM192.45 525.51h0.8v0.8h-0.8zM181.77 526.92h0.8v0.8h-0.8zM179.47 530.7h0.8v0.8h-0.8zM192.19 526.91h0.8v0.8h-0.8zM188.31 528.7h0.8v0.8h-0.8zM196.87 520.68h0.8v0.8h-0.8zM191.62 530.11h0.8v0.8h-0.8zM180.95 526.71h0.8v0.8h-0.8zM180.7 531.33h0.8v0.8h-0.8zM174.33 528.95h0.8v0.8h-0.8zM193.69 528.82h0.8v0.8h-0.8zM179.63 524.93h0.8v0.8h-0.8zM192.19 523.1h0.8v0.8h-0.8zM170.4 525.74h0.8v0.8h-0.8zM171.59 528.39h0.8v0.8h-0.8zM176.5 530.25h0.8v0.8h-0.8zM182.52 521.32h0.8v0.8h-0.8zM177.31 524.23h0.8v0.8h-0.8zM176.73 531.32h0.8v0.8h-0.8zM175.47 528.04h0.8v0.8h-0.8zM178.8 528.89h0.8v0.8h-0.8zM172.06 520.76h0.8v0.8h-0.8zM187.53 532.05h0.8v0.8h-0.8zM172.43 525.48h0.8v0.8h-0.8zM179.41 523.14h0.8v0.8h-0.8zM191.19 526.85h0.8v0.8h-0.8zM172.43 525.85h0.8v0.8h-0.8zM194.09 524h0.8v0.8h-0.8zM179.35 523.55h0.8v0.8h-0.8zM184.76 524.57h0.8v0.8h-0.8zM190.57 523.54h0.8v0.8h-0.8zM171.84 528.37h0.8v0.8h-0.8zM185.71 527.6h0.8v0.8h-0.8zM178.86 524.99h0.8v0.8h-0.8zM177.05 525.99h0.8v0.8h-0.8zM179.83 528.75h0.8v0.8h-0.8zM183.54 528.75h0.8v0.8h-0.8zM196.49 525.64h0.8v0.8h-0.8zM181.16 528.08h0.8v0.8h-0.8zM200.21 525.32h0.8v0.8h-0.8zM196.95 531.13h0.8v0.8h-0.8zM175.64 528.16h0.8v0.8h-0.8zM194.07 526.88h0.8v0.8h-0.8zM184.77 534.83h0.8v0.8h-0.8zM186.31 534.77h0.8v0.8h-0.8zM176.33 532.87h0.8v0.8h-0.8zM179.43 517.53h0.8v0.8h-0.8zM176.86 524.88h0.8v0.8h-0.8zM183.13 529.52h0.8v0.8h-0.8zM188.98 528.64h0.8v0.8h-0.8zM177.51 533.39h0.8v0.8h-0.8zM193.04 526.8h0.8v0.8h-0.8zM178.91 526.49h0.8v0.8h-0.8zM181.7 524.04h0.8v0.8h-0.8zM183.39 524.16h0.8v0.8h-0.8zM188.6 524.21h0.8v0.8h-0.8zM187.39 527.88h0.8v0.8h-0.8zM184.81 528.64h0.8v0.8h-0.8zM175.28 536.38h0.8v0.8h-0.8zM177.95 529.44h0.8v0.8h-0.8zM183.66 525.03h0.8v0.8h-0.8zM197.37 530.83h0.8v0.8h-0.8z" fill="#000" fill-opacity="0.55"/>
<path d="M268.62 531.49h1v1h-1zM274.84 535.33h1v1h-1zM276.99 528.73h1v1h-1zM268.77 524.98h1v1h-1zM272.12 532.63h1v1h-1zM267.88 531.87h1v1h-1zM271.27 527.62h1v1h-1zM262.5 533.57h1v1h-1zM286.87 531.43h1v1h-1zM263.41 525.46h1v1h-1zM272.05 531.82h1v1h-1zM280.28 520.24h1v1h-1zM282.43 529.99h1v1h-1zM271.3 530.82h1v1h-1zM268.11 528.28h1v1h-1zM277.27 522.81h1v1h-1zM269.68 531.48h1v1h-1zM259.72 528.76h1v1h-1zM280.36 530.77h1v1h-1zM275.02 532.03h1v1h-1zM271.86 530.72h1v1h-1zM265.15 528.57h1v1h-1zM282.43 524.71h1v1h-1zM269.34 524.56h1v1h-1zM266.97 526.44h1v1h-1zM262.47 530.28h1v1h-1zM264.3 531.36h1v1h-1zM282.18 519.67h1v1h-1zM269.36 521.42h1v1h-1zM269.63 530.78h1v1h-1zM271.81 533.94h1v1h-1zM271.47 522.82h1v1h-1zM280.22 525.76h1v1h-1zM269.84 530.59h1v1h-1zM264.72 529.7h1v1h-1zM280.16 522.96h1v1h-1zM259.61 527.66h1v1h-1zM269.36 524.51h1v1h-1zM255.47 532.83h1v1h-1zM272.99 524.32h1v1h-1zM274.18 529.11h1v1h-1zM271.5 524.28h1v1h-1zM269.03 531.18h1v1h-1zM259.06 525.36h1v1h-1zM276.75 536.94h1v1h-1zM274.75 529.08h1v1h-1zM263.41 527.81h1v1h-1zM268.82 531.03h1v1h-1zM279.07 521h1v1h-1zM262.86 529.34h1v1h-1zM276.85 530.89h1v1h-1zM252.56 523.09h1v1h-1zM279.24 531.6h1v1h-1zM287.13 532.4h1v1h-1zM273.47 535.18h1v1h-1zM267.57 527.27h1v1h-1zM263.88 530.3h1v1h-1zM273.33 532.92h1v1h-1zM279.9 531.73h1v1h-1zM278.49 528.4h1v1h-1zM264.2 532.14h1v1h-1zM277.07 534.46h1v1h-1zM269.4 527.55h1v1h-1zM268.11 530.72h1v1h-1zM270.16 528.64h1v1h-1zM272.13 528.24h1v1h-1zM272.67 527.06h1v1h-1zM260.42 528.16h1v1h-1zM282.79 526.24h1v1h-1zM276.44 534.49h1v1h-1zM266.94 530.33h1v1h-1zM255.61 531.53h1v1h-1zM280.5 530.05h1v1h-1zM257.53 527.12h1v1h-1zM265.64 529.77h1v1h-1zM272.35 527.76h1v1h-1zM268.46 526.21h1v1h-1zM274.22 530.1h1v1h-1zM272.74 527.41h1v1h-1zM273.7 528.19h1v1h-1zM272.42 528.73h1v1h-1zM266.16 525.14h1v1h-1zM258.34 524.1h1v1h-1zM259.79 526.21h1v1h-1zM269.15 524.86h1v1h-1zM273.22 537.34h1v1h-1zM252.28 524.84h1v1h-1zM278.55 524.87h1v1h-1zM269.81 526.91h1v1h-1zM275.46 523.75h1v1h-1zM272.51 530.17h1v1h-1zM274.17 530.97h1v1h-1zM271.49 522.5h1v1h-1zM268.38 525.69h1v1h-1zM273.95 528.43h1v1h-1zM271.48 533.57h1v1h-1zM269.79 535.81h1v1h-1zM275.93 523.61h1v1h-1zM266.69 534.02h1v1h-1zM267.24 533.93h1v1h-1zM266.83 528.85h1v1h-1zM277.19 523.25h1v1h-1zM270.99 527.57h1v1h-1zM271.6 535.92h1v1h-1zM273.69 524.11h1v1h-1zM276.75 527.58h1v1h-1zM271.57 533.79h1v1h-1zM268.48 533.01h1v1h-1zM271.66 525.84h1v1h-1zM268.48 524.08h1v1h-1zM278.2 529.95h1v1h-1zM276.8 525.02h1v1h-1zM276.01 524.71h1v1h-1zM272.33 529.26h1v1h-1zM266.65 530.5h1v1h-1zM270.72 525.96h1v1h-1zM265.66 524.28h1v1h-1zM279.42 529.89h1v1h-1zM268.13 531.98h1v1h-1zM264.89 524.82h1v1h-1zM272.82 535.44h1v1h-1zM272.45 529.91h1v1h-1zM281.85 523.34h1v1h-1zM270.02 524.12h1v1h-1zM262.59 528.39h1v1h-1zM286.4 525.67h1v1h-1zM266.49 530.35h1v1h-1zM263.87 528.31h1v1h-1zM275.83 520.88h1v1h-1zM268.54 528.17h1v1h-1zM267.17 528.85h1v1h-1zM258.81 527.61h1v1h-1zM267.11 525.32h1v1h-1zM278.72 537.05h1v1h-1zM275.7 525.95h1v1h-1zM279.74 531.24h1v1h-1zM265.18 531.65h1v1h-1zM266.74 531.52h1v1h-1zM276.49 533.78h1v1h-1zM263.64 528.81h1v1h-1zM270.52 524.57h1v1h-1zM273.2 531.99h1v1h-1zM261.52 527.17h1v1h-1zM263.31 524.37h1v1h-1zM263.56 534.63h1v1h-1zM266.18 527.77h1v1h-1zM276.93 533.27h1v1h-1zM279.65 521.26h1v1h-1zM275.41 522.5h1v1h-1zM266.38 527.69h1v1h-1zM266.79 536.92h1v1h-1zM269.41 533.85h1v1h-1zM269.33 529.07h1v1h-1zM273.82 531.02h1v1h-1zM273.75 522.58h1v1h-1zM273.8 530.54h1v1h-1zM274.4 529.1h1v1h-1zM273.16 524.24h1v1h-1zM277.87 524.59h1v1h-1zM279.62 533.23h1v1h-1zM270.09 528.16h1v1h-1zM275.55 528.12h1v1h-1zM262.77 530.38h1v1h-1zM262.56 527.53h1v1h-1zM282.17 532.44h1v1h-1zM267.57 529.03h1v1h-1zM266.29 529.26h1v1h-1zM261.08 531.95h1v1h-1zM270.59 526.93h1v1h-1zM267.62 527.45h1v1h-1zM266.71 527.38h1v1h-1zM279.01 531.93h1v1h-1zM273.22 530.72h1v1h-1zM263.11 519.92h1v1h-1zM280.32 532.09h1v1h-1zM271.91 530.39h1v1h-1zM271.8 529.38h1v1h-1zM268.8 520.64h1v1h-1zM274.2 529.49h1v1h-1zM276.86 530.5h1v1h-1zM268.64 531.65h1v1h-1zM271.72 527.58h1v1h-1zM268.06 527.65h1v1h-1zM268.56 527.57h1v1h-1zM269.76 533.66h1v1h-1zM257.67 516.73h1v1h-1zM267.42 528.7h1v1h-1zM265.68 524.01h1v1h-1zM264.97 527.31h1v1h-1zM271.5 527.99h1v1h-1zM262.7 527.86h1v1h-1zM280.33 525.87h1v1h-1zM270.92 533.22h1v1h-1zM265.27 527.08h1v1h-1zM289.32 534.12h1v1h-1zM267.07 529.92h1v1h-1zM271.15 529.87h1v1h-1zM273.52 528.13h1v1h-1zM256.08 525.56h1v1h-1zM271.48 523.98h1v1h-1zM268.4 535.15h1v1h-1zM272.05 526.75h1v1h-1zM271.4 533.38h1v1h-1zM259.37 524.44h1v1h-1zM266.19 527.59h1v1h-1zM269.93 527.04h1v1h-1zM271.2 529.64h1v1h-1zM262.92 526.87h1v1h-1zM262.45 530.42h1v1h-1zM272.2 531.84h1v1h-1zM264.81 527.23h1v1h-1zM256.08 529.34h1v1h-1zM260 530.65h1v1h-1zM277.51 531.03h1v1h-1zM274.58 530.18h1v1h-1zM272.91 532.95h1v1h-1zM278.7 537.15h1v1h-1zM268.77 532.54h1v1h-1zM276.13 530.96h1v1h-1zM272.24 524.39h1v1h-1zM277.57 525.87h1v1h-1zM266.26 525.98h1v1h-1zM274.13 525.54h1v1h-1zM273.47 531.49h1v1h-1zM271.16 527.98h1v1h-1zM274.37 534.39h1v1h-1zM267.5 525.22h1v1h-1zM266.6 525.89h1v1h-1zM268.96 528.7h1v1h-1zM255.56 534.97h1v1h-1zM265.22 527.64h1v1h-1zM257.79 521.65h1v1h-1zM263.91 530.19h1v1h-1zM276.01 522.27h1v1h-1zM271.94 535.18h1v1h-1zM268.67 532.86h1v1h-1zM272.52 525.71h1v1h-1zM276.94 526.94h1v1h-1zM272.8 527.74h1v1h-1zM269.09 529.89h1v1h-1zM279.07 522.77h1v1h-1zM263.26 529.7h1v1h-1zM276.82 528.57h1v1h-1zM269.28 531.34h1v1h-1zM280.72 525.79h1v1h-1zM260.14 528.21h1v1h-1zM275.46 524.2h1v1h-1zM277.81 532.94h1v1h-1zM275.61 526.02h1v1h-1zM262.11 531.84h1v1h-1zM272.19 531.96h1v1h-1zM261.76 517.84h1v1h-1zM277.76 533.18h1v1h-1zM268.7 529.28h1v1h-1zM273.43 532.2h1v1h-1zM269.27 527.3h1v1h-1zM264.17 533.28h1v1h-1zM271.14 516.09h1v1h-1zM272.72 527.08h1v1h-1zM262.24 527.31h1v1h-1zM262.21 527.55h1v1h-1zM266.95 531.28h1v1h-1zM263.93 522.24h1v1h-1zM266.57 523.96h1v1h-1zM275.3 528.5h1v1h-1zM259.65 525.9h1v1h-1zM270.32 529.14h1v1h-1zM258.55 528.8h1v1h-1zM272.41 533.13h1v1h-1zM277.61 528.82h1v1h-1zM262.06 527.85h1v1h-1zM274.71 525.73h1v1h-1zM278.66 525.58h1v1h-1zM263.19 532.51h1v1h-1zM269.84 530.54h1v1h-1zM268.52 529.41h1v1h-1zM266.71 536.64h1v1h-1zM274.74 528.81h1v1h-1zM273.56 532.53h1v1h-1zM267.08 529.98h1v1h-1zM271.83 527.11h1v1h-1zM265.48 528.52h1v1h-1zM268.55 527.72h1v1h-1zM257.9 529.59h1v1h-1zM274.74 529.58h1v1h-1zM281.61 532.63h1v1h-1zM268.19 526.68h1v1h-1zM273.74 527.85h1v1h-1zM260.01 529.76h1v1h-1zM268.57 528.42h1v1h-1zM274.47 530.05h1v1h-1zM283.61 526.43h1v1h-1zM269.86 530.49h1v1h-1zM267.64 527.31h1v1h-1zM281.83 523.68h1v1h-1zM272.75 522.51h1v1h-1zM272.69 521.87h1v1h-1zM262.93 533.69h1v1h-1zM280.48 529.79h1v1h-1zM252.88 533.21h1v1h-1zM272.08 525.02h1v1h-1zM268.19 524.19h1v1h-1zM269.89 528.96h1v1h-1zM271.29 532.35h1v1h-1zM266.32 520.77h1v1h-1zM262.92 524.43h1v1h-1zM268.1 527.6h1v1h-1zM270.22 534.58h1v1h-1zM270.67 525.13h1v1h-1zM268.51 525.91h1v1h-1zM268.93 531.53h1v1h-1zM263.16 532.01h1v1h-1zM282.06 535.17h1v1h-1zM281.02 529.64h1v1h-1zM261.74 537.04h1v1h-1zM270.16 530.19h1v1h-1zM268.19 525.67h1v1h-1zM274.5 523.91h1v1h-1zM261.59 531.43h1v1h-1zM268.07 526.06h1v1h-1zM273.71 534.78h1v1h-1zM268.66 528.77h1v1h-1zM274.13 532.91h1v1h-1zM277.19 531.91h1v1h-1zM266.19 531.35h1v1h-1zM270.54 522.75h1v1h-1zM278.5 531.5h1v1h-1zM279.37 529.05h1v1h-1zM275.21 529.02h1v1h-1zM271.55 532.8h1v1h-1zM270.87 531.65h1v1h-1zM270.27 534.01h1v1h-1zM274.72 522.93h1v1h-1zM281.24 530.99h1v1h-1zM267.19 526.9h1v1h-1zM283.37 529.64h1v1h-1zM273.8 531.59h1v1h-1zM266.63 536.03h1v1h-1zM284.11 526.3h1v1h-1zM277.85 523.03h1v1h-1zM268.33 529.54h1v1h-1zM270.84 531.49h1v1h-1zM273.11 530.73h1v1h-1zM269.62 530.47h1v1h-1zM266.91 536.85h1v1h-1zM270.9 534.06h1v1h-1zM271.18 528.73h1v1h-1zM269.34 524.35h1v1h-1zM283.93 530.89h1v1h-1zM271.35 527.52h1v1h-1zM278.78 528.04h1v1h-1zM267.53 527.23h1v1h-1zM280.47 530.49h1v1h-1zM269.56 526.84h1v1h-1zM278.8 530.41h1v1h-1zM268.37 532.74h1v1h-1zM276.17 525.49h1v1h-1zM277.93 533.48h1v1h-1zM268.95 524.21h1v1h-1zM277.58 527.99h1v1h-1zM269.2 528.2h1v1h-1zM268.77 532.51h1v1h-1zM263.47 531.35h1v1h-1zM277.99 533.35h1v1h-1zM275.17 530.32h1v1h-1zM269.26 528.85h1v1h-1zM264.88 535.71h1v1h-1zM269.77 525.44h1v1h-1zM275.89 535.08h1v1h-1zM272.32 528.09h1v1h-1zM263.37 531.77h1v1h-1zM268.97 526.78h1v1h-1zM274.4 524.37h1v1h-1zM275.27 520.02h1v1h-1zM266.57 523.85h1v1h-1zM268.97 532.35h1v1h-1zM262.19 534.5h1v1h-1zM266.17 527.47h1v1h-1zM276.92 526.53h1v1h-1zM279.87 528.53h1v1h-1zM269.94 525.64h1v1h-1zM277.92 529.06h1v1h-1zM267.45 525.69h1v1h-1zM266.49 528.94h1v1h-1zM265.95 532.34h1v1h-1zM270.33 526.95h1v1h-1zM273.51 534.74h1v1h-1zM257.25 530.67h1v1h-1zM277.47 529.83h1v1h-1zM275.84 523.45h1v1h-1zM265.78 533.15h1v1h-1zM269.98 529.54h1v1h-1zM274.58 530.71h1v1h-1zM273.45 527.42h1v1h-1zM268.67 534.28h1v1h-1zM267.44 523.83h1v1h-1zM268.34 532.71h1v1h-1zM282.02 529.88h1v1h-1zM266.63 531.62h1v1h-1zM272.51 533.8h1v1h-1zM273.9 532.17h1v1h-1zM273.83 530.9h1v1h-1zM264.79 528.69h1v1h-1zM280.79 534.36h1v1h-1zM276.74 530.81h1v1h-1zM269.9 530.63h1v1h-1zM268.51 533.44h1v1h-1zM268.62 526.43h1v1h-1zM260.36 535.21h1v1h-1zM265.82 526.05h1v1h-1zM273.19 536.12h1v1h-1zM274.86 528.05h1v1h-1zM274.22 526.18h1v1h-1zM269.03 529.42h1v1h-1zM270.72 532.26h1v1h-1zM274.06 536.45h1v1h-1zM275.93 528.24h1v1h-1zM272.27 526.09h1v1h-1zM266.77 528.02h1v1h-1zM277.08 526.7h1v1h-1zM260.76 525.48h1v1h-1zM263.04 528.61h1v1h-1zM268.74 524.89h1v1h-1zM265.64 527.74h1v1h-1zM273.16 531.63h1v1h-1zM279.04 528.34h1v1h-1zM274.66 529.6h1v1h-1zM263.76 526.91h1v1h-1zM284.52 528.71h1v1h-1zM281.11 532.44h1v1h-1zM281.2 528.6h1v1h-1zM276.59 528.17h1v1h-1zM263.7 524.89h1v1h-1zM273.48 523.22h1v1h-1zM273.02 526.02h1v1h-1zM272.96 524.12h1v1h-1zM276.08 528.44h1v1h-1zM261.07 523.87h1v1h-1zM271.13 523.13h1v1h-1zM272.8 531.14h1v1h-1zM266.59 534.59h1v1h-1zM279.84 530.5h1v1h-1zM273.61 531.1h1v1h-1zM269.09 534.27h1v1h-1zM267.37 519.81h1v1h-1zM270.87 530.98h1v1h-1zM275.93 525.14h1v1h-1zM279.5 526.21h1v1h-1zM274.72 532.07h1v1h-1zM271.87 533.59h1v1h-1zM267.64 537.06h1v1h-1zM273.84 527.72h1v1h-1zM287.14 529.29h1v1h-1zM260.55 534.67h1v1h-1zM280.48 527.13h1v1h-1zM264.53 533.57h1v1h-1zM271.12 525.68h1v1h-1zM267.73 529.57h1v1h-1zM276.94 535.23h1v1h-1zM266.86 535.11h1v1h-1zM261.25 532.01h1v1h-1zM269.89 530.96h1v1h-1zM268.02 526.62h1v1h-1zM272.54 533.58h1v1h-1zM256.83 529.5h1v1h-1zM268.23 525.26h1v1h-1zM262.3 531.27h1v1h-1zM274.25 531.75h1v1h-1zM258.26 523.55h1v1h-1zM266.91 527.67h1v1h-1zM281.85 527.85h1v1h-1zM271.56 533.08h1v1h-1zM281.27 530.72h1v1h-1zM272.92 536.64h1v1h-1zM268.23 522.52h1v1h-1zM266.05 528.12h1v1h-1zM279.01 530.51h1v1h-1zM278.34 529.7h1v1h-1zM271.04 527.13h1v1h-1zM263.02 531.23h1v1h-1zM273.05 531.48h1v1h-1zM267.42 527.72h1v1h-1zM273.15 531.61h1v1h-1zM283.29 526h1v1h-1zM276.99 532.66h1v1h-1zM269.12 529.83h1v1h-1zM270.42 535.1h1v1h-1zM286.77 530.53h1v1h-1zM269.17 532.91h1v1h-1zM273.88 528.61h1v1h-1zM275.51 532.61h1v1h-1zM268.3 532.53h1v1h-1zM256.69 524.44h1v1h-1zM268.82 529.91h1v1h-1zM261.62 534.91h1v1h-1zM268.4 529.88h1v1h-1zM270.51 532.17h1v1h-1zM267.14 532.12h1v1h-1zM265.56 523.7h1v1h-1zM274 529.92h1v1h-1zM276.31 521.96h1v1h-1zM271.47 526.87h1v1h-1zM269.6 527.82h1v1h-1zM268.42 526.78h1v1h-1zM277.19 522.79h1v1h-1zM260.27 530.62h1v1h-1zM283.42 526.42h1v1h-1zM265.09 524.88h1v1h-1zM264.37 534.05h1v1h-1zM275.06 532.72h1v1h-1zM272.96 530.2h1v1h-1zM267.12 525.63h1v1h-1zM268.46 534.12h1v1h-1zM266.36 529.46h1v1h-1zM281.45 529.03h1v1h-1zM274.77 527.18h1v1h-1zM282.59 524.64h1v1h-1zM274.3 528.4h1v1h-1zM272.01 530.68h1v1h-1zM279.04 532.63h1v1h-1zM277.4 530.7h1v1h-1zM264.06 534.4h1v1h-1zM280.44 531.14h1v1h-1zM275.77 528.43h1v1h-1zM261.72 533.04h1v1h-1zM266.21 536.58h1v1h-1zM275.11 529.24h1v1h-1zM266.91 529.72h1v1h-1zM264.42 527.88h1v1h-1zM280.82 528.19h1v1h-1zM282.34 528.94h1v1h-1zM273.39 525.8h1v1h-1zM268.88 527.61h1v1h-1zM262.03 536.66h1v1h-1zM274.48 528.99h1v1h-1zM263.88 529.43h1v1h-1zM264.14 525.62h1v1h-1zM269.58 537.52h1v1h-1zM259.81 531.44h1v1h-1zM267.32 518.27h1v1h-1zM261.87 528.8h1v1h-1zM271.15 526.44h1v1h-1zM281.93 531.35h1v1h-1zM266.78 523.05h1v1h-1zM271.85 526.76h1v1h-1zM277.19 525.33h1v1h-1zM278.28 527.56h1v1h-1zM271.98 528.28h1v1h-1zM274.68 533.68h1v1h-1zM267.32 525.87h1v1h-1zM282.68 532.95h1v1h-1zM282.77 532.95h1v1h-1zM271.58 535.52h1v1h-1zM266.52 527.68h1v1h-1zM268.22 531.92h1v1h-1zM265.37 528.63h1v1h-1zM265.41 528.42h1v1h-1zM277.8 533.54h1v1h-1zM266.3 531.05h1v1h-1zM267.72 520.86h1v1h-1zM263.25 534.03h1v1h-1zM269.95 530.34h1v1h-1zM278.63 529.42h1v1h-1zM266.72 526.98h1v1h-1zM264.79 531.41h1v1h-1zM267.75 531.26h1v1h-1zM261.24 527.66h1v1h-1zM283.72 530.7h1v1h-1zM270.06 533.83h1v1h-1zM272.46 535.16h1v1h-1zM263.38 532.24h1v1h-1zM264.02 531.91h1v1h-1zM286.22 535.15h1v1h-1zM265.3 530.92h1v1h-1zM273.6 526.56h1v1h-1zM272.24 525.24h1v1h-1zM276.81 532.8h1v1h-1zM269.68 531.93h1v1h-1zM285.75 528.7h1v1h-1zM258.89 530.59h1v1h-1zM267.84 526.32h1v1h-1zM276.39 533.14h1v1h-1zM274.46 535.55h1v1h-1zM266.71 527.72h1v1h-1zM273.35 518.97h1v1h-1zM253.43 530.62h1v1h-1zM269.34 529.53h1v1h-1zM264.61 530.18h1v1h-1zM277.37 526.89h1v1h-1zM274.25 528.72h1v1h-1zM269.68 529.75h1v1h-1zM280.21 531.3h1v1h-1zM275.01 529.88h1v1h-1zM257.09 532.91h1v1h-1zM270.55 529.68h1v1h-1zM267.47 523.41h1v1h-1zM280.1 536.32h1v1h-1zM280.61 522.27h1v1h-1zM274.15 524.8h1v1h-1zM269.49 527.34h1v1h-1zM266.74 526.36h1v1h-1zM267.61 532.28h1v1h-1zM280.85 532.86h1v1h-1zM270.58 528.76h1v1h-1zM269.1 529.23h1v1h-1zM266.73 528.62h1v1h-1zM276.02 528.45h1v1h-1zM265.49 528.84h1v1h-1zM271.19 529.01h1v1h-1zM268.98 532.01h1v1h-1zM270.36 525.44h1v1h-1zM274.24 526.58h1v1h-1zM275.54 532.43h1v1h-1zM273.7 530.49h1v1h-1zM262.09 528.55h1v1h-1zM271.43 531.75h1v1h-1zM263.51 528.72h1v1h-1zM260.87 529.99h1v1h-1zM271.13 529.78h1v1h-1zM281.13 532.12h1v1h-1zM269.4 527.09h1v1h-1zM267.8 532.3h1v1h-1zM276.43 527.38h1v1h-1zM269.89 527.65h1v1h-1zM274.99 530.03h1v1h-1zM266.05 525.92h1v1h-1zM278.89 523.95h1v1h-1zM259.1 517.53h1v1h-1zM283.54 527.25h1v1h-1zM276.06 531.45h1v1h-1zM275.96 533.66h1v1h-1zM267.64 529.24h1v1h-1zM276.88 531.44h1v1h-1zM265.8 526.42h1v1h-1zM261.42 530.3h1v1h-1zM267.23 523.36h1v1h-1zM267.06 530.55h1v1h-1zM271.78 528.46h1v1h-1zM271.66 531.8h1v1h-1zM262.98 526.19h1v1h-1zM276.83 532.12h1v1h-1zM261.67 526.54h1v1h-1zM279.87 532.19h1v1h-1zM269.69 533.21h1v1h-1zM279.36 534.71h1v1h-1zM261.73 524.35h1v1h-1zM267.37 529.12h1v1h-1zM268.36 530.24h1v1h-1zM280.08 533.51h1v1h-1zM276.95 529.3h1v1h-1zM281.17 531.06h1v1h-1zM272.17 529.24h1v1h-1zM258.88 537.54h1v1h-1zM270.47 532.75h1v1h-1zM285.11 528.58h1v1h-1zM263.18 533.2h1v1h-1zM272.16 525.7h1v1h-1zM276.79 529.35h1v1h-1zM264.57 519.64h1v1h-1zM264.26 530.77h1v1h-1zM263.99 533.02h1v1h-1zM284.72 530.53h1v1h-1zM272.07 529.01h1v1h-1zM276.14 529.43h1v1h-1zM277.27 534.74h1v1h-1zM276.09 525.63h1v1h-1zM274.89 528.31h1v1h-1zM272.63 533.01h1v1h-1zM266.38 530.1h1v1h-1zM280.03 526.13h1v1h-1zM269.39 532.08h1v1h-1zM269.14 533.22h1v1h-1zM264.15 523.59h1v1h-1zM273.04 528.79h1v1h-1zM272.63 532.98h1v1h-1zM277.36 527.99h1v1h-1zM268.14 521.92h1v1h-1zM264.37 530.25h1v1h-1zM272.02 523.66h1v1h-1zM275.66 529.16h1v1h-1zM277.68 527.97h1v1h-1zM276.82 525.1h1v1h-1zM258.73 526.24h1v1h-1zM275.11 530.87h1v1h-1zM258.51 529.88h1v1h-1zM274.92 535.71h1v1h-1zM275.63 531.25h1v1h-1zM260.47 530.73h1v1h-1zM257.98 528.19h1v1h-1zM268.24 525.62h1v1h-1zM264.1 528.78h1v1h-1zM274.35 526.86h1v1h-1zM272.55 532.02h1v1h-1zM270.47 536.59h1v1h-1zM268.61 526.53h1v1h-1zM258.41 533.39h1v1h-1zM274.98 528.61h1v1h-1zM272.61 528.82h1v1h-1zM276.22 529.27h1v1h-1zM272.07 529.01h1v1h-1zM264.92 520.88h1v1h-1zM274.11 524.59h1v1h-1zM273.17 531.74h1v1h-1zM282.72 526.49h1v1h-1zM271.57 532.91h1v1h-1zM266.31 527.08h1v1h-1zM273.49 537.15h1v1h-1zM277.55 532.94h1v1h-1zM264.42 531.82h1v1h-1zM277.94 524.52h1v1h-1zM270.68 528.58h1v1h-1zM274.76 522.71h1v1h-1zM275.15 529.31h1v1h-1zM268.9 521.29h1v1h-1zM257.28 527.25h1v1h-1zM274.8 530.92h1v1h-1zM275.43 522.87h1v1h-1zM271.91 534.42h1v1h-1zM260.64 531.78h1v1h-1zM265.93 531.39h1v1h-1zM271.25 523.15h1v1h-1zM263.85 534.13h1v1h-1zM269.91 534h1v1h-1zM272.78 532.69h1v1h-1zM268.06 530.14h1v1h-1zM268.21 532.75h1v1h-1zM266.9 533.51h1v1h-1zM280.72 524.71h1v1h-1zM269.51 531.36h1v1h-1zM282.02 533.67h1v1h-1zM271.16 522.76h1v1h-1zM276.01 527.08h1v1h-1zM271.85 530.84h1v1h-1zM261.53 533.34h1v1h-1zM276.5 531.49h1v1h-1zM274.44 530.66h1v1h-1zM261.61 527.39h1v1h-1zM275.84 528.06h1v1h-1zM270.76 530.72h1v1h-1zM271.16 530.29h1v1h-1zM273.72 529.32h1v1h-1z" fill="#000" fill-opacity="0.72"/>
<path d="M254.07 524.34h0.8v0.8h-0.8zM268.33 522.41h0.8v0.8h-0.8zM264.96 527.06h0.8v0.8h-0.8zM255.6 512.28h0.8v0.8h-0.8zM261.58 521.94h0.8v0.8h-0.8zM257.36 530.03h0.8v0.8h-0.8zM256.39 527.26h0.8v0.8h-0.8zM262.51 526.55h0.8v0.8h-0.8zM275.48 516.3h0.8v0.8h-0.8zM268.38 524.93h0.8v0.8h-0.8zM259.77 522.46h0.8v0.8h-0.8zM261.98 525.83h0.8v0.8h-0.8zM255.36 533.35h0.8v0.8h-0.8zM256.57 524.97h0.8v0.8h-0.8zM252.93 526.32h0.8v0.8h-0.8zM264.17 530.73h0.8v0.8h-0.8zM268.48 523.25h0.8v0.8h-0.8zM272.8 525.11h0.8v0.8h-0.8zM272.43 533.7h0.8v0.8h-0.8zM258.92 520.54h0.8v0.8h-0.8zM265.45 532.39h0.8v0.8h-0.8zM264.45 530.78h0.8v0.8h-0.8zM265.81 529.8h0.8v0.8h-0.8zM270.85 524.22h0.8v0.8h-0.8zM251.91 525.05h0.8v0.8h-0.8zM256.24 519.99h0.8v0.8h-0.8zM260.54 528.97h0.8v0.8h-0.8zM267.21 521.43h0.8v0.8h-0.8zM259 531.99h0.8v0.8h-0.8zM269.45 527.3h0.8v0.8h-0.8zM265.42 512.8h0.8v0.8h-0.8zM265.54 527.41h0.8v0.8h-0.8zM252.09 526.47h0.8v0.8h-0.8zM264.85 525.06h0.8v0.8h-0.8zM267.16 529.77h0.8v0.8h-0.8zM262.05 524.44h0.8v0.8h-0.8zM253.54 530.98h0.8v0.8h-0.8zM257.74 527.11h0.8v0.8h-0.8zM272.28 529.26h0.8v0.8h-0.8zM252.92 525.2h0.8v0.8h-0.8zM256.77 517.85h0.8v0.8h-0.8zM256.16 528.36h0.8v0.8h-0.8zM264.03 524.63h0.8v0.8h-0.8zM262.9 520.12h0.8v0.8h-0.8zM256.39 524.82h0.8v0.8h-0.8zM267.18 524.1h0.8v0.8h-0.8zM260.55 527.18h0.8v0.8h-0.8zM271.83 519.67h0.8v0.8h-0.8zM265.37 526.48h0.8v0.8h-0.8zM261.2 526.77h0.8v0.8h-0.8zM260.05 519.79h0.8v0.8h-0.8zM267.51 525.04h0.8v0.8h-0.8zM259.32 529.18h0.8v0.8h-0.8zM255.33 522.23h0.8v0.8h-0.8zM267.38 529.71h0.8v0.8h-0.8zM275.62 523.45h0.8v0.8h-0.8zM251.66 518.62h0.8v0.8h-0.8zM253.43 526.1h0.8v0.8h-0.8zM260.04 522.43h0.8v0.8h-0.8zM254.72 522.33h0.8v0.8h-0.8zM259.16 531.2h0.8v0.8h-0.8zM265.99 532.05h0.8v0.8h-0.8zM267.33 529.19h0.8v0.8h-0.8zM269.8 527.73h0.8v0.8h-0.8zM272.3 530.93h0.8v0.8h-0.8zM274.21 526.63h0.8v0.8h-0.8zM256.34 537.44h0.8v0.8h-0.8zM259.74 528.06h0.8v0.8h-0.8zM259.07 522.33h0.8v0.8h-0.8zM264.68 520.34h0.8v0.8h-0.8zM260.58 532.25h0.8v0.8h-0.8zM262.53 529.47h0.8v0.8h-0.8zM266.09 527.42h0.8v0.8h-0.8zM262.4 528.49h0.8v0.8h-0.8zM254.99 528.35h0.8v0.8h-0.8zM254.26 522.06h0.8v0.8h-0.8zM257.62 519.32h0.8v0.8h-0.8zM265.14 528.71h0.8v0.8h-0.8zM276.91 526.43h0.8v0.8h-0.8zM266.82 522.1h0.8v0.8h-0.8zM266.55 520.24h0.8v0.8h-0.8zM275.27 521.07h0.8v0.8h-0.8zM258.83 529.13h0.8v0.8h-0.8zM255.1 526.54h0.8v0.8h-0.8zM268.42 526.34h0.8v0.8h-0.8zM268.1 523.24h0.8v0.8h-0.8zM265.75 515.36h0.8v0.8h-0.8zM272.1 522.48h0.8v0.8h-0.8zM255.69 525.68h0.8v0.8h-0.8zM273.38 522.29h0.8v0.8h-0.8zM261.5 523.91h0.8v0.8h-0.8zM255.21 519.46h0.8v0.8h-0.8zM265.72 528.93h0.8v0.8h-0.8zM256.46 526.68h0.8v0.8h-0.8zM264.74 527.39h0.8v0.8h-0.8zM260.5 525.82h0.8v0.8h-0.8z" fill="#000" fill-opacity="0.45"/>
<path d="M51.2 495.2 L86.5 495.2 L86.5 544 L44.2 544 L44.2 536.2 Z" fill="none" stroke="#333" stroke-width="1.1"/>
<path d="M123.5 494.6 L159 494.6 L159 544 L115.4 544 L115.4 544 Z" fill="none" stroke="#333" stroke-width="1.1"/>
<path d="M195.6 494.6 L232.1 494.6 L232.1 544 L189.8 544 L189.8 539.4 Z" fill="none" stroke="#333" stroke-width="1.1"/>
<path d="M268.8 494.8 L303.5 494.8 L303.5 544 L261.5 544 L261.5 544 Z" fill="none" stroke="#333" stroke-width="1.1"/>
</svg>
</body></html>
